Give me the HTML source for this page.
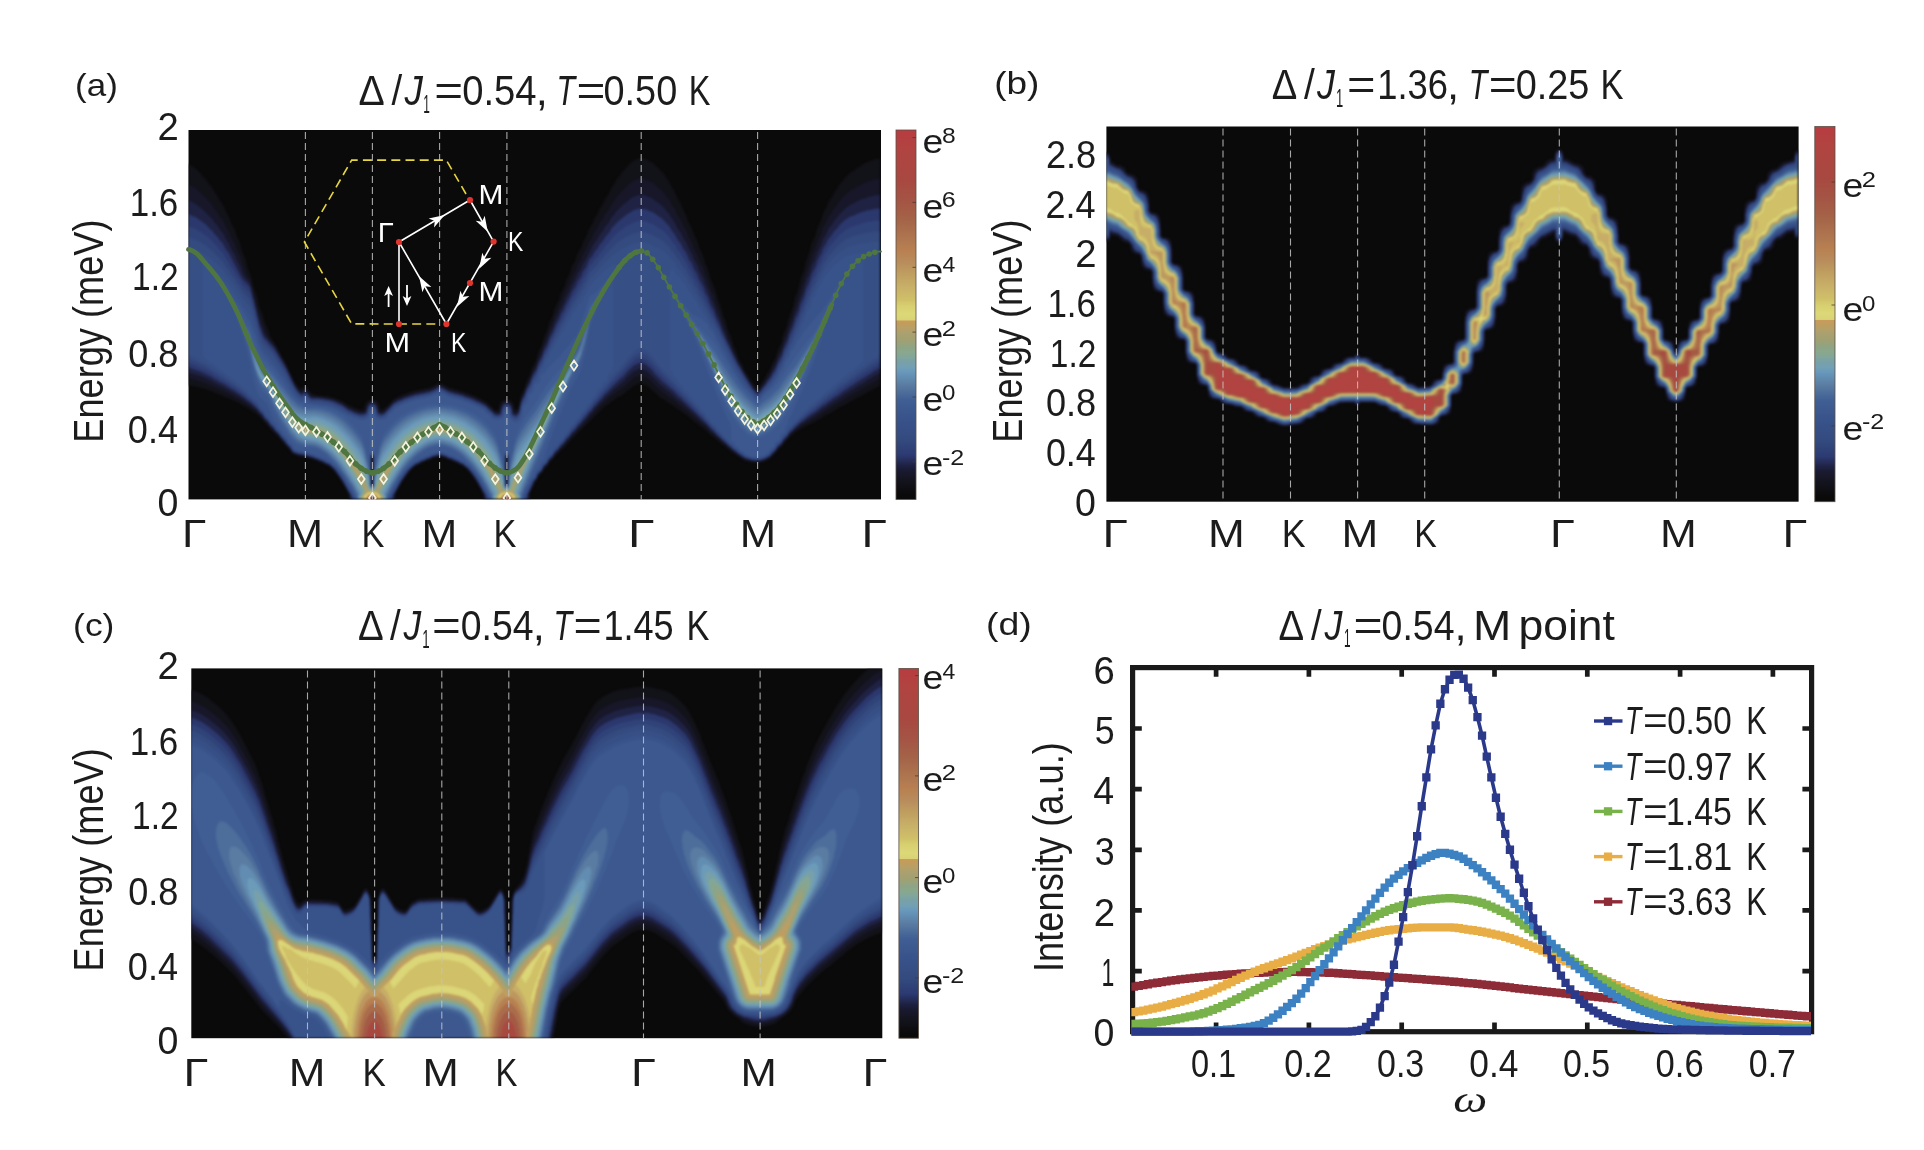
<!DOCTYPE html><html><head><meta charset="utf-8"><title>fig</title><style>html,body{margin:0;padding:0;background:#fff}svg{display:block}</style></head><body>
<svg style="opacity:0.999" width="1924" height="1150" viewBox="0 0 1924 1150" font-family="'Liberation Sans', sans-serif" fill="#1c1c1c">
<defs><filter id="bl" color-interpolation-filters="sRGB" x="-5%" y="-5%" width="110%" height="110%"><feGaussianBlur stdDeviation="1.6"/></filter>
<linearGradient id="cbg" x1="0" y1="1" x2="0" y2="0"><stop offset="0.0000" stop-color="#0a0a0a"/><stop offset="0.0120" stop-color="#0a0a0a"/><stop offset="0.0525" stop-color="#14141e"/><stop offset="0.0800" stop-color="#1a1a32"/><stop offset="0.0930" stop-color="#1f2244"/><stop offset="0.1200" stop-color="#2c3a72"/><stop offset="0.1600" stop-color="#334a7e"/><stop offset="0.2150" stop-color="#38528a"/><stop offset="0.2700" stop-color="#405f94"/><stop offset="0.3100" stop-color="#5a7ca2"/><stop offset="0.3450" stop-color="#6898bc"/><stop offset="0.3580" stop-color="#72a0b4"/><stop offset="0.3720" stop-color="#78a0a8"/><stop offset="0.3850" stop-color="#80a69c"/><stop offset="0.4000" stop-color="#8aa88a"/><stop offset="0.4100" stop-color="#8ca488"/><stop offset="0.4230" stop-color="#9aa278"/><stop offset="0.4370" stop-color="#a4a070"/><stop offset="0.4500" stop-color="#aca070"/><stop offset="0.4640" stop-color="#b8a064"/><stop offset="0.4775" stop-color="#c49c5c"/><stop offset="0.4840" stop-color="#c89c5c"/><stop offset="0.4846" stop-color="#d8d274"/><stop offset="0.5000" stop-color="#dcd878"/><stop offset="0.5230" stop-color="#d8d070"/><stop offset="0.5400" stop-color="#d0c068"/><stop offset="0.5750" stop-color="#c8b068"/><stop offset="0.6070" stop-color="#c0a060"/><stop offset="0.6430" stop-color="#b88c5c"/><stop offset="0.6750" stop-color="#b88050"/><stop offset="0.7000" stop-color="#b07850"/><stop offset="0.7560" stop-color="#a46448"/><stop offset="0.8100" stop-color="#a45444"/><stop offset="0.8650" stop-color="#a84840"/><stop offset="0.9460" stop-color="#b04440"/><stop offset="1.0000" stop-color="#b83c40"/></linearGradient>
</defs>
<rect width="1924" height="1150" fill="#ffffff"/>
<clipPath id="cp1"><rect x="188.5" y="130.0" width="692.5" height="369.4"/></clipPath>
<rect x="188.5" y="130.0" width="692.5" height="369.4" fill="#0a0a0a"/>
<g clip-path="url(#cp1)"><g filter="url(#bl)" transform="translate(188.50,130.00) scale(0.5000)">
<path fill="#121219" d="M1383 56l-1 1-12 2-8 4-2 0-14 7-3 3-5 2-7 6-6 3-13 12-2 4-7 7-7 12-4 4-4 9-8 11-3 9-7 12-5 16-7 14-5 18-6 12-3 9-1 7-2 4 0 3-2 3-5 14-4 19-6 14-4 19-8 21-3 15-5 14-2 3 0 3-2 4-4 17-6 13-4 18-3 7-3 4-6 20-7 12 0 2-5 11-6 8-3 8-7 9-4 9-3 3-3 0-2-2-4-8-6-7-4-9-8-10-3-9-9-16-4-14-7-14 0-3-2-4-2-9-7-15-3-14-6-13-3-13-2-4 0-3-6-14-7-25-5-9-3-9-1-7-2-4 0-3-6-12-5-18-6-11-5-16-7-13-2-8-9-18-3-10-10-19-3-9-7-10 0-2-6-13-4-5-6-13-5-6-5-9-22-21-14-8-3 0-5-2-5 0-12 5-7 6-17 18-4 7-7 8-5 10-5 6-5 12-8 11 0 2-4 8-6 8-5 12-4 5-4 8 0 2-10 18-2 7-8 14-3 10-8 14-5 15-6 9-6 19-5 8-5 16-7 13-4 14-8 16-4 15-6 11-5 18-6 12-5 18-6 11-6 21-7 12-4 14-6 10-5 17-7 14-4 20-3 7-2 2-2 0-2-2-2-9-4-6-7-3-6 0-5 2-4 4-3 7-1 7-2 2-3 0-4-2-3-4-13-12-7-3-5-4-2 0-9-5-5-1-7-4-3 0-9-4-3 0-7-3-4 0-7-3-6-1-16-9-6 0-5 4-15 6-4 0-5 2-5 0-5 2-8 1-29 10-13 7-6 7-15 14-4 0-2-2-1-7-3-6-5-4-10-1-5 2-4 4-2 4-2 9-1 1-7 0-12-4-5-3-5-1-14-9-9-4-16-5-26-3-9-3-5-4-3-6-4-4-4 0-4 3-5 0-11-14-19-41-2-2-8-16-18-30-4-14-7-14-6-21-3-5-3-9-3-16-9-23-4-19-7-17-4-18-6-13-6-22-5-9-5-16-7-12-3-10-5-8-9-20-7-9-4-9-4-4-6-11-6-6-4-7-8-8-4-6-12-11-13-9 0 444 15 2 4 2 4 0 8 3 3 0 6 3 5 1 7 4 5 1 7 4 3 0 7 4 5 1 25 12 2 2 9 4 3 3 7 3 4 4 6 3 25 26 3 5 18 17 3 5 20 22 1 3 4 4 11 4 6 0 5 2 8 1 18 6 7 4 5 1 8 5 2 0 8 6 5 5 10 14 15 25 4 8-1 1 0 6 95 0-1-9 2-4 2-2 3-7 9-15 14-19 11-9 6-2 2-2 15-7 3 0 7-4 10-3 8 0 9 3 5 3 5 1 7 4 5 1 2 2 9 4 4 4 3 1 12 14 17 27 6 12-2 7 96 0-1-11 7-13 0-2 3-6 4-4 3-6 0-2 9-9 2-5 9-9 3-6 8-7 2-4 5-4 4-5 10-9 13-15 69-68 6-3 6-6 6-3 6-5 5-2 9-6 6-6 4-2 8-7 11-5 5 0 12 5 26 24 8 4 3 3 18 11 4 4 8 4 5 5 6 3 16 14 4 2 5 5 9 6 2 3 5 3 9 9 4 2 18 16 3 1 8 8 4 2 6 6 5 2 7 6 5 2 7 5 7 1 4 2 19 1 1-1 7-1 9-5 2 0 6-7 9-8 2-4 10-9 2-4 10-11 15-13 5-2 3-3 6-2 2-2 18-9 2 0 5-4 7-3 5-4 19-10 5-4 4-1 5-4 18-9 5-4 2 0 6-3 2-2 9-4 2-2 9-4 2-2 9-4 2-2 9-4 6-4z"/>
<path fill="#171729" d="M1383 97l-1 1-11 1-7 3-6 1-15 7-2 2-6 2-3 3-7 3-4 4-5 3-15 16-4 7-7 8-4 8-5 6-8 17-4 6-4 13-8 16-3 12-7 13-6 22-6 13-4 18-5 11-4 12-1 7-5 14-2 3-4 17-3 9-5 10 0 3-2 4 0 3-4 12-4 7-6 22-7 13-4 13-6 10-7 16-3 3-7 13-5 5-5 10-3 3-2 0-5-5-1-3-8-10-25-44-2-7-7-13-4-15-6-11-6-21-7-15-3-13-7-15-5-18-6-11-6-21-5-9-4-14-8-15-5-15-2-2-5-10-2-8-9-16-1-5-5-10-2-2-7-16-5-6-8-17-3-3-6-12-7-8-4-7-22-19-7-3-4-3-7-2-4 0-1-1-7 1-10 4-4 4-4 2-25 26-3 6-7 8-5 11-7 8-4 9-7 9-4 9-8 11-6 14-4 5-3 6 0 2-11 20-2 7-5 7-5 11 0 2-10 18-2 8-9 17-3 10-8 15-2 8-8 15-4 14-7 13-5 17-6 11-4 14-8 16-3 12-9 16-3 11-8 15-3 11-7 14-6 25-4 5-4 0-1-1-4-14-5-6-9-1-4 2-4 6-3 12-2 2-6 0-20-18-15-8-2 0-6-4-5-1-5-3-6-1-9-4-3 0-4-2-17-4-19-10-4 1-4 3-14 6-12 2-1 1-5 0-5 2-4 0-7 3-6 1-6 3-3 0-7 4-5 1-9 5-7 8-15 14-6 0-1-1-5-15-4-4-3-1-6 0-7 6-3 8 0 3-3 4-8 0-19-7-6-3-9-7-18-8-3 0-9-3-5 0-1-1-25-2-6-4-3-6-4-4-3 0-6 4-3 0-4-4-8-13-19-41-6-9-11-21-6-9-9-10-7-14-6-20-6-13-2-11-6-18 0-3-1-1-5-23-4-11 0-3-6-7-2-4-3-11-4-7-5-18-7-13-3-10-6-10-5-11 0-2-6-9-6-14-7-8-4-8-7-8-6-10-8-9-23-22-15-9 0 389 4 0 4 2 4 0 7 3 3 0 6 3 8 2 5 3 2 0 11 6 6 2 4 3 5 1 4 3 6 2 10 6 2 0 5 4 7 3 5 4 5 2 7 6 3 1 4 4 8 5 14 15 3 5 7 6 2 4 22 23 26 32 11 4 15 2 24 8 13 6 2 2 2 0 6 3 5 4 12 15 18 29 3 7 2 2 0 7-1 1 92 0 0-5-1-2 12-22 17-25 9-9 17-10 5-1 7-4 3 0 7-4 6-1 4-2 9 1 11 5 5 1 7 4 5 1 4 3 9 4 4 4 4 2 14 18 14 23 6 12 0 5-1 2 92 0-1-9 12-25 4-5 2-6 9-9 4-8 6-5 3-6 9-9 2-4 11-12 8-7 3-5 8-7 3-5 9-8 4-6 8-7 39-43 22-20 4-2 6-6 3-1 8-7 4-2 18-17 11-5 6 0 11 5 29 28 3 1 5 5 16 11 7 7 6 3 7 7 4 2 18 17 4 2 20 18 9 10 4 2 19 18 4 2 5 6 4 2 6 6 7 4 4 4 11 7 7 3 3 0 5 2 5 0 1 1 12 0 1-1 3 0 6-2 11-6 13-14 2-4 9-8 2-4 9-9 3-5 12-11 7-4 4-4 17-9 3-3 9-4 4-4 5-2 9-7 16-9 3-3 7-3 6-5 2 0 18-12 7-3 5-4 7-3 3-3 7-3 5-4 7-3 5-4 4-1 9-6zM636 652l2 2-1 55-1 1-1-1 0-56zM367 652l2 2 0 35-1 1 0 19-1 1-1-1 0-56z"/>
<path fill="#1f2243" d="M1383 130l-13 1-1 1-11 2-3 2-8 2-13 6-4 3-6 2-3 3-7 4-5 6-8 7-2 4-7 7-5 9-7 8-4 10-8 13-3 10-9 18 0 3-3 6 0 2-6 10-6 21-4 7-4 12-3 13-7 16 0 3-2 4-2 9-5 10-7 24-4 7-6 21-5 9-6 20-6 10-5 15-7 11-4 10-6 7-7 12-5 5-3 6-4 3-3 0-11-14-1-3-13-20-7-14-2-2-15-30-4-11-6-11-3-11-7-14-4-15-7-14-6-19-5-8-5-17-6-11-4-13-9-17-2-7-9-16-2-7-5-8-9-20-3-3-7-15-6-7-6-13-7-9-4-8-6-6-3-5-14-12-3-1-7-6-18-7-10 0-11 4-9 6-7 7-4 2-5 6-8 7-6 9-5 5-2 5-4 6-5 5-4 8-6 7-6 11-7 9-17 33-4 5-7 16-3 3-9 20-5 7-4 12-8 14-2 7-5 10-3 4-3 10-9 17-2 8-8 15-4 13-7 13-5 16-6 10-4 14-10 18-2 8-8 14-3 11-6 11-4 13-2 12-2 4-4 3-2 0-4-3-2-10-3-6-5-4-6 0-4 3-5 12 0 4-3 3-7 0-21-19-7-3-2-2-4-1-9-5-5-1-5-3-8-2-3-2-30-8-16-9-6 1-5 4-12 5-4 0-5 2-18 3-7 3-6 1-3 2-6 1-7 4-3 0-11 6-7 8-15 14-7 0-2-2-2-9-3-6-4-4-7 0-4 3-3 6-1 6-3 5-2 1-9 0-22-9-14-10-11-5-9-3-8-1-1-1-5 0-1-1-26-2-10-12-3 0-5 4-3 0-10-13-21-44-2-2-3-7-2-2-13-24-15-17-2-4-3-2-3-6-2-8-5-10 0-3-2-4 0-3-3-9 0-4-1-1-10-43-4-11 0-3-9-10-6-9-5-15-8-15-2-7-7-11-6-14-6-8-3-8-9-11-4-7-6-6-5-8-4-3-11-12-16-13-16-9 0 345 26 8 22 10 2 2 9 4 6 4 4 1 5 4 6 2 5 4 7 3 5 4 5 2 7 6 3 1 8 7 3 1 7 7 4 2 4 4 3 5 6 5 5 8 6 5 5 8 7 6 3 5 8 7 2 4 9 10 3 5 9 9 2 4 4 4 12 4 5 0 1 1 8 1 4 2 9 2 6 3 3 0 15 7 2 2 6 2 12 11 17 25 14 25-1 6 88 0 0-5-1-1 2-2 12-23 9-14 15-18 7-5 6-2 8-5 2 0 7-4 3 0 7-4 6-1 4-2 7 0 4 2 6 1 7 4 3 0 23 11 8 6 12 14 13 20 10 20 2 2-1 6 88 0-1-7 11-22 0-2 2-4 4-4 3-8 8-8 4-8 6-5 5-9 6-5 5-8 7-6 3-5 19-20 2-4 22-23 2-4 7-6 3-5 9-9 3-5 10-11 8-7 6-8 5-3 10-11 22-18 5-6 14-13 14-6 13 5 28 29 4 2 7 7 4 2 19 18 4 2 33 30 7 8 15 13 7 9 5 3 7 8 6 4 5 6 5 3 6 7 4 2 7 7 20 14 10 4 8 1 1 1 6 0 1 1 12-2 16-8 12-13 2-4 9-8 4-7 8-8 3-5 24-21 6-3 4-4 5-2 7-6 2 0 10-8 3-1 4-4 9-5 4-4 3-1 9-7 5-2 18-13 5-2 4-4 7-3 3-3 18-10 6-5 7-3 3-3 15-8zM636 651l2 2 0 56-2 2-1-1 0-14-1-1 0-41zM367 651l2 2 0 56-2 2-1-1 0-22-1-1 0-33z"/>
<path fill="#2b386e" d="M1383 157l-13 1-1 1-13 2-4 2-6 1-5 3-3 0-7 4-7 2-11 7-11 10-3 5-9 9-4 7-7 8-5 11-3 3-3 6-1 5-9 17-4 13-7 12-6 20-6 12-4 16-6 12-3 9 0 3-3 9-5 9-5 18-7 14-4 15-8 16-3 12-9 16-4 12-6 8-4 9-4 4-8 12-5 5-2 4-5 5-4 0-8-9-30-50-30-62-6-17-7-13-4-13-7-12-5-16-6-10-3-10-9-16-4-11-7-11-3-9-7-10 0-2-6-12-5-6-5-11-5-5-6-12-6-7-5-9-14-15-20-14-2 0-10-5-10-1-1-1-7 1-9 3-5 4-5 2-20 16-13 14-5 9-7 7-5 9-6 6-4 8-7 8-5 10-5 4-7 17-6 8-5 12-5 6-6 14-6 8-4 11-10 18-2 7-6 9-3 9-9 16-3 10-8 14-4 13-7 12-5 15-6 10-4 13-6 9-5 11-1 5-9 16-2 8-6 11-2 6-4 19-5 6-4 0-4-3-1-2 0-5-3-8-3-4-4-2-4 1-4 4-3 7-1 7-3 3-5 1-6-2-3-4-14-13-13-7-2 0-9-5-18-6-3-2-7-1-4-2-3 0-13-4-17-9-6 0-5 4-15 6-4 0-5 2-5 0-5 2-8 1-21 7-5 3-5 1-12 7-16 18-6 3-6-1-2-2-5-15-3-3-3-1-4 1-4 4-4 13-3 3-10 1-12-4-7-4-2 0-14-10-17-8-10-3-10-1-1-1-6 0-1-1-16 0-3-1-4-4-2-4-4-3-3 1-3 3-3 0-6-6-7-11-17-36-19-32-7-10-8-8-4-6-5-4-4-8-6-17-12-52-2-4-1-7-2-4 0-3-3-9-4-3-11-12-27-52-7-9-5-10-7-7-2-4-8-8-3-5-5-4-8-9-21-15-4-1-10-5 0 307 23 8 25 12 3 3 7 3 5 4 6 2 18 12 5 2 3 3 10 6 4 4 3 1 6 6 4 2 17 16 3 5 6 5 3 6 9 9 2 4 9 9 2 4 8 7 4 7 18 20 6 9 10 4 15 2 7 3 9 2 13 6 5 1 4 3 10 4 9 8 17 24 18 32-1 4 84 0 0-6 17-30 14-20 13-12 9-4 4-3 5-1 19-9 3 0 5-2 8 0 9 3 5 3 5 1 5 3 7 2 8 5 2 0 8 6 9 9 14 20 17 31-1 4 84 0 0-7 13-28 5-6 3-8 9-9 1-4 2-3 6-5 4-8 7-6 4-7 10-10 2-4 6-5 6-9 5-4 5-8 7-6 6-9 5-4 3-5 8-8 6-9 5-4 5-8 5-4 4-6 9-9 3-5 4-3 22-23 13-11 7-9 13-12 10-5 7 0 8 4 11 10 5 7 16 16 23 20 9 10 5 3 1 2 55 54 3 5 4 3 9 10 33 30 4 2 5 5 16 10 3 0 8 3 5 0 1 1 10 0 10-3 10-5 14-15 1-3 9-8 4-7 8-8 2-4 26-25 3-1 17-14 9-5 14-12 6-3 5-5 3-1 7-6 9-5 14-11 5-2 4-4 8-4 7-6 5-2 3-3 8-4 6-5 5-2 6-5 13-7zM636 650l3 4 0 28-1 1 0 27-1 1-3-2 0-57zM367 650l3 4 0 35-1 1 0 20-1 1-3-2 0-57z"/>
<path fill="#304379" d="M1383 182l-13 0-1 1-12 1-4 2-4 0-7 3-3 0-8 4-3 0-5 2-2 2-7 3-5 5-5 3-23 26-5 10-6 8-4 11-8 14-5 15-2 2-5 10-3 11-7 14-5 18-7 14-3 12-7 14-5 17-6 11-5 16-7 13-5 16-6 9-6 15-11 17-6 6-2 4-5 5-4 6-8 7-4-2-5-6-16-24-14-25-2-2-4-9-2-2-5-10 0-2-21-42-3-9-6-10-4-11-9-15-3-10-8-14-2-7-8-13-4-11-7-10-6-14-3-3-7-15-7-9-3-7-8-9-3-7-7-8-7-11-1 0-9-10-22-14-2 0-11-5-5 0-1-1-9 0-1 1-10 2-2 2-9 4-21 15-13 14-2 4-9 9-4 7-7 7-3 6-9 10-2 4-6 5-7 17-5 7-5 11-6 8-6 13-5 6-8 18-4 5-2 6-23 44-2 7-4 6-4 8-2 7-8 14-4 12-8 14-3 10-6 9-4 8-1 5-10 18-2 8-7 13-4 20-2 4-4 4-3 0-7-5 0-6-2-6-3-5-3-2-4 0-4 4-3 7 0 5-1 2-4 3-6 1-5-2-4-5-8-6-4-5-10-5-2-2-2 0-21-10-3 0-12-5-3 0-4-2-4 0-7-3-6-1-16-9-5 0-6 4-11 5-30 6-4 2-9 2-3 2-3 0-7 4-5 1-11 6-20 21-3 1-6 0-5-4 0-4-2-6-3-5-3-2-3 0-5 4-3 7 0 4-3 4-4 2-9 0-12-4-7-4-2 0-14-10-20-9-3 0-4-2-10-1-1-1-6 0-1-1-16 0-4-2-3-5-4-4-2 0-5 4-2 0-8-8-4-6-5-10-2-2-11-23-25-41-11-12-3-5-6-5-5-10-4-12-9-39-2-4-2-10-7-21-2-1-13-14-5-10-7-9-4-9-7-9-4-9-4-4-8-14-5-4-3-5-12-13-13-12-3-1-7-6-5-2-7-5-5-1-8-4 0 274 12 4 7 4 5 1 4 3 4 1 13 7 8 6 5 2 6 5 4 1 6 5 5 2 6 5 6 3 20 15 7 7 5 3 7 8 7 5 4 7 8 8 3 6 9 9 1 3 10 10 1 3 21 23 4 7 4 3 5 8 4 4 9 3 14 2 14 4 3 2 8 2 13 6 4 3 6 2 12 11 14 20 16 29 2 2 2 4-1 3 80 0 0-4 19-34 12-17 8-9 10-7 2 0 8-5 7-2 2-2 8-2 4-3 6-1 4-2 9 0 9 3 5 3 8 2 7 4 4 1 6 4 4 1 5 5 4 2 8 9 10 14 8 15 2 2 4 9 2 2 4 8 0 4 80 0 0-5 12-25 1-4 6-7 3-8 8-8 3-7 9-9 3-7 7-6 3-6 20-22 4-7 6-5 4-7 10-10 2-4 7-7 5-8 17-19 4-7 19-21 2-4 8-7 6-9 19-18 11-13 17-17 10-5 4 0 11 5 4 5 9 8 2 4 10 11 7 6 5 6 54 53 13 15 8 7 4 6 4 3 5 7 10 9 4 6 3 2 9 10 5 3 2 3 16 15 3 1 6 6 6 3 4 4 4 2 14 4 13 1 10-3 10-5 5-6 8-7 3-6 9-8 5-9 7-6 3-6 8-7 4-6 6-4 16-15 17-12 6-6 4-2 6-6 7-4 6-6 6-3 5-5 3-1 8-7 6-3 5-5 6-3 5-5 5-2 7-6 3-1 6-5 21-13 3-3 5-2 6-5 2 0zM636 649l3 3 0 54-2 6-3-2 0-26-1-1 0-29zM367 649l1 0 2 3 0 57-2 3-3-2 0-59z"/>
<path fill="#344b80" d="M1383 204l-16 0-1 1-7 0-6 2-5 0-4 2-17 4-10 5-2 0-7 6-4 2-5 6-9 8-3 5-7 7-4 8-5 6-5 10 0 2-9 16-3 10-8 13-4 14-8 16-3 12-6 11-5 16-8 16-3 11-7 13-4 13-7 12-1 5-5 12-4 5-6 14-12 18-7 7-13 17-4 3-4-1-9-11-17-25-12-20-24-47 0-2-9-17 0-2-4-8-2-2-5-10-1-4-8-12-2-6-4-8-4-5-6-14-6-8-5-12-6-8-4-10-8-11-4-9-6-7-6-11-6-6-5-9-6-6-4-7-13-12-6-3-3-3-4-1-10-6-5-1-3-2-9-1-1-1-8 0-1 1-10 2-7 4-4 1-22 14-24 25-2 4-9 9-2 4-10 11-7 6-7 17-4 5-5 11-7 9-5 11-7 9-6 14-6 8 0 2-6 12-4 5-6 14-5 7-5 11 0 2-5 7-5 11 0 2-8 13-4 12-8 13-3 10-7 10-4 11-9 15-3 11-3 4-4 9-2 13-4 10-5 4-9-5-2-5 0-6-4-7-2-1-4 0-3 3-3 7 0 5-2 3-7 3-3 0-5-2-5-6-6-4-5-6-14-8-2 0-19-9-6-1-5-3-3 0-8-3-17-4-16-9-5 0-10 6-11 4-26 5-4 2-9 2-3 2-3 0-7 4-5 1-11 6-6 7-16 15-7 0-4-2-2-3-1-7-3-6-3-2-4 0-3 3-3 7 0 4-5 5-8 2-1-1-4 0-6-3-3 0-7-4-2 0-19-12-22-9-13-2-1-1-6 0-1-1-15 0-3-1-6-8-2-1-3 0-3 3-4 0-11-12-8-15-2-2-12-24-4-5-18-30-11-12-3-5-2 0-3-3-6-12-5-15 0-3-2-4 0-3-7-22 0-3-9-27-2-1-12-13-6-11-6-7-2-5-10-13-4-8-5-5-5-9-10-11-7-6-7-8-4-2-7-7-3-1-8-6-21-9-3 0 0 243 12 4 26 13 14 10 5 2 7 6 4 1 7 6 6 3 4 4 6 3 8 7 3 1 7 7 5 3 6 7 4 2 1 2 13 12 3 6 8 8 4 8 6 5 6 10 7 6 2 4 9 9 2 4 10 10 2 5 8 8 1 3 4 5 10 4 15 2 24 8 20 10 2 0 15 14 10 14 14 25 2 2 2 5 2 2 3 6 0 3 77 0-1-2 20-36 10-15 11-12 4-2 4-4 4-1 8-5 2 0 7-4 8-2 4-3 6-1 4-2 9 0 9 3 5 3 8 2 13 6 4 3 4 1 5 5 3 1 8 8 14 20 10 19 2 2 7 14 0 2 76 0 0-4 14-31 6-6 5-11 6-5 5-10 6-5 4-8 8-8 3-6 9-9 3-6 7-6 3-6 9-9 4-8 8-7 3-6 8-8 4-7 7-7 4-7 7-7 4-7 7-7 4-7 8-8 2-4 9-9 2-4 9-9 3-5 9-8 9-10 3-5 15-16 12-6 6 1 6 3 16 16 2 4 8 8 3 5 20 19 25 28 8 7 3 5 8 7 3 5 8 7 3 5 8 7 2 4 10 10 1 3 10 9 2 4 5 4 21 22 10 9 4 2 7 7 3 1 6 5 13 5 15 2 14-4 2-2 7-3 4-6 8-7 3-6 9-8 4-8 7-6 3-6 10-11 8-7 8-9 4-2 17-16 7-4 5-6 4-2 7-7 4-2 6-6 7-4 14-12 19-13 5-5 6-3 14-11 38-25zM637 648l2 3 0 59-3 3-2-2 0-7-1-1 0-51 1-2zM368 648l3 6 0 21-1 1 0 34-3 3-2-2 0-14-1-1 0-44 1-2z"/>
<path fill="#364f85" d="M1383 224l-17 0-1 1-16 1-1 1-13 2-4 2-4 0-11 4-8 6-3 1-10 9-15 16-3 6-7 9-6 14-6 9-4 12-8 13-4 13-7 13-4 14-9 18-2 8-6 10-6 18-2 2-5 10-3 10-8 14 0 2-5 11-4 5-7 15-9 13-19 21-3 5-4 3-4-1-3-3-18-24-18-29-3-7-2-2-40-79-6-8-6-13-7-10-4-9-5-6-5-11-7-9-5-11-7-9-3-7-6-7-5-9-8-8-5-9-8-8-3-5-10-9-23-12-16-5-14 0-1 1-8 1-32 16-6 6-5 3-2 3-12 11-23 26-7 6-7 16-7 10-4 9-6 7-4 9-8 10-5 12-5 6-7 15-3 3-8 17-4 5-7 16-3 3-4 8-2 7-6 8-3 9-10 17-3 10-7 9-3 9-10 17-1 6-8 14-1 8-4 14-6 7-5-1-7-6-2-12-2-3-3-2-3 1-3 3-2 5 0 5-3 4-4 2-9 0-2-1-7-8-5-3-5-6-7-3-2-2-6-2-6-4-5-1-7-4-3 0-12-5-3 0-4-2-17-4-17-9-6 0-5 4-12 5-7 1-5 2-5 0-5 2-4 0-7 3-3 0-15 5-7 4-2 0-11 6-5 6-9 8-2 4-6 4-7 0-4-2-3-3-2-10-2-3-3-2-5 3-3 6 0 4-3 4-5 3-6 1-14-4-5-3-7-2-14-9-23-10-13-2-1-1-5 0-1-1-18-1-11-10-6 4-5-1-6-6-5-7-8-15-2-2-6-13-20-32-6-8-11-11-3-5-2 0-5-6-6-13-3-9 0-3-2-4 0-3-15-45-15-18-4-8-7-9-5-9-8-9-3-6-6-6-4-7-17-17-18-15-21-11-9-2-4-2-2 0 0 215 2 0 15 7 2 2 6 2 2 2 9 4 6 5 5 2 5 5 5 2 4 4 9 5 5 5 5 2 5 5 6 3 7 7 3 1 9 9 4 2 2 3 22 21 4 8 8 8 4 8 6 5 5 9 7 6 3 6 8 7 4 7 7 6 5 9 7 7 4 7 11 4 18 3 3 2 3 0 9 4 5 1 5 3 5 1 10 6 2 0 9 7 6 6 11 15 19 32 5 10 0 2 73 0 0-3 6-12 2-2 15-27 7-10 9-10 4-2 7-6 2 0 10-6 2 0 7-4 8-2 4-3 3 0 8-3 8 0 9 3 5 3 8 2 13 6 4 3 4 1 7 6 4 2 9 10 11 16 11 21 2 2 6 12 0 3 74 0 1-8 12-26 8-9 4-9 7-7 4-8 7-7 4-8 8-8 2-5 9-9 3-6 9-9 2-5 8-8 4-8 8-7 3-6 8-8 4-8 6-5 4-8 8-8 4-8 6-5 5-9 8-8 2-5 8-7 4-8 9-9 2-4 8-7 2-4 9-9 3-6 15-16 11-6 7 1 11 7 11 12 3 6 8 8 2 4 9 8 11 12 3 5 8 7 1 3 10 9 2 4 10 10 2 4 9 8 1 3 11 11 1 3 9 8 3 6 8 7 2 5 10 9 1 3 9 8 3 5 25 24 4 2 7 7 3 1 7 6 17 5 13 0 4-2 3 0 11-6 13-14 3-6 9-8 4-8 7-6 4-8 8-7 1-3 38-36 3-1 7-8 4-2 8-8 4-2 7-7 4-2 17-15 7-4 6-6 3-1 7-7 5-2 5-5 7-4 4-4 6-3 8-7 3-1 7-6 5-2 4-4 4-2zM636 647l3 2 1 3-1 59-2 2-2 0-2-3 0-36-1-1 0-19 1-1 0-3zM367 647l3 2 1 3 0 42-1 1 0 16-2 2-2 0-2-4 0-59z"/>
<path fill="#38538a" d="M865 265l-7 5-4 0-3-3-3 0-6 7-2 0-5 3-2 3-22 21-3 5-6 5-7 15-5 6-5 11-6 6-5 11-7 7-4 11-7 8-5 12-6 7-5 12-6 7-5 13-6 7-5 13-5 6-6 15-3 3-4 7-3 10-7 8-6 15-6 8-4 13-6 9-4 20-4 7-5 4-6-3-6-6-1-9-2-4-3-2-2 0-3 3-2 9-3 4-6 3-7 0-3-1-6-7-7-5-5-6-6-2-5-4-2 0-9-5-5-1-5-3-8-2-3-2-10-2-4-2-4 0-7-3-3 0-19-10-2 0-6 4-13 6-4 0-5 2-18 3-7 3-6 1-6 3-3 0-7 4-5 1-5 4-4 1-5 6-9 8-4 6-6 3-6 0-4-2-5-6 0-5-2-4-3-2-2 0-3 3-2 9-4 4-5 3-5 1-1-1-5 0-6-3-3 0-5-3-7-2-29-15-12-4-5 0-1-1-10-1-1-1-16-1-4-2-6-8-4 0-4 4-4 0-4-3-6-7-19-32-7-9-12-19-18-22-8-7-8-16-8-26-2-3-9-27-16-21-4-9-6-7-5-9-7-7-3-6-3-4-6-5-5-8-4-2-7-8-6-3-7-7-5-2-6-5-2 0-2 2 0 184 5 7 4 1 5 6 5 2 6 6 3 1 8 7 6 3 6 6 3 1 9 8 3 1 8 8 3 1 7 8 4 2 4 4 2 4 8 6 2 4 9 8 4 8 8 8 4 9 7 6 3 7 8 7 3 6 7 6 4 7 9 9 2 5 9 9 1 4 4 4 9 3 5 0 5 2 8 1 7 3 3 0 5 3 8 2 2 2 5 1 6 4 8 3 6 6 4 2 9 10 7 10 14 25 2 2 3 7 2 2 2 4 0 4 70 0 0-3 4-8 2-2 4-9 2-2 8-15 10-15 12-12 3-1 7-6 2 0 10-6 2 0 7-4 5-1 5-3 12-4 9 0 12 4 5 3 5 1 13 6 6 4 2 0 7 6 4 2 12 12 8 12 8 15 2 2 11 22 0 2 70 0 0-5 9-20 2-2 4-9 7-7 4-10 7-6 4-10 6-4 4-7 1-4 7-5 3-5 1-4 8-7 4-8 7-6 4-8 6-5 3-5 1-4 9-8 3-7 7-6 5-10 2-1 6-7 2-6 7-6 3-6 0-2 8-7 4-10 7-5 3-9 3-3 4-1 2-3 0-4 2-6 7-5 0-6 2-4 0-155 1-1 0-12 6-20 9-15zM635 646l2 0 2 2 2 6-1 50-1 1 0 7-2 2-4-3 0-19-1-1 0-40zM366 646l2 0 3 3 0 3 1 1-1 56-3 5-1 0-3-4 0-23-1-1 0-35zM1349 246l-2-1-10 1-1 1-9 1-13 4-8 6-3 1-7 7-5 3-3 5-8 7-4 8-7 8-4 11-3 3-4 7-4 12-5 6-3 6-3 11-8 14-3 12-7 11-3 11-9 16-2 8-10 18-1 5-9 15-4 12-6 8-6 13-6 7-4 7-19 20-3 5-4 3-4-1-3-3-3-5-16-19-13-19-9-15-3-7-2-2-4-9-2-2-29-57-7-9-5-11-8-11-1-4-9-11-3-8-8-9-3-8-8-9-4-9-8-8-4-8-9-6-1-5-4-5-5 0-2 2-1 10-2 3-4 0-8-8 0 6 9 19 4 12 1 9 1 1 0 148 6 6 1 7 5 3 4 4 2 7 9 7 0 2 3 5 8 7 2 5 8 7 3 6 8 7 3 6 7 6 3 6 9 9 3 6 8 7 4 7 9 8 2 4 3 2 11 12 10 9 4 2 5 6 5 2 5 5 14 5 16 1 10-3 2-2 7-3 4-6 8-7 2-5 10-10 3-6 8-8 4-8 7-6 3-6 5-4 30-31 4-2 8-9 4-2 9-9 4-2 6-7 3-1 8-8 4-2 18-16 3-1 7-8 4-1 3-2 5-6 4-1 2-4 7-6 1-2 0-206 1-1 0-7z"/>
<path fill="#3c588f" d="M1306 301l-9 12-13 23-17 25-27 31-11 14-4 8-7 7-6 15-7 6-3 11-3 6-3 2-2 3-6 16-7 8-1 4-5 9-5 5-4 7-18 17-4 7-5 4-4-1-4-4-2-4-19-20-12-17-2-5-7-10-5-11-5-7-7-15-4-5-6-14-6-8-6-13-7-8-5-11-14-12-8-3-9-6-14-14-24-30 0 6 10 20 2 2 32 66 0 2 10 23 1 5 2 3 1 5 2 3 1 5 2 3 1 5 2 3 1 5 8 18 3 10 3 5 2 7 3 5 0 2 11 24 0 2 5 9 0 2 12 23 2 7 0 27 1 2 5 3 2 6 2 2 4 1 3 3 1 4 6 2 6 7 3 0 9 4 14 1 4-2 6-1 6-5 3 0 2-4 0-3 4-4 5-1 1-2 0-5 2-4 9-4 0-5 2-6 8-5 0-6 2-5 3-3 0-4 3-9 7-12 4-11 6-11 0-2 12-25 4-12 9-20 4-13 2-3 28-86 2-3 3-11 2-3 2-8 2-3 2-8 7-16 1-5 8-17zM847 290l-7 6-13 16-13 13-4 3-7 3-21 66-6 13-17 23-7 7-9 12-14 13-13 14-3 6-2 2-7 2-1 11-2 5-2 2-5 1-3 2 0 6-1 1-1 7-4 4-3 0-2 2-1 12-2 5-3 3-5 2 0 10-1 1 0 6-2 7-4 5-4 1-2 3-5-1-4-5-2 0-3-3-1-7-1-1 0-5-2-2-3 0-3 3-1 9-3 4-4 0-6 3-5-2-4 0-5-4-1-4-2-2-5-1-6-8-5-1-4-4-6-1-3-3-4-2-4 0-6-4-5 0-6-4-4 0-7-3-5 0-6-3-7-1-3-3-8-2-3-3-3 0-3 3-5 2-3 0-7 4-5 0-5 2-9 1-4 2-5 0-3 2-7 1-5 3-6 1-6 4-4 0-6 5-5 1-2 2-1 5-3 3-5 1-2 2-1 5-5 4-5 0-1 1-6 0-3-2-3 0-3-4-2-6 0-4-2-2-3 0-2 2-2 9-3 3-8 5-5 0-1-1-5 0-6-3-3 0-7-4-5-1-18-10-2 0-7-4-12-4-35-5-6-3-5-7-6 5-4 0-14-13-8-11-10-17-11-14-7-11-10-11-7-10-7-6-9-17-4-11-1-6-7-14-6-19-8-10-3-7-7-8-5-10-7-7-2-4-4-4-10-14-5-5 0 6 17 35 16 44 0 3 2 4 0 3 3 7 3 14 2 4 1 7 2 4 1 7 4 11 4 25 1 1 1 8 6 21 9 18 13 11 8 19 0 2 5 10 0 2 7 9 2 7 8 7 1 5 9 8 3 8 8 5 4 10 3 0 10 4 14 2 6 3 5 0 7 4 4 0 6 4 6 1 6 5 5 1 7 8 3 1 10 11 10 15 11 20 2 2 7 14 0 3 67 0 0-4 19-35 8-12 15-16 3-1 4-5 8-3 4-4 6-1 6-4 6-1 5-4 6 0 8-3 6 0 7 3 5 0 6 4 6 1 6 4 6 1 4 4 8 3 3 5 5 2 5 6 7 6 9 13 9 17 2 2 10 20 0 2 67 0-1-3 1-4 8-17 4-5 3-9 7-6 0-4 3-8 3-3 3-1 2-9 2-4 5-4 1-6 4-9 6-20 4-8 5-16 2-3 10-27 3-5 0-2 3-5 0-2 3-5 4-12 3-5 0-2 3-5 3-9 5-9 0-2 7-9 7-15 5-15 0-3 5-17 0-4 2-5 7-43 8-24 2-3 6-17 3-5 0-2 23-46 3-4zM638 645l2 2 2 6 0 11-1 1 0 19-1 1 0 25-4 5-3-3 0-8-1-1-1-53 4-5zM369 645l2 2 2 5 0 17-1 1 0 18-1 1 0 21-1 3-3 2-3-4-1-34-1-1 0-25 1-3 3-3z"/>
<path fill="#405e94" d="M637 563l-2 1-2 6 0 74 6 0 1-1 0-65-1-1 0-9zM368 563l-2 1-2 7 0 73 6 0 1-1 0-68-1-1 0-6zM1294 326l-9 18-2 2-23 47-8 12-29 36-20 28-22 34-6 6-4 6-9 8-6 7-5 3-7 9-4 2-4 0-4-2-6-9-7-6-19-22-7-13-6-7-5-11-6-7-5-11-8-11-5-10-13-17-30-29-33-44 0 5 21 40 2 2 16 32 0 2 6 12 0 2 2 3 0 2 2 3 0 2 2 3 0 2 2 3 0 2 2 3 0 2 2 3 10 27 6 12 2 7 20 42 22 34 6 7 14 13 14 6 8 0 16-7 13-10 13-13 11-16 23-43 0-2 5-9 0-2 12-26 0-2 12-28 1-5 4-8 1-5 4-8 1-5 2-3 1-5 2-3 10-29 4-8 1-5 17-42zM837 305l-15 20-9 14-10 12-8 34-4 11 0 3-6 18-8 18-8 9-6 10-15 18-3 5-18 20-12 16-13 20-1 3-30 43-12 22-6 17 0 3-4 13-2 14-2 5-1 9-1 1-1 15-1 1-1 32-3 4-2 0-3-5-1-32-1-1 0-6-1-1 0-4-1-1 0-4-2-5 0-4-2-5-2-12-2-4 0-3-4-12-4-8-9-13-13-14-18-13-20-10-23-7-6 0-1-1-6 0-1-1-9 0-1-1-31 3-1 1-10 2-3 2-8 2-7 4-2 0-18 10-13 11-13 14-9 12-7 18 0 3-5 17-1 9-2 5-1 10-1 1-2 39-3 4-2 0-3-6-1-34-1-1 0-6-1-1-1-9-4-14 0-4-8-26-8-12-14-16-15-14-18-11-21-7-11-1-1-1-10 0-1-1-11 0-10-4-3 0-6-3-11-11-37-51-10-11-4-7-4-1-5-5-11-22-4-13-5-10-5-17-5-5-4-6-14-27-12-19-2-2 0 6 4 7 0 2 4 7 0 2 9 20 18 52 0 3 4 11 0 4 1 1 1 9 4 14 0 4 10 31 7 12 6 6 4 2 6 13 0 2 5 9 0 2 14 28 9 15 13 19 7 7 7 5 13 4 15 1 1 1 4 0 7 2 10 6 10 8 12 12 18 22 22 36 6 12-1 3 64 0 0-4 21-38 6-7 3-6 14-16 11-11 17-13 10-5 13-4 5 0 1-1 10 1 17 6 19 13 19 19 3 5 7 7 3 6 6 7 20 38 0 3 64 0 0-4-1-1 5-9 0-3 2-3 0-2 6-9 1-5 6-11 2-7 13-28 0-2 7-15 1-5 4-8 1-5 4-8 1-5 2-3 0-2 2-3 0-2 2-3 10-27 3-5 0-2 3-5 0-2 3-5 0-2 3-5 0-2 3-5 0-2 3-5 0-2 3-5 0-2 3-5 3-9 5-9 0-2 7-10 9-20 2-9 2-4 0-3 2-4 4-20 1-1 0-4 3-10 4-25 3-5 0-2 9-19 0-2 23-44z"/>
<path fill="#4d6e9b" d="M1278 362l-6 12 0 2-22 43-35 52-18 23-16 23-18 18-23 18-6-1-19-19-17-20-13-18-31-48-9-11-19-27-4-4-24-34 0 6 28 52 0 2 10 20 2 7 10 21 0 2 3 5 0 2 3 5 0 2 3 5 0 2 3 5 3 9 13 27 2 2 3 7 9 15 17 23 15 14 11 5 9 0 7-3 10-6 6-5 14-14 11-15 9-17 2-2 18-36 0-2 13-27 0-2 3-5 3-9 4-7 0-2 12-26 0-2 12-28 1-5 4-8 1-5 4-8 2-6zM822 331l-19 28-1 7-2 5 0 4-1 1-5 23-4 11 0 3-3 7-2 9-8 18-6 7-7 13-15 22-31 38-24 36-16 21-13 20-8 15-5 15 0 3-5 17 0 4-2 5-2 15-1 1 0 9-1 1 0 18-1 1 0 4-3 4-2 0-3-5-1-24-1-1-1-12-3-9 0-4-1-1-2-11-4-11 0-3-7-16-15-21-15-14-23-15-22-9-3 0-9-3-13-1-1-1-19 0-1 1-13 1-20 6-19 9-10 6-11 9-11 11-15 19-5 9-5 15 0 3-6 21-1 9-1 1-1 15-1 1 0 18-1 1 0 3-4 3-4-5-1-27-1-1 0-6-1-1 0-4-1-1 0-4-3-9-2-12-7-21-7-11-14-17-16-16-16-11-12-6-17-5-4 0-1-1-24 0-7-2-11-6-14-13-2-4-6-6-7-10-6-6-5-8-5-5-3-5-10-10-4-6-2 1-4-2-6-7-10-21-9-27-3-13-7-11-16-33 0 7 6 14 1 5 2 3 11 33 4 8 7 34 9 28 8 15 10 9 11 23 0 2 16 32 16 25 1 3 6 8 12 11 4 1 5 3 8 1 1 1 12 1 10 3 19 13 18 19 23 32 1 3 6 8 12 23-1 1 0 4 61 0-1-6 3-4 8-17 6-8 3-7 6-7 5-9 13-16 12-12 19-14 8-4 17-5 9 0 17 5 10 5 14 10 22 23 19 27 18 34 0 5 61 0-2-7 3-4 1-5 8-17 1-5 3-5 4-12 3-5 7-19 6-12 0-2 8-18 1-5 4-8 1-5 2-3 1-5 4-8 1-5 2-3 8-22 13-28 0-2 5-9 0-2 4-7 0-2 5-9 0-2 10-20 5-6 9-20 9-31 0-4 3-9 0-4 1-1 0-4 1-1 4-23 6-12 0-2 14-27z"/>
<path fill="#5a7ca2" d="M1011 393l0 6 2 2 22 44 0 2 18 37 0 2 4 7 0 2 8 16 0 2 17 33 17 27 11 14 13 12 9 5 3 0 1 1 7-1 15-9 7-6 15-16 11-16 12-23 2-2 18-36 0-2 9-17 0-2 16-33 0-2 3-5 0-2 3-5 0-2 10-23 0-7-13 26-2 2-10 19-10 15-7 13-39 54-20 19-21 15-6 1-5-3-23-22-22-27-17-25-10-18-8-11-18-30zM804 363l-2 4 0 4-4 14 0 4-1 1-2 11-2 4-1 7-3 7 0 3-8 22-5 10-6 7-5 10-24 39-6 7-7 11-4 4-29 42-15 19-22 34-7 20 0 3-7 25-1 11-1 1 0 9-1 1 0 13-3 6-3 0-3-3-2-27-1-1 0-4-11-40-8-16-16-22-19-17-17-11-27-11-15-2-1-1-6 0-1-1-13 0-1 1-13 1-1 1-8 1-14 6-2 0-12 6-16 10-17 16-16 20-8 13-6 18 0 3-6 21 0 4-1 1-1 16-1 1 0 12-3 5-3 0-3-4-1-20-1-1-1-12-11-40-3-7-17-23-22-23-11-8-15-8-15-5-9-1-1-1-24 0-15-6-11-9-10-13-13-14-27-35-4 0-8-9-9-19-8-24-4-18-12-23 0 7 12 31 2 12 3 9 0 4 2 4 3 14 5 12 1 5 9 16 4 4 5 3 22 46 2 2 4 9 20 33 14 15 12 6 4 0 6 2 6 0 1 1 4 0 12 5 14 10 15 15 9 11 19 28 2 5 6 8 10 19-1 8 59 0-2-7 3-4 8-17 21-33 10-13 17-17 9-7 15-9 16-5 15 0 16 5 14 8 15 12 17 19 16 23 6 12 4 5 3 6 0 2 8 14-1 6 59 0-1-1 0-4-2-3 3-5 3-10 2-3 0-2 2-3 0-2 2-3 0-2 2-3 10-27 3-5 4-12 3-5 0-2 12-28 1-5 4-8 1-5 4-8 1-5 2-3 4-12 3-5 0-2 3-5 3-9 5-9 0-2 18-36 0-2 11-22 8-11 6-14 11-38 0-4 2-5 0-4 1-1 3-18 1-1 0-5 3-7z"/>
<path fill="#628cb1" d="M123 421l0 9 3 10 0 4 1 1 3 15 2 4 0 3 8 23 6 11 8 8 3 1 22 44 29 48 11 12 10 6 26 5 9 4 18 13 10 10 16 20 23 36 11 21-2 3-1 5 56 0 0-4-2-3 0-2 3-4 7-15 21-34 15-19 17-16 16-11 9-4 14-4 13 0 17 5 8 4 17 12 16 16 14 18 16 26 10 21 4 6-2 8 56 0 0-3-3-6 1-4 3-5 3-10 6-13 1-5 2-3 0-2 2-3 0-2 2-3 10-27 3-5 6-17 3-5 0-2 2-3 0-2 2-3 0-2 2-3 0-2 2-3 0-2 2-3 10-27 17-35 0-2 30-60 3-3 6-11 0-2 5-11 0-8-1 4-7 14-6 7-19 34-5 7-2 5-26 40-6 11-10 15-30 39-13 20-7 18 0 3-2 4 0 3-2 4 0 3-5 17-2 24-4 5-2 0-3-3-1-3 0-9-1-1-1-12-1-1-2-11-2-4-1-7-6-18-8-15-15-21-20-19-23-15-2 0-5-3-2 0-11-5-13-2-1-1-5 0-1-1-18 0-1 1-6 0-1 1-13 2-13 6-2 0-18 10-10 7-20 20-13 17-9 15-6 17-1 7-2 4 0 3-4 13-2 23-4 5-2 0-2-2-2-5 0-11-1-1-1-12-10-35-5-11-20-27-19-20-12-9-12-7-2 0-14-6-8-1-1-1-25 0-1-1-4 0-4-2-3 0-12-7-23-26-28-40-5-2-8-9-10-22-9-28zM1023 413l0 6 27 55 0 2 8 15 0 2 8 15 0 2 16 30 13 21 16 21 10 10 13 8 7 0 15-9 17-16 13-16 19-32 4-9 2-2 21-42 0-2 8-15 0-2 11-23 0-7-38 66-18 27-13 17-17 16-15 9-6 5-4 2-4 0-4-2-16-13-11-11-14-17-16-23-24-43-8-12-2-5z"/>
<path fill="#6c9bb9" d="M135 465l0 8 5 14 5 10 8 9 4 2 26 49 14 21 7 13 6 8 9 10 7 5 7 3 8 1 1 1 5 0 1 1 10 2 13 7 20 17 16 19 4 7 3 3 14 22 12 23 2 2 2 6-3 5 0 4 53 0-1-5-3-5 2-2 5-11 2-2 11-21 22-32 15-16 11-9 20-12 17-5 13 0 17 5 10 5 17 12 14 14 13 16 10 15 10 19 2 2 9 19 3 4-3 5 0 4 53 0-1-5-4-7 4-7 0-2 10-23 1-5 4-8 5-15 3-5 7-19 3-5 0-2 9-19 2-7 12-26 2-7 43-88 0-6-8 15-36 60-15 28-44 62-4 8-1 5-5 12 0 3-7 22-2 18-3 3-4 0-3-4-2-17-8-24 0-3-2-3-3-10-9-16-15-21-18-18-23-16-21-9-18-3-1-1-18 0-1 1-11 1-1 1-10 2-19 9-23 16-18 19-21 30-4 9-7 22 0 3-2 4 0 3-2 5 0 5-1 1 0 8-1 3-3 3-4 0-3-5-2-18-12-38-9-15-20-26-23-22-14-9-4-1-5-3-17-5-11 0-1 1-16-1-1-1-9-1-9-5-9-9-19-25-25-39-2 0-5-3-4-5-8-15zM1035 435l0 7 10 19 0 2 30 61 2 2 11 20 22 30 12 12 13 8 8-1 15-10 22-22 6-8 24-40 29-59 0-6-32 55-25 36-16 16-15 9-6 5-4 2-6 0-4-2-14-11-13-13-14-18-17-26-18-34-2-2-2-5-2-2z"/>
<path fill="#77a0aa" d="M151 496l0 6 5 3 3 4 22 42 16 24 1 3 13 18 10 10 10 6 17 3 1 1 4 0 6 2 13 7 12 9 22 24 23 34 2 5 2 2 7 14 7 11 0 2-4 6-1 5 50 0 0-4-5-8 2-2 20-37 20-29 19-20 13-10 16-9 17-5 15 0 1 1 4 0 12 4 10 5 16 11 19 19 22 31 15 29 8 13-4 6-1 5 50 0 0-4-6-9 6-12 0-2 3-5 0-2 2-3 0-2 2-3 10-27 3-5 2-7 21-45 0-2 14-30 3-9 22-45 0-6-4 8-16 26-16 32-12 19-2 5-34 51-10 25 0 3-5 13-2 12-4 5-4 0-4-5-2-12-9-27-6-13-17-27-9-11-16-16-21-15-17-8-14-4-10-1-1-1-19 1-1 1-9 1-9 3-23 12-16 12-11 11-10 12-21 31-10 26 0 3-5 14-1 9-2 3-5 1-4-3-1-8-6-18 0-3-10-25-20-29-17-20-19-16-6-4-15-7-9-3-30 0-1-1-9-1-6-3-10-9-17-23-30-47-3 0zM1051 466l0 7 10 19 0 2 16 31 18 29 15 19 11 11 10 7 5 2 6-1 16-10 7-6 17-18 21-33 19-36 0-6-3 6-10 15-1 3-26 38-21 20-15 10-6 3-4 0-3-1-12-9-18-18-8-10-23-35z"/>
<path fill="#83a796" d="M171 525l0 5 15 27 8 11 10 17 15 16 12 7 7 2 16 2 14 6 17 12 20 21 23 33 22 39 0 2-4 4-3 8 48 0 0-3-3-6-4-4 26-46 21-29 22-21 15-10 8-4 17-5 17 0 17 5 10 5 16 11 20 20 19 26 27 49-4 4-3 8 48 0-3-9-4-4 0-3 9-18 0-2 3-5 0-2 3-5 4-12 14-30 0-2 14-28 0-2 5-9 0-2 4-7 3-9 13-28 0-6-24 46-21 35-2 5-5 7-2 5-10 15-8 17-9 28-5 7-6 0-3-3-10-29-9-19-17-27-16-19-13-12-17-12-19-9-7-2-4 0-5-2-6 0-1-1-9 0-1 1-5 0-1 1-4 0-1 1-4 0-7 2-20 10-17 12-17 17-14 18-13 20-7 13-8 24-2 3-2 9-4 4-6 0-4-6-7-23-9-20-18-27-15-19-19-18-8-6-13-7-14-5-26 0-1-1-4 0-7-2-5-3-13-13-7-11-9-11zM1072 507l0 6 4 8 2 2 8 15 6 8 1 3 17 22 11 11 10 7 5 2 4 0 8-4 15-11 19-20 19-30 0-6-15 23-19 20-21 15-7 3-3 0-6-3-15-12-12-13-11-14-14-21z"/>
<path fill="#8ca488" d="M193 560l0 5 7 12 7 10 12 12 14 7 22 3 14 6 16 11 17 17 14 18 14 21 21 37 0 2 2 3-3 2-5 8 0 3 45 0-3-8-5-6 8-16 2-2 16-29 20-28 19-19 15-11 13-7 17-5 4 0 1-1 9 0 1 1 9 1 7 3 3 0 12 6 15 10 10 9 13 14 18 25 27 49 0 2-2 1-5 8 0 3 45 0-3-8-6-6 13-27 0-2 4-7 0-2 15-32 0-2 7-13 0-2 7-13 0-2 12-25 0-6-6 12-2 2-3 7-10 16-15 29-12 20-8 18-7 21-3 5-12 0-7-15-3-10-3-5 0-2-14-25-15-22-20-22-18-14-19-10-14-4-4 0-1-1-15-1-1 1-5 0-1 1-12 2-6 3-2 0-21 12-16 13-12 13-13 17-16 25-8 16-10 27-1 1-10 0-1 1-3-5-11-30-8-14-22-32-8-10-17-17-12-9-18-9-7-2-25-1-14-5-15-14zM1102 554l0 5 7 9 13 13 12 8 7 0 6-3 14-10 12-12 0-4-13 11-14 9-6 3-4 0-5-2-7-6-4-2z"/>
<path fill="#9fa174" d="M1134 584l0 3 1 1 5 0 2-1 0-3-2 1-5 0zM210 584l0 4 2 3 11 9 9 4 27 4 20 11 20 18 8 9 20 28 18 30 8 16 1 4-6 6-2 4 0 3 43 0-3-8-6-5 9-19 5-7 6-12 16-25 9-12 19-20 16-12 17-9 14-4 5 0 1-1 15 1 17 5 22 13 24 23 21 29 11 21 6 9 10 20-6 6-2 4 0 3 43 0-2-6-7-8 6-13 0-2 13-26 0-2 11-23 0-2 12-24 0-7-12 23-2 2-5 11-2 2-6 13-2 2-6 12 0 2-2 3-10 27-1 1-1-1-11 0-2 1-5-10-5-14-4-7 0-2-2-2-15-27-16-22-7-8-15-14-11-8-19-10-18-5-14-1-1 1-5 0-1 1-12 2-16 7-13 8-9 7-18 18-13 17-19 30-6 12 0 2-10 24-1 1-1-1-11 0-1 1-2-2-8-22-7-14-12-18-1-3-23-31-15-15-13-10-15-8-10-3-11 0-1-1-10 0-1-1-3 0-11-4z"/>
<path fill="#aca070" d="M221 593l0 4 9 5 27 4 15 7 12 8 22 22 25 35 8 15 8 12 7 15 1 5-6 5-2 4 0 3 41 0-1-4-3-5-5-4 11-23 2-2 6-12 10-15 1-3 16-22 16-17 18-14 14-8 21-6 15 0 1 1 4 0 8 3 3 0 11 5 17 11 22 21 11 14 12 18 12 23 5 7 9 19-6 6-2 4 0 3 41 0-2-6-7-8 5-11 0-2 3-5 0-2 17-35 1-9-18 34 0 2-3 5-3 10-5 11-2 2-1-1-12 0-1 1-6-10-2-7-8-17-5-7-9-17-17-24-17-18-15-12-18-10-9-3-3 0-9-3-7 0-1-1-11 1-18 5-12 6-14 9-19 17-18 23-22 35-5 11 0 2-3 5-2 7-3 5 0 2-1 1-2-1-12 0-1 1-4-7 0-2-10-23-13-20-1-3-24-33-18-18-9-7-19-10-7-1-1-1-22-1z"/>
<path fill="#bf9e5f" d="M656 737l-2-6-7-6 0-6-3 5-7-2-9 2-2-2-6-13 0-2-20-37-9-14-14-18-22-21-12-8-20-9-3 0-9-3-7 0-1-1-10 1-1 1-12 2-16 7-14 9-10 8-17 18-18 25-15 25-8 17-2 7-5 8-7-2-7 1-1 1-2-1-7-16 0-2-7-14-15-23-1-3-19-26-13-14-13-11-19-11-10-3-11 0 0 3 6 0 1 1 5 0 6 2 12 6 13 9 24 25 21 30 15 25 9 19 1 5-5 4-2 3-1 5 39 0-2-6-6-5-1-2 10-22 5-7 9-17 9-14 21-27 14-13 17-12 14-7 14-3 1-1 6 0 1-1 6 0 1 1 5 0 1 1 11 2 14 6 18 12 18 17 10 12 12 17 26 47 0 2 4 8-6 5-2 4 0 3z"/>
<path fill="#dbd677" d="M619 735l0 2 34 0-1-5-5-5-8-3-6 0-8 3-4 4zM350 735l0 2 35 0-2-5-5-5-8-3-6 0-6 2-6 5z"/>
<path fill="#d0c068" d="M622 735l0 2 29 0-2-5-3-3-9-3-9 2zM353 735l0 2 29 0-2-5-3-3-9-3-6 1-4 2z"/>
<path fill="#c7ad67" d="M623 737l26 0 0-1-5-6-4-2-7 0-5 2zM355 735l0 2 25 0-2-5-7-4-10 1-2 1z"/>
<path fill="#bc965e" d="M625 737l22 0-1-3-5-4-9 0-4 2zM356 737l22 0-1-3-5-4-9 0-4 2z"/>
<path fill="#b88050" d="M626 737l20 0 0-1-3-4-5-2-4 0-3 1zM357 737l20 0 0-1-3-4-5-2-3 0-1 1-3 0z"/>
<path fill="#aa6d4c" d="M627 737l18 0-2-4-4-2-5 0-3 1zM358 737l18 0-2-4-4-2-5 0-3 1z"/>
<path fill="#a45a45" d="M628 737l16 0 0-1-5-4-5 0-4 2zM360 737l15 0 0-1-5-4-5 0-4 2z"/>
<path fill="#a84940" d="M630 736l0 1 13 0-1-2-3-2-5 0zM361 736l0 1 13 0-1-2-3-2-5 0z"/>
<path fill="#b14340" d="M631 737l10 0 0-1-3-2-3 0zM362 737l10 0 0-1-3-2-3 0z"/>
</g></g>
<line x1="305.4" y1="132.0" x2="305.4" y2="499.4" stroke="#c4c4c4" stroke-width="1.1" stroke-dasharray="7 4" opacity="0.85"/>
<line x1="372.4" y1="132.0" x2="372.4" y2="499.4" stroke="#c4c4c4" stroke-width="1.1" stroke-dasharray="7 4" opacity="0.85"/>
<line x1="439.6" y1="132.0" x2="439.6" y2="499.4" stroke="#c4c4c4" stroke-width="1.1" stroke-dasharray="7 4" opacity="0.85"/>
<line x1="506.9" y1="132.0" x2="506.9" y2="499.4" stroke="#c4c4c4" stroke-width="1.1" stroke-dasharray="7 4" opacity="0.85"/>
<line x1="641.2" y1="132.0" x2="641.2" y2="499.4" stroke="#c4c4c4" stroke-width="1.1" stroke-dasharray="7 4" opacity="0.85"/>
<line x1="757.6" y1="132.0" x2="757.6" y2="499.4" stroke="#c4c4c4" stroke-width="1.1" stroke-dasharray="7 4" opacity="0.85"/>
<rect x="896.0" y="130.0" width="20.0" height="369.4" fill="url(#cbg)" stroke="#5a5048" stroke-width="0.8"/>
<path d="M916.0 137.6h-3.5M916.0 202.4h-3.5M916.0 267.3h-3.5M916.0 332.1h-3.5M916.0 397.0h-3.5M916.0 461.8h-3.5" stroke="#4a3a30" stroke-width="1" fill="none" opacity="0.8"/>
<polyline fill="none" stroke="#4f7640" stroke-width="4.8" stroke-linejoin="round" stroke-linecap="round" points="188.5,249.4 189.5,249.6 190.5,250.0 191.5,250.4 192.5,250.9 193.5,251.4 194.5,252.0 195.5,252.7 196.5,253.4 197.5,254.2 198.5,255.2 199.5,256.2 200.5,257.4 201.5,258.6 202.5,259.8 203.5,261.0 204.5,262.2 205.5,263.3 206.5,264.5 207.5,265.6 208.5,266.8 209.5,267.9 210.5,269.1 211.5,270.3 212.5,271.5 213.5,272.8 214.5,274.0 215.5,275.3 216.5,276.6 217.5,278.0 218.5,279.4 219.5,280.8 220.5,282.2 221.5,283.7 222.5,285.3 223.5,286.9 224.5,288.5 225.5,290.2 226.5,291.9 227.5,293.6 228.5,295.4 229.5,297.2 230.5,299.0 231.5,300.9 232.5,302.8 233.5,304.7 234.5,306.7 235.5,308.7 236.5,310.7 237.5,312.9 238.5,315.1 239.5,317.4 240.5,319.8 241.5,322.2 242.5,324.6 243.5,327.1 244.5,329.6 245.5,332.0 246.5,334.5 247.5,336.8 248.5,339.2 249.5,341.4 250.5,343.6 251.5,345.7 252.5,347.7 253.5,349.7 254.5,351.7 255.5,353.7 256.5,355.7 257.5,357.8 258.5,359.8 259.5,361.9 260.5,363.9 261.5,365.9 262.5,367.9 263.5,369.8 264.5,371.6 265.5,373.3 266.5,375.1 267.5,376.8 268.5,378.4 269.5,380.0 270.5,381.6 271.5,383.2 272.5,384.8 273.5,386.4 274.5,387.9 275.5,389.5 276.5,391.0 277.5,392.5 278.5,393.9 279.5,395.4 280.5,396.9 281.5,398.3 282.5,399.7 283.5,401.1 284.5,402.6 285.5,403.9 286.5,405.3 287.5,406.7 288.5,408.0 289.5,409.4 290.5,410.8 291.5,412.2 292.5,413.6 293.5,414.9 294.5,416.0 295.5,417.1 296.5,418.1 297.5,419.0 298.5,419.9 299.5,420.7 300.5,421.5 301.5,422.2 302.5,422.9 303.5,423.5 304.5,424.1 305.5,424.6 306.5,425.1 307.5,425.6 308.5,426.1 309.5,426.7 310.5,427.2 311.5,427.8 312.5,428.3 313.5,428.9 314.5,429.5 315.5,430.1 316.5,430.7 317.5,431.3 318.5,431.9 319.5,432.5 320.5,433.1 321.5,433.7 322.5,434.4 323.5,435.0 324.5,435.7 325.5,436.4 326.5,437.1 327.5,437.8 328.5,438.5 329.5,439.2 330.5,440.0 331.5,440.7 332.5,441.5 333.5,442.3 334.5,443.1 335.5,443.8 336.5,444.6 337.5,445.5 338.5,446.3 339.5,447.1 340.5,448.0 341.5,448.8 342.5,449.7 343.5,450.7 344.5,451.6 345.5,452.6 346.5,453.6 347.5,454.7 348.5,455.9 349.5,457.1 350.5,458.3 351.5,459.5 352.5,460.6 353.5,461.7 354.5,462.7 355.5,463.7 356.5,464.5 357.5,465.4 358.5,466.2 359.5,467.0 360.5,467.7 361.5,468.4 362.5,469.1 363.5,469.7 364.5,470.2 365.5,470.7 366.5,471.1 367.5,471.5 368.5,471.9 369.5,472.2 370.5,472.5 371.5,472.7 372.5,472.9 373.5,472.7 374.5,472.4 375.5,472.2 376.5,471.8 377.5,471.5 378.5,471.1 379.5,470.6 380.5,470.2 381.5,469.6 382.5,469.0 383.5,468.3 384.5,467.6 385.5,466.8 386.5,466.1 387.5,465.2 388.5,464.4 389.5,463.6 390.5,462.6 391.5,461.6 392.5,460.5 393.5,459.3 394.5,458.2 395.5,457.0 396.5,455.8 397.5,454.6 398.5,453.5 399.5,452.5 400.5,451.5 401.5,450.6 402.5,449.7 403.5,448.8 404.5,447.9 405.5,447.0 406.5,446.2 407.5,445.4 408.5,444.6 409.5,443.8 410.5,443.0 411.5,442.2 412.5,441.5 413.5,440.7 414.5,440.0 415.5,439.2 416.5,438.5 417.5,437.8 418.5,437.1 419.5,436.4 420.5,435.7 421.5,435.0 422.5,434.4 423.5,433.7 424.5,433.1 425.5,432.5 426.5,431.9 427.5,431.3 428.5,430.7 429.5,430.1 430.5,429.5 431.5,428.9 432.5,428.4 433.5,427.8 434.5,427.2 435.5,426.7 436.5,426.2 437.5,425.6 438.5,425.1 439.5,424.6 440.5,424.9 441.5,425.5 442.5,426.0 443.5,426.5 444.5,427.1 445.5,427.6 446.5,428.2 447.5,428.8 448.5,429.3 449.5,429.9 450.5,430.5 451.5,431.1 452.5,431.7 453.5,432.3 454.5,432.9 455.5,433.6 456.5,434.2 457.5,434.8 458.5,435.5 459.5,436.2 460.5,436.9 461.5,437.6 462.5,438.3 463.5,439.0 464.5,439.7 465.5,440.5 466.5,441.2 467.5,442.0 468.5,442.8 469.5,443.6 470.5,444.4 471.5,445.2 472.5,446.0 473.5,446.8 474.5,447.7 475.5,448.5 476.5,449.4 477.5,450.3 478.5,451.2 479.5,452.2 480.5,453.2 481.5,454.3 482.5,455.5 483.5,456.6 484.5,457.8 485.5,459.0 486.5,460.2 487.5,461.3 488.5,462.4 489.5,463.3 490.5,464.2 491.5,465.0 492.5,465.8 493.5,466.6 494.5,467.4 495.5,468.1 496.5,468.8 497.5,469.4 498.5,470.0 499.5,470.5 500.5,471.0 501.5,471.4 502.5,471.7 503.5,472.1 504.5,472.4 505.5,472.6 506.5,472.8 507.5,472.9 508.5,472.7 509.5,472.5 510.5,472.1 511.5,471.7 512.5,471.2 513.5,470.6 514.5,470.0 515.5,469.4 516.5,468.7 517.5,467.8 518.5,466.7 519.5,465.5 520.5,464.1 521.5,462.7 522.5,461.1 523.5,459.6 524.5,458.0 525.5,456.4 526.5,454.7 527.5,452.9 528.5,450.9 529.5,448.9 530.5,446.8 531.5,444.6 532.5,442.5 533.5,440.4 534.5,438.3 535.5,436.2 536.5,434.0 537.5,431.8 538.5,429.6 539.5,427.4 540.5,425.2 541.5,423.0 542.5,420.8 543.5,418.7 544.5,416.5 545.5,414.4 546.5,412.3 547.5,410.1 548.5,408.0 549.5,405.8 550.5,403.5 551.5,401.3 552.5,398.9 553.5,396.6 554.5,394.2 555.5,391.8 556.5,389.4 557.5,387.1 558.5,384.7 559.5,382.4 560.5,380.1 561.5,377.8 562.5,375.5 563.5,373.3 564.5,371.0 565.5,368.7 566.5,366.5 567.5,364.2 568.5,362.0 569.5,359.7 570.5,357.4 571.5,355.2 572.5,352.9 573.5,350.7 574.5,348.5 575.5,346.2 576.5,344.0 577.5,341.8 578.5,339.7 579.5,337.5 580.5,335.4 581.5,333.2 582.5,331.2 583.5,329.1 584.5,327.0 585.5,324.9 586.5,322.9 587.5,320.8 588.5,318.8 589.5,316.7 590.5,314.7 591.5,312.8 592.5,310.8 593.5,308.9 594.5,307.0 595.5,305.1 596.5,303.2 597.5,301.4 598.5,299.6 599.5,297.8 600.5,296.1 601.5,294.3 602.5,292.6 603.5,290.9 604.5,289.2 605.5,287.6 606.5,285.9 607.5,284.3 608.5,282.7 609.5,281.1 610.5,279.6 611.5,278.1 612.5,276.6 613.5,275.2 614.5,273.8 615.5,272.4 616.5,271.0 617.5,269.6 618.5,268.2 619.5,266.9 620.5,265.6 621.5,264.3 622.5,263.1 623.5,261.9 624.5,260.8 625.5,259.8 626.5,258.8 627.5,258.0 628.5,257.1 629.5,256.3 630.5,255.5 631.5,254.8 632.5,254.1 633.5,253.5 634.5,252.9 635.5,252.5 636.5,252.1 637.5,251.8 638.5,251.5 639.5,251.3 640.5,251.1"/>
<polyline fill="none" stroke="#4f7640" stroke-width="1.8" stroke-linejoin="round" stroke-linecap="round" points="641.2,251.0 642.2,251.1 643.2,251.3 644.2,251.6 645.2,252.0 646.2,252.4 647.2,253.0 648.2,253.9 649.2,255.0 650.2,256.2 651.2,257.4 652.2,258.7 653.2,260.0 654.2,261.3 655.2,262.8 656.2,264.3 657.2,265.8 658.2,267.5 659.2,269.2 660.2,270.9 661.2,272.6 662.2,274.4 663.2,276.2 664.2,278.0 665.2,279.8 666.2,281.5 667.2,283.3 668.2,285.0 669.2,286.7 670.2,288.3 671.2,290.0 672.2,291.7 673.2,293.4 674.2,295.0 675.2,296.7 676.2,298.4 677.2,300.1 678.2,301.7 679.2,303.4 680.2,305.1 681.2,306.8 682.2,308.5 683.2,310.1 684.2,311.8 685.2,313.5 686.2,315.2 687.2,316.8 688.2,318.5 689.2,320.1 690.2,321.8 691.2,323.4 692.2,325.0 693.2,326.7 694.2,328.3 695.2,330.0 696.2,331.7 697.2,333.4 698.2,335.1 699.2,336.8 700.2,338.6 701.2,340.4 702.2,342.2 703.2,344.0 704.2,345.9 705.2,347.8 706.2,349.7 707.2,351.6 708.2,353.5 709.2,355.5 710.2,357.4 711.2,359.4 712.2,361.3 713.2,363.2 714.2,365.2 715.2,367.1 716.2,369.1 717.2,371.1 718.2,373.1 719.2,375.1 720.2,377.1 721.2,379.0 722.2,381.0 723.2,382.9 724.2,384.7 725.2,386.6 726.2,388.3 727.2,390.0 728.2,391.7 729.2,393.3 730.2,395.0 731.2,396.6 732.2,398.2 733.2,399.7 734.2,401.2 735.2,402.7 736.2,404.1 737.2,405.5 738.2,406.9 739.2,408.1 740.2,409.4 741.2,410.6 742.2,411.8 743.2,412.9 744.2,414.1 745.2,415.2 746.2,416.2 747.2,417.2 748.2,418.1 749.2,418.9 750.2,419.6 751.2,420.4 752.2,421.1 753.2,421.9 754.2,422.5 755.2,423.1 756.2,423.5 757.2,423.7"/>
<polyline fill="none" stroke="#4f7640" stroke-width="4.8" stroke-linejoin="round" stroke-linecap="round" points="757.6,423.7 758.6,423.6 759.6,423.3 760.6,422.8 761.6,422.2 762.6,421.6 763.6,420.9 764.6,420.3 765.6,419.6 766.6,418.9 767.6,418.2 768.6,417.5 769.6,416.7 770.6,415.8 771.6,415.0 772.6,414.0 773.6,413.1 774.6,412.1 775.6,411.1 776.6,410.0 777.6,408.9 778.6,407.8 779.6,406.6 780.6,405.3 781.6,404.0 782.6,402.5 783.6,401.1 784.6,399.5 785.6,398.0 786.6,396.4 787.6,394.7 788.6,393.1 789.6,391.5 790.6,389.8 791.6,388.2 792.6,386.5 793.6,384.8 794.6,383.0 795.6,381.2 796.6,379.4 797.6,377.6 798.6,375.7 799.6,373.8 800.6,371.9 801.6,370.0 802.6,368.1 803.6,366.2 804.6,364.3 805.6,362.3 806.6,360.4 807.6,358.4 808.6,356.4 809.6,354.4 810.6,352.4 811.6,350.4 812.6,348.3 813.6,346.2 814.6,344.1 815.6,341.9 816.6,339.8 817.6,337.6 818.6,335.3 819.6,333.0 820.6,330.6 821.6,328.2 822.6,325.8 823.6,323.4 824.6,321.0 825.6,318.6 826.6,316.3 827.6,313.9 828.6,311.6 829.6,309.3 830.6,307.0 831.6,304.7"/>
<polyline fill="none" stroke="#4f7640" stroke-width="1.8" stroke-linejoin="round" stroke-linecap="round" points="832.0,303.8 833.0,301.5 834.0,299.2 835.0,296.9 836.0,294.6 837.0,292.4 838.0,290.2 839.0,288.1 840.0,286.1 841.0,284.2 842.0,282.3 843.0,280.6 844.0,278.9 845.0,277.2 846.0,275.6 847.0,274.0 848.0,272.4 849.0,270.9 850.0,269.4 851.0,268.1 852.0,266.8 853.0,265.6 854.0,264.5 855.0,263.5 856.0,262.6 857.0,261.7 858.0,260.8 859.0,259.9 860.0,259.1 861.0,258.4 862.0,257.6 863.0,257.0 864.0,256.4 865.0,255.8 866.0,255.3 867.0,254.8 868.0,254.5 869.0,254.1 870.0,253.8 871.0,253.5 872.0,253.1 873.0,252.8 874.0,252.6 875.0,252.3 876.0,252.1 877.0,251.9 878.0,251.7 879.0,251.6 880.0,251.5 881.0,251.5"/>
<g fill="#4f7640"><circle cx="305.4" cy="424.5" r="2.8"/><circle cx="311.0" cy="427.5" r="2.8"/><circle cx="316.6" cy="430.7" r="2.8"/><circle cx="322.1" cy="434.2" r="2.8"/><circle cx="327.7" cy="438.0" r="2.8"/><circle cx="333.3" cy="442.1" r="2.8"/><circle cx="338.9" cy="446.6" r="2.8"/><circle cx="344.5" cy="451.6" r="2.8"/><circle cx="350.0" cy="457.7" r="2.8"/><circle cx="355.6" cy="463.8" r="2.8"/><circle cx="361.2" cy="468.2" r="2.8"/><circle cx="366.8" cy="471.2" r="2.8"/><circle cx="372.4" cy="472.9" r="2.8"/><circle cx="377.9" cy="471.3" r="2.8"/><circle cx="383.5" cy="468.3" r="2.8"/><circle cx="389.1" cy="463.9" r="2.8"/><circle cx="394.7" cy="457.9" r="2.8"/><circle cx="400.3" cy="451.7" r="2.8"/><circle cx="405.8" cy="446.8" r="2.8"/><circle cx="411.4" cy="442.3" r="2.8"/><circle cx="417.0" cy="438.1" r="2.8"/><circle cx="422.6" cy="434.3" r="2.8"/><circle cx="428.2" cy="430.9" r="2.8"/><circle cx="433.7" cy="427.7" r="2.8"/><circle cx="439.3" cy="424.7" r="2.8"/><circle cx="444.9" cy="427.3" r="2.8"/><circle cx="450.5" cy="430.5" r="2.8"/><circle cx="456.1" cy="433.9" r="2.8"/><circle cx="461.6" cy="437.7" r="2.8"/><circle cx="467.2" cy="441.8" r="2.8"/><circle cx="472.8" cy="446.2" r="2.8"/><circle cx="478.4" cy="451.1" r="2.8"/><circle cx="484.0" cy="457.2" r="2.8"/><circle cx="489.5" cy="463.4" r="2.8"/><circle cx="495.1" cy="467.9" r="2.8"/><circle cx="500.7" cy="471.0" r="2.8"/><circle cx="506.3" cy="472.8" r="2.8"/></g>
<g fill="#4f7640"><circle cx="619.2" cy="267.3" r="2.8"/><circle cx="624.8" cy="260.5" r="2.8"/><circle cx="630.4" cy="255.6" r="2.8"/><circle cx="635.9" cy="252.3" r="2.8"/><circle cx="641.5" cy="251.0" r="2.8"/><circle cx="647.1" cy="252.9" r="2.8"/><circle cx="652.7" cy="259.3" r="2.8"/><circle cx="658.3" cy="267.6" r="2.8"/><circle cx="663.8" cy="277.3" r="2.8"/><circle cx="669.4" cy="287.0" r="2.8"/><circle cx="675.0" cy="296.4" r="2.8"/><circle cx="680.6" cy="305.7" r="2.8"/><circle cx="686.2" cy="315.1" r="2.8"/><circle cx="691.7" cy="324.3" r="2.8"/><circle cx="697.3" cy="333.6" r="2.8"/><circle cx="702.9" cy="343.5" r="2.8"/><circle cx="708.5" cy="354.1" r="2.8"/><circle cx="714.1" cy="364.9" r="2.8"/><circle cx="719.6" cy="375.9" r="2.8"/><circle cx="725.2" cy="386.6" r="2.8"/><circle cx="730.8" cy="396.0" r="2.8"/><circle cx="736.4" cy="404.4" r="2.8"/><circle cx="742.0" cy="411.5" r="2.8"/><circle cx="747.5" cy="417.5" r="2.8"/><circle cx="753.1" cy="421.8" r="2.8"/></g>
<g fill="#4f7640"><circle cx="763.2" cy="421.2" r="2.8"/><circle cx="768.8" cy="417.3" r="2.8"/><circle cx="774.4" cy="412.3" r="2.8"/><circle cx="779.9" cy="406.2" r="2.8"/><circle cx="785.5" cy="398.1" r="2.8"/><circle cx="791.1" cy="389.0" r="2.8"/><circle cx="796.7" cy="379.3" r="2.8"/><circle cx="802.3" cy="368.8" r="2.8"/><circle cx="807.8" cy="357.9" r="2.8"/><circle cx="813.4" cy="346.6" r="2.8"/><circle cx="819.0" cy="334.4" r="2.8"/><circle cx="824.6" cy="321.1" r="2.8"/><circle cx="830.2" cy="308.0" r="2.8"/><circle cx="835.7" cy="295.2" r="2.8"/><circle cx="841.3" cy="283.6" r="2.8"/><circle cx="846.9" cy="274.1" r="2.8"/><circle cx="852.5" cy="266.2" r="2.8"/><circle cx="858.1" cy="260.7" r="2.8"/><circle cx="863.6" cy="256.6" r="2.8"/><circle cx="869.2" cy="254.0" r="2.8"/><circle cx="874.8" cy="252.3" r="2.8"/></g>
<path clip-path="url(#cp1)" d="M266.7 376.4l3.4 4.9l-3.4 4.9l-3.4-4.9zM273.0 387.3l3.4 4.9l-3.4 4.9l-3.4-4.9zM279.5 398.4l3.4 4.9l-3.4 4.9l-3.4-4.9zM285.5 407.4l3.4 4.9l-3.4 4.9l-3.4-4.9zM292.4 417.2l3.4 4.9l-3.4 4.9l-3.4-4.9zM298.7 422.8l3.4 4.9l-3.4 4.9l-3.4-4.9zM305.4 425.5l3.4 4.9l-3.4 4.9l-3.4-4.9zM316.4 426.9l3.4 4.9l-3.4 4.9l-3.4-4.9zM327.5 432.1l3.4 4.9l-3.4 4.9l-3.4-4.9zM338.8 441.8l3.4 4.9l-3.4 4.9l-3.4-4.9zM349.9 455.9l3.4 4.9l-3.4 4.9l-3.4-4.9zM361.3 474.2l3.4 4.9l-3.4 4.9l-3.4-4.9zM372.4 493.0l3.4 4.9l-3.4 4.9l-3.4-4.9zM383.6 474.0l3.4 4.9l-3.4 4.9l-3.4-4.9zM394.7 455.9l3.4 4.9l-3.4 4.9l-3.4-4.9zM405.8 442.0l3.4 4.9l-3.4 4.9l-3.4-4.9zM417.4 432.5l3.4 4.9l-3.4 4.9l-3.4-4.9zM428.5 426.9l3.4 4.9l-3.4 4.9l-3.4-4.9zM439.6 424.8l3.4 4.9l-3.4 4.9l-3.4-4.9zM450.5 426.9l3.4 4.9l-3.4 4.9l-3.4-4.9zM461.9 432.5l3.4 4.9l-3.4 4.9l-3.4-4.9zM473.3 442.0l3.4 4.9l-3.4 4.9l-3.4-4.9zM484.5 455.9l3.4 4.9l-3.4 4.9l-3.4-4.9zM495.3 474.2l3.4 4.9l-3.4 4.9l-3.4-4.9zM506.9 493.0l3.4 4.9l-3.4 4.9l-3.4-4.9zM518.0 472.8l3.4 4.9l-3.4 4.9l-3.4-4.9zM529.4 449.2l3.4 4.9l-3.4 4.9l-3.4-4.9zM540.5 426.9l3.4 4.9l-3.4 4.9l-3.4-4.9zM551.7 403.3l3.4 4.9l-3.4 4.9l-3.4-4.9zM563.0 381.6l3.4 4.9l-3.4 4.9l-3.4-4.9zM574.0 360.6l3.4 4.9l-3.4 4.9l-3.4-4.9zM718.6 372.5l3.4 4.9l-3.4 4.9l-3.4-4.9zM725.1 385.2l3.4 4.9l-3.4 4.9l-3.4-4.9zM731.6 396.3l3.4 4.9l-3.4 4.9l-3.4-4.9zM738.1 406.1l3.4 4.9l-3.4 4.9l-3.4-4.9zM744.6 414.1l3.4 4.9l-3.4 4.9l-3.4-4.9zM751.1 420.2l3.4 4.9l-3.4 4.9l-3.4-4.9zM757.6 423.8l3.4 4.9l-3.4 4.9l-3.4-4.9zM764.1 420.4l3.4 4.9l-3.4 4.9l-3.4-4.9zM770.6 415.4l3.4 4.9l-3.4 4.9l-3.4-4.9zM777.1 408.8l3.4 4.9l-3.4 4.9l-3.4-4.9zM783.6 400.2l3.4 4.9l-3.4 4.9l-3.4-4.9zM790.1 389.5l3.4 4.9l-3.4 4.9l-3.4-4.9zM796.6 378.0l3.4 4.9l-3.4 4.9l-3.4-4.9z" fill="none" stroke="#f3f3e0" stroke-width="1.7" stroke-linejoin="miter"/>
<path d="M466.0 194.0L446.3 160.1 351.7 160.1 304.4 242.0 351.7 323.9 440.0 324.0" fill="none" stroke="#e6d640" stroke-width="1.6" stroke-dasharray="9 5.2"/>
<path d="M399.0 324.0L399.0 242.0L470.0 200.0L493.6 241.6L446.4 324.0L399.0 242.0L399.0 242.0" fill="none" stroke="#fff" stroke-width="1.6" stroke-linejoin="round"/>
<path d="M444.7 215.1L434.0 227.4L434.8 220.9L428.7 218.5Z" fill="#fff"/>
<path d="M487.8 231.7L475.7 220.8L482.1 221.7L484.7 215.7Z" fill="#fff"/>
<path d="M479.2 268.7L482.3 252.7L484.9 258.7L491.4 257.8Z" fill="#fff"/>
<path d="M457.1 306.7L460.4 290.7L462.9 296.7L469.4 295.9Z" fill="#fff"/>
<path d="M419.1 276.3L431.4 287.1L424.9 286.2L422.4 292.3Z" fill="#fff"/>
<path d="M388.6 307V292" stroke="#fff" stroke-width="1.8" fill="none"/>
<path d="M388.6 286.0L393.0 296.0L388.6 293.6L384.2 296.0Z" fill="#fff"/>
<path d="M407 285V300" stroke="#fff" stroke-width="1.8" fill="none"/>
<path d="M407.0 306.0L402.6 296.0L407.0 298.4L411.4 296.0Z" fill="#fff"/>
<g fill="#e0352f"><circle cx="399.0" cy="242.0" r="3.1"/><circle cx="470.0" cy="200.0" r="3.1"/><circle cx="493.6" cy="241.6" r="3.1"/><circle cx="470.0" cy="283.0" r="3.1"/><circle cx="446.4" cy="324.0" r="3.1"/><circle cx="399.0" cy="324.0" r="3.1"/></g>
<text x="377.7" y="242.0" font-size="27.0" textLength="16.1" lengthAdjust="spacingAndGlyphs" fill="#fff">Γ</text>
<text x="478.6" y="204.3" font-size="27.0" textLength="24.9" lengthAdjust="spacingAndGlyphs" fill="#fff">M</text>
<text x="508.1" y="251.2" font-size="27.0" textLength="15.4" lengthAdjust="spacingAndGlyphs" fill="#fff">K</text>
<text x="478.6" y="301.0" font-size="27.0" textLength="24.9" lengthAdjust="spacingAndGlyphs" fill="#fff">M</text>
<text x="384.5" y="352.0" font-size="27.0" textLength="25.6" lengthAdjust="spacingAndGlyphs" fill="#fff">M</text>
<text x="451.1" y="352.0" font-size="27.0" textLength="15.4" lengthAdjust="spacingAndGlyphs" fill="#fff">K</text>
<text x="157.6" y="139.8" font-size="38.6" textLength="21.3" lengthAdjust="spacingAndGlyphs">2</text>
<text x="129.7" y="216.0" font-size="38.6" textLength="48.6" lengthAdjust="spacingAndGlyphs">1.6</text>
<text x="132.1" y="290.3" font-size="38.6" textLength="46.5" lengthAdjust="spacingAndGlyphs">1.2</text>
<text x="128.2" y="366.5" font-size="38.6" textLength="50.2" lengthAdjust="spacingAndGlyphs">0.8</text>
<text x="127.8" y="442.6" font-size="38.6" textLength="50.2" lengthAdjust="spacingAndGlyphs">0.4</text>
<text x="157.4" y="515.5" font-size="38.6" textLength="20.9" lengthAdjust="spacingAndGlyphs">0</text>
<text x="182.1" y="547.3" font-size="39.0" textLength="24.4" lengthAdjust="spacingAndGlyphs">Γ</text>
<text x="286.9" y="547.3" font-size="39.0" textLength="36.1" lengthAdjust="spacingAndGlyphs">M</text>
<text x="361.6" y="547.3" font-size="39.0" textLength="22.9" lengthAdjust="spacingAndGlyphs">K</text>
<text x="421.4" y="547.3" font-size="39.0" textLength="35.8" lengthAdjust="spacingAndGlyphs">M</text>
<text x="493.5" y="547.3" font-size="39.0" textLength="22.9" lengthAdjust="spacingAndGlyphs">K</text>
<text x="627.9" y="547.3" font-size="39.0" textLength="26.6" lengthAdjust="spacingAndGlyphs">Γ</text>
<text x="739.7" y="547.3" font-size="39.0" textLength="36.4" lengthAdjust="spacingAndGlyphs">M</text>
<text x="861.6" y="547.3" font-size="39.0" textLength="25.5" lengthAdjust="spacingAndGlyphs">Γ</text>
<text x="922.4" y="153.0" font-size="33.0" textLength="20.8" lengthAdjust="spacingAndGlyphs">e</text>
<text x="941.9" y="142.5" font-size="21.4" textLength="13.7" lengthAdjust="spacingAndGlyphs">8</text>
<text x="922.4" y="217.5" font-size="33.0" textLength="20.8" lengthAdjust="spacingAndGlyphs">e</text>
<text x="941.8" y="207.0" font-size="21.4" textLength="13.9" lengthAdjust="spacingAndGlyphs">6</text>
<text x="922.4" y="282.0" font-size="33.0" textLength="20.8" lengthAdjust="spacingAndGlyphs">e</text>
<text x="942.5" y="271.5" font-size="21.4" textLength="12.8" lengthAdjust="spacingAndGlyphs">4</text>
<text x="922.4" y="346.4" font-size="33.0" textLength="20.8" lengthAdjust="spacingAndGlyphs">e</text>
<text x="941.7" y="335.9" font-size="21.4" textLength="14.2" lengthAdjust="spacingAndGlyphs">2</text>
<text x="922.4" y="410.8" font-size="33.0" textLength="20.8" lengthAdjust="spacingAndGlyphs">e</text>
<text x="942.0" y="400.3" font-size="21.4" textLength="13.4" lengthAdjust="spacingAndGlyphs">0</text>
<text x="922.4" y="475.2" font-size="33.0" textLength="20.8" lengthAdjust="spacingAndGlyphs">e</text>
<text x="941.9" y="464.7" font-size="21.4" textLength="22.3" lengthAdjust="spacingAndGlyphs">-2</text>
<text x="358.6" y="105.3" font-size="43.4" textLength="26.2" lengthAdjust="spacingAndGlyphs">Δ</text>
<text x="391.6" y="105.3" font-size="43.4" textLength="10.7" lengthAdjust="spacingAndGlyphs">/</text>
<text x="404.4" y="105.3" font-size="43.4" font-style="italic" textLength="18.4" lengthAdjust="spacingAndGlyphs">J</text>
<text x="423.3" y="113.0" font-size="26.0" textLength="6.6" lengthAdjust="spacingAndGlyphs">1</text>
<text x="434.2" y="105.3" font-size="43.4" textLength="28.8" lengthAdjust="spacingAndGlyphs">=</text>
<text x="462.2" y="105.3" font-size="43.4" textLength="74.4" lengthAdjust="spacingAndGlyphs">0.54</text>
<text x="535.8" y="105.3" font-size="43.4" textLength="12.1" lengthAdjust="spacingAndGlyphs">,</text>
<text x="556.6" y="105.3" font-size="43.4" font-style="italic" textLength="18.6" lengthAdjust="spacingAndGlyphs">T</text>
<text x="576.5" y="105.3" font-size="43.4" textLength="28.9" lengthAdjust="spacingAndGlyphs">=</text>
<text x="603.5" y="105.3" font-size="43.4" textLength="73.7" lengthAdjust="spacingAndGlyphs">0.50</text>
<text x="688.8" y="105.3" font-size="43.4" textLength="21.7" lengthAdjust="spacingAndGlyphs">K</text>
<text x="75.1" y="95.6" font-size="32.0" textLength="42.7" lengthAdjust="spacingAndGlyphs">(a)</text>
<text transform="translate(103.4,442.7) rotate(-90)" font-size="41.7" textLength="223.2" lengthAdjust="spacingAndGlyphs">Energy (meV)</text>
<clipPath id="cp2"><rect x="1106.4" y="126.5" width="692.2" height="375.2"/></clipPath>
<rect x="1106.4" y="126.5" width="692.2" height="375.2" fill="#0a0a0a"/>
<g clip-path="url(#cp2)"><g filter="url(#bl)" transform="translate(1106.40,126.50) scale(0.5000)">
<path fill="#121219" d="M1383 46l-4 2-2 3-2 6 0 4-2 4-9 3-8 1-6 3-8 10-4 2-7 1-7 5-3 7-1 9-3 3-9 2-7 5-3 9-1 18-2 2-10 2-6 4-3 7 0 6-1 1 0 23-1 2-3 2-4 0-8 3-4 4-1 6-1 1 0 10-1 1 0 23-3 2-5 0-8 3-4 5-1 9-1 1 0 29-2 2-5 0-7 2-6 4-1 7-1 1 0 12-1 1 0 20-2 2-10 1-3 2-2 0-2 2-2 5 0 7-1 1 0 24-2 2-4 0-1 1-4 0-6 2-3 3-1 7-1 1 0 23-2 3-9 1-6 2-3 3-2 6 0 8-2 6-2-3 0-7-1-1-1-8-4-3-14-3-2-2 0-23-1-1 0-6-2-5-2-2-2 0-3-2-10-1-2-2 0-22-1-1 0-10-2-6-5-4-7-1-1-1-5 0-2-3 0-32-1-1-1-9-2-3-4-2-7-2-5 0-2-2 0-27-1-1 0-9-2-7-3-3-2 0-6-3-5 0-3-2-2-39-2-5-2-2-9-4-4 0-4-3-1-31-3-8-8-5-7-1-3-2-1-2-1-18-2-5-7-6-10-2-2-2-3-13-4-5-8-4-5 0-17-10-4 0-2-2-2-12-5-4-5 0-5 4-2 6 0 6-2 3-6 0-5 2-6 6-3 5-3 2-9 2-7 5-3 7-1 13-5 4-3 0-10 5-2 3-2 7-1 21-3 3-5 0-7 3-4 4-2 5 0 6-1 1 0 18-1 1 0 6-2 2-7 1-7 3-4 6 0 3-1 1 0 10-1 1 0 25-2 2-13 3-3 2-2 3-1 10-1 1 0 32-3 3-9 1-8 5-2 7 0 12-1 1 0 34-4 2-5 0-8 3-3 4-1 10-1 1 0 42-3 2-5 0-7 2-5 4-2 7 0 11-1 1 0 21-3 2-7 0-6 2-4 4-1 11-1 1 0 11-3 2-6 0-9 3-3 5 0 4-2 2-6 0-1 1-17 1-2-1-4-5-6-2-10-1-2-2 0-4-3-5-8-3-9-1-2-2-1-5-3-4-6-2-4 0-1-1-6 0-5-8-9-3-7 0-3-2-1-4-4-3-6-2-14 0-1-3-3-3-4 0-2 1-3 5-13 0-9 4-1 4-3 3-5 0-1 1-4 0-6 2-3 3-2 5-10 1-8 3-2 2-1 5-3 4-7 0-9 3-3 3-1 7-2 2-13 2-4 2-2 3-3 2-25 0-9-5-13-2-3-8-3-2-16-3-1-1-1-7-3-4-6-2-4 0-1-1-6 0-5-8-10-3-6 0-2-1-2-6-3-3-6-2-4 0-1-1-5 0-6-8-8-3-7 0-3-5 0-9-1-1 0-5-1-2-4-3-6-2-5 0-5-3 0-28-1-1-1-9-5-4-7-2-5 0-3-2 0-26-1-1 0-9-2-7-6-4-9-1-5-3 0-35-1-1-1-8-4-4-14-3-2-2 0-30-1-1 0-8-3-7-6-3-7-1-5-2 0-15-1-1 0-16-1-1 0-5-5-7-8-3-5 0-3-3 0-19-1-1 0-8-3-8-8-5-9-2-2-3 0-10-1-1 0-5-2-5-3-3-6-3-9-2-3-3-1-5-2-3-8-5-8-1-9-6-3-3 0-3-3-9-6-5 0 179 1 1 4 0 2-2 2-6 0-4 1-1 4 2 8 1 8 9 5 3 9 2 3 3 0 6 3 8 8 5 7 1 3 3 1 15 2 7 7 5 7 2 4 0 1 1 0 13 1 1 1 20 5 6 2 0 3 2 9 1 2 3 0 30 1 1 0 6 4 6 8 3 5 0 4 3 0 24 1 1 1 11 4 4 2 0 3 2 10 1 1 1 0 24 1 1 1 14 3 4 4 2 8 1 5 2 1 3 0 25 1 1 1 8 4 3 6 2 5 0 5 3 1 16 1 3 3 3 9 3 7 0 3 2 3 5 5 2 12 1 11 4 11 1 3 4 5 4 16 3 2 5 4 3 7 2 7 0 4 3 0 2 4 3 7 2 7 0 9 5 7 2 14 0 6-2 15-1 1-1 7-1 5-4 3-5 10-1 6-2 3-3 1-4 2-2 16-3 4-4 0-3 3-3 11-1 5-2 5-4 9 0 1-1 18 0 4 5 6 0 3-5 25 0 1 1 4 0 7 5 14 2 2 2 0 3 3 4 10 3 6 0 2 1 3 8 6 3 13 2 2 2 0 2 4 4 6 2 35 2 1-1 5 0 6-2 4-5 1-9 2-2 6 0 1-1 7-1 4-3 2-6 0-8 1-1 0-21 3-2 10-1 7-5 1-10 1-1 0-21 3-2 5 0 7-2 5-4 1-8 1-1 0-25 2-3 5 0 11-4 3-5 0-4 1-1 0-12 1-1 0-17 2-2 6 0 8-3 4-5 1-13 1-1 0-22 2-2 10-2 7-5 2-5 0-8 1-1 0-23 3-3 3 0 9-3 3-2 2-3 1-10 1-1 0-19 2-3 8-1 6-3 3-3 3-10 0-9 1-2 3-2 3 0 9-4 3-3 2-7 3-4 8-2 16-9 2 3 0 5 2 6 3 3 8 0 5-7 1-10 1-1 13 6 9 2 3 3 1 5 4 6 7 4 7 1 2 2 1 3 0 9 2 6 4 4 6 3 7 1 2 2 1 19 3 9 8 5 7 1 3 2 1 23 1 1 0 5 2 4 6 4 11 2 2 3 0 26 1 1 1 8 4 4 2 0 3 2 9 1 2 2 0 24 1 1 0 6 2 5 4 3 7 2 5 0 3 2 0 24 1 1 0 8 2 6 5 4 7 1 1 1 5 0 1 1 0 18 1 1 0 9 1 1 0 5 1 2 5 4 6 2 6 0 3 3 1 15 1 1 0 3 3 3 8 3 6 0 1 2 1 0 2-2 5 0 7-2 4-3 2-6 0-8 1-1 0-7 1-1 7-2 4 0 3-2 2 0 2-2 2-5 0-6 1-1 0-22 2-2 4 0 1-1 4 0 6-2 4-5 0-5 1-1 1-29 4-2 9-1 6-4 2-6 1-27 2-2 4 0 10-3 3-3 2-5 0-7 1-1 0-23 2-2 4 0 7-2 6-4 2-5 0-6 1-1 0-18 2-3 8-1 8-4 2-3 1-8 1-1 0-14 3-4 8-1 7-4 3-6 1-14 3-4 7-1 6-3 3-3 2-4 1-8 3-3 9-2 5-3 6-7 10-3 3 0 1 1 1 6 2 4 3 2 3 0z"/>
<path fill="#171729" d="M1383 48l-4 3-2 4-1 11-1 1-22 7-10 10-3 2-10 3-4 4-3 6-1 7-5 6-3 0-7 3-4 4-3 8-1 13-2 5-4 3-3 0-6 3-4 4-2 4-1 11-1 1 0 17-1 3-3 3-4 0-7 3-5 6-1 8-1 1 0 7-1 1 0 20-2 3-9 2-4 2-4 4-2 7 0 4-1 1 0 26-4 4-4 0-8 3-4 5-2 7 0 8-1 1 0 22-5 3-8 1-6 5-2 6 0 4-1 1 0 23-2 3-7 1-9 4-2 3-1 7-1 1-1 22-3 3-5 0-6 2-4 3-3 8-1 10-2 2-2-1-3-16-4-4-4-2-10-2-2-3 0-22-3-10-6-5-8-1-5-3 0-23-1-1-1-11-2-4-6-4-8-1-5-4 0-31-1-1-1-7-2-4-4-3-6-2-4 0-2-1-2-3 0-26-1-1 0-5-1-1-1-7-4-5-7-3-4 0-4-3 0-15-1-1 0-12-1-1-1-10-3-5-7-4-6-1-4-5-1-24-4-12-6-5-8-2-4-5 0-5-1-1-1-11-2-4-6-6-8-2-6-6-1-6-5-8-5-3-6-1-17-9-6-1-1-1-1-10-3-7-2-1-5 0-2 1-2 3-2 7 0 8-1 1-5 0-6 2-6 7-8 6-8 2-7 7-2 5-1 10-5 6-5 1-7 4-4 6-1 8-1 1-1 14-2 4-12 4-5 6-2 7 0 6-1 1-1 20-5 4-3 0-5 2-5 5-2 5-1 12-1 1 0 22-3 4-11 3-6 7 0 4-2 6 0 29-3 4-6 1-7 3-4 5-1 7-1 1 0 8-1 1 0 33-3 3-7 1-6 3-3 3-2 6 0 5-1 1 0 40-3 3-10 2-6 4-2 5-1 10-1 1 0 24-2 2-5 0-7 2-5 4-2 6 0 5-1 1 0 10-3 3-8 1-5 2-3 3-1 4-4 4-3 1-21 1-9-6-6-2-6 0-4-3-1-5-2-3-6-3-11-2-3-3-2-6-8-4-9-1-4-3-2-4-7-3-9-1-4-3-2-4-6-3-3 0-1-1-11 0-5-6-4 1-3 5-15 1-4 2-7 8-12 2-4 2-4 6-4 2-5 0-9 3-6 10-6 2-5 0-6 3-3 4-1 5-4 3-5 0-7 2-8 6-27 0-11-5-9-1-4-3-1-4-3-3-5-2-9-1-3-3-3-8-8-4-9-1-10-9-12-2-4-3 0-2-3-4-7-3-6 0-5-2-2-2 0-2-5-4-12-2-2-2-1-11-2-7-2-3-6-3-9-1-3-4 0-26-4-12-5-3-10-2-3-3 0-25-1-1 0-7-2-7-4-4-4-2-9-1-2-2 0-23-1-1 0-10-1-1-1-7-3-5-6-3-8-1-3-4 0-28-1-1 0-5-2-7-3-4-6-3-7-1-3-3 0-15-1-1-1-17-3-7-3-3-4-2-7-1-4-5-1-22-3-10-5-5-4-2-6-1-3-3-2-6 0-6-2-7-5-6-3-2-8-2-7-6 0-2-3-4-4-3-9-2-13-8-2-12-5-7-1 0 0 176 4 0 3-5 1-8 1-1 9 3 4 0 14 12 8 2 5 7 0 4 2 5 5 5 4 2 6 1 2 2 2 7 1 11 2 5 6 5 10 2 2 3 1 24 1 1 1 7 3 5 6 3 7 1 4 5 0 27 1 1 1 8 5 6 5 2 7 1 3 4 0 22 1 1 1 9 4 6 4 2 8 1 4 3 0 25 1 1 0 5 2 7 2 3 6 3 8 1 3 3 0 20 1 1 0 5 1 1 1 7 4 4 4 2 9 1 2 2 0 5 1 1 2 12 4 5 5 2 10 1 3 2 3 4 7 3 10 1 12 4 10 1 3 2 4 5 5 2 10 1 4 3 2 4 6 3 10 1 8 7 4 2 10 1 13 6 6 0 1 1 5 0 1-1 6 0 1-1 13-1 1-1 8-1 4-2 4-6 4-2 6 0 8-3 6-8 12-2 4-2 6-8 14-3 4-3 7-3 27 0 4 5 4 0 3-5 29 0 7 3 2 2 6 2 6 0 4 2 2 2 0 2 4 4 5 2 9 1 4 3 1 4 3 3 5 2 9 1 2 1 6 7 4 2 16 1 1 1 22 0 1-1 3 0 6-4 2-5 0-3 4-5 8-1 8-4 2-4 1-8 1-1 0-22 2-3 5 0 7-2 5-4 2-6 0-4 1-1 0-20 3-3 7-1 8-4 4-11 1-25 3-3 4 0 8-3 4-5 2-7 0-8 1-1 0-18 1-2 3-2 4 0 7-3 5-7 1-12 1-1 0-19 3-4 9-2 6-5 2-4 1-10 1-1 0-20 1-3 2-2 3 0 8-3 4-4 3-8 0-5 1-1 0-15 2-4 3-2 6-1 6-4 4-9 0-6 2-6 3-3 9-3 5-5 2-5 5-6 7-2 16-9 3 0 1 1 0 7 2 7 2 3 6 1 3-2 2-4 1-7 1-1 0-5 2-1 8 4 14 4 6 7 2 5 4 4 11 4 3 5 1 9 3 7 7 5 6 1 4 5 2 19 3 7 5 4 9 2 3 4 1 19 1 1 1 8 2 3 5 4 7 1 5 3 1 26 4 12 4 3 6 2 4 0 2 1 2 3 0 22 1 1 0 4 2 6 4 4 5 2 7 1 3 3 0 24 1 1 1 9 2 4 6 4 8 1 4 3 0 20 1 1 0 5 3 9 8 5 8 1 2 2 2 14 3 7 7 4 5 0 4 3 4-3 4 0 5-2 4-4 2-7 0-4 1-1 0-7 2-3 11-2 6-5 2-5 1-10 1-1 0-16 3-3 5 0 6-2 3-2 2-3 1-7 1-1 0-5 1-1 0-20 2-3 9-1 4-2 4-4 2-7 0-6 1-1 0-16 2-3 9-2 4-2 4-4 2-7 0-4 1-1 0-21 3-4 4 0 6-2 6-5 2-7 0-4 1-1 0-15 3-5 9-2 7-6 2-6 2-18 5-4 6-1 6-5 2-4 3-15 4-4 3 0 5-2 6-6 2-8 5-6 8-2 14-11 7-1 5-2 2 1 0 7 2 5 2 2 3 0z"/>
<path fill="#1f2243" d="M1383 49l-5 7-1 3 0 9-1 1-21 7-14 12-9 3-4 4-6 14-5 5-7 2-6 6-3 9-1 10-3 6-4 3-5 1-4 3-3 4-3 10 0 4-1 1 0 15-1 3-3 4-8 2-3 2-4 5-2 6-1 11-1 1 0 18-4 5-3 0-7 3-5 6-2 6 0 4-1 1 0 23-4 6-7 1-4 2-4 4-3 9 0 6-1 1 0 21-3 4-9 2-7 6-2 6 0 4-1 1 0 21-4 5-8 1-6 4-5 15 0 16-3 4-8 1-7 5-3 8-1 7-1 2-3 2-2-2-1-7-4-10-7-4-7-1-3-3 0-18-2-5 0-4-3-7-6-4-9-2-3-4 0-22-4-14-7-5-9-2-2-3 0-22-1-1 0-7-4-12-5-4-9-2-4-5 0-23-1-1 0-6-2-7-4-6-5-3-7-1-3-5 0-14-1-1 0-10-1-1-1-8-2-5-7-6-7-2-4-6 0-14-1-1 0-5-1-1-1-8-2-4-6-6-7-2-3-3-3-7 0-4-1-1 0-4-2-6-3-4-5-4-6-1-4-4-9-16-5-3-5-1-17-9-6-1-1-1 0-7-2-7-4-5-3 0-4 4-1 3-1 13-1 1-4 0-6 2-7 7-8 6-7 2-5 4-4 7-1 8-3 5-4 4-8 3-4 4-3 6-3 20-2 4-2 2-3 0-5 2-6 6-3 10 0 4-1 1-1 18-4 5-9 3-4 4-2 4-2 12-1 1 0 22-3 5-8 2-3 2-5 6-2 10-1 1 0 27-4 6-4 0-7 3-5 7-2 7 0 6-1 1 0 33-3 4-6 1-6 3-5 7 0 3-2 4 0 39-3 5-7 1-6 3-3 3-4 14 0 23-3 4-8 1-7 5-3 7-3 17-1 1-8 1-6 3-3 6-7 5-23 1-12-7-8-1-6-5-1-4-3-3-4-2-8-1-5-3-5-8-6-3-9-1-3-2-4-5-6-3-4 0-8-3-4-5-5-3-3 0-1-1-11 0-2-4-3-2-3 2-2 4-10 0-7 2-3 2-5 6-5 2-8 1-10 9-11 2-4 2-3 3-1 3-5 5-8 1-5 2-4 4-1 4-6 5-8 1-11 7-4 0-1 1-23-1-12-5-10-2-4-4-2-4-6-3-8-1-4-3-3-7-2-2-6-3-9-1-3-2-4-5-6-3-4 0-6-2-4-5-6-5-11-2-5-3-4-5-4-2-8-1-3-4-1-9-4-9-4-3-6-2-4 0-3-3 0-21-1-1-1-9-3-7-8-5-7-1-3-4 0-25-1-1 0-5-2-6-5-6-4-2-7-1-3-4 0-24-1-1 0-7-2-4 0-3-4-6-6-3-6-1-4-5 0-26-1-1 0-5-2-6-3-5-5-3-8-2-3-4-1-25-1-1-2-10-5-6-5-2-3 0-4-3-2-4 0-13-1-1 0-4-1-1 0-4-2-6-5-6-9-3-3-3-3-5-2-12-2-4-5-5-9-3-13-14-12-4-11-7 0-6-1-1-1-7-5-6 0 173 2 1 3-3 2-6 0-6 1-1 7 3 7 1 15 12 7 2 5 6 5 12 3 3 6 3 3 0 2 2 3 6 1 10 4 9 6 4 6 1 4 5 1 23 3 9 5 5 4 2 6 1 3 4 0 20 1 1 0 7 3 10 5 5 12 4 2 4 0 21 1 1 0 4 3 8 5 4 5 2 4 0 4 5 0 24 1 1 0 4 2 6 3 4 9 4 4 0 3 4 0 21 3 10 3 5 9 4 4 0 2 2 4 17 5 6 4 2 9 1 4 2 5 5 2 0 3 2 10 1 12 4 9 1 13 9 4 0 7 2 9 8 7 2 4 0 4 2 7 6 7 2 5 0 11 5 7 1 1 1 12-1 1-1 5 0 1-1 6 0 1-1 8-1 9-8 4-2 5 0 7-3 6-7 4-2 4 0 8-3 4-5 5-4 9-1 15-7 28 0 3 5 3 0 4-5 29 0 13 6 11 2 4 3 3 5 7 3 4 0 5 2 4 4 2 4 6 3 9 1 10 9 7 2 11 0 1 1 20 0 7-3 3-3 2-7 2-3 6-3 4 0 8-5 4-11 0-21 3-5 8-1 7-5 3-6 0-4 2-5 0-16 1-2 4-2 4 0 8-5 3-7 1-8 1-1 0-18 3-4 7-1 4-2 4-4 3-9 0-6 1-1 0-18 3-5 4 0 7-3 5-6 2-7 0-6 1-1 0-18 3-5 8-2 7-6 4-14 0-19 3-6 5-1 9-6 5-15 0-12 2-6 2-2 9-3 6-7 2-11 4-8 3-2 5-1 16-18 5-1 16-9 5-1 1 1 0 9 2 7 3 3 5 0 3-5 2-7 0-7 2-2 13 6 11 3 11 15 5 3 5 1 2 2 4 7 0 4 3 8 5 5 4 2 3 0 3 3 2 4 1 11 4 12 5 5 7 2 4 3 2 20 3 10 4 5 7 3 3 0 3 2 1 3 1 23 4 12 5 4 9 2 3 4 1 22 4 12 6 4 9 2 3 4 0 24 1 1 0 4 3 7 3 3 7 3 4 0 4 5 0 20 4 12 6 5 9 2 3 3 0 5 5 14 5 4 7 1 3 3 3-3 4 0 7-4 4-9 3-14 4-2 6-1 6-4 5-15 0-17 3-4 8-1 6-4 5-15 0-20 3-4 10-2 4-3 3-6 1-8 1-1 0-16 4-5 6-1 4-2 4-4 2-4 1-8 1-1 0-19 4-5 8-2 6-5 4-13 0-10 1-1 1-7 2-2 9-2 5-5 4-13 0-8 2-4 3-3 7-2 6-6 3-9 0-4 2-2 2-5 11-5 4-5 2-6 7-8 8-3 13-10 7-2 4 0 4-2 1 1 0 9 3 6 3 1z"/>
<path fill="#2b386e" d="M1383 51l-1 0-4 8-1 11-2 2-9 2-10 4-15 12-2 0-6 3-5 6-2 7-9 10-5 1-6 6-4 11-1 8-3 6-3 3-2 0-6 3-4 5-3 7-1 8-1 1 0 13-1 3-5 6-7 2-4 4-3 6 0 3-2 4 0 6-1 1 0 17-4 6-8 2-7 8-3 9-1 25-4 5-8 2-4 3-2 3-4 14 0 21-4 5-8 2-6 5-3 7-1 8-1 1 0 17-4 5-4 0-5 2-5 5-4 11 0 16-2 4-2 2-7 1-6 4-4 8-2 10-2 1-1 2-3-2-3-11-3-6-3-3-7-3-3 0-4-5 0-18-5-13-4-4-10-3-4-5 0-22-4-12-2-3-3-2-10-3-3-4 0-23-1-1-1-9-3-7-4-4-9-3-5-6 0-23-1-1-1-8-3-7-4-4-4-2-3 0-5-4-1-3 0-15-1-1-1-12-4-10-5-5-7-2-3-3 0-2-2-3 0-13-5-18-4-5-3-2-5-1-3-3-4-7-2-11-4-8-3-3-7-2-9-10-3-7-5-5-9-3-15-8-3 0-1-1-2 1-1-1 0-10-2-7-3-3-4 0-4 8 0 12-12 4-10 9-14 7-5 8-1 6-4 7-5 5-7 3-5 6-4 14-1 8-2 4-4 4-3 0-5 3-3 4-5 15 0 12-1 1 0 4-4 6-8 3-6 7-3 10 0 6-1 1 0 18-5 7-7 2-7 8-3 10-1 28-4 5-8 2-5 5-4 10 0 5-1 1 0 33-4 5-5 1-7 4-4 7-2 7 0 5-1 1 0 33-3 4-6 1-7 4-4 7-1 7-1 1 0 23-4 5-7 1-6 4-4 7 0 3-2 4 0 8-1 2-3 2-3 0-7 3-9 10-5 2-22 1-13-7-7-1-8-7-2-4-5-3-9-2-3-2-5-7-4-3-11-2-5-3-3-4-6-3-7-1-7-4-2-3-5-3-3 0-1-1-11 0-3-5-3 0-3 5-10 0-1 1-3 0-11 9-5 2-7 1-3 2-3 4-5 3-7 1-7 3-4 6-6 5-4 0-8 3-3 3-2 5-7 5-7 1-12 7-28 0-12-5-10-2-3-2-6-7-7-3-6-1-4-4-3-6-4-3-11-2-5-3-5-5-4-2-9-2-11-10-10-2-4-2-6-6-4-2-7-1-3-4-1-6-4-10-5-5-9-2-4-5 0-21-1-1-1-7-3-6-4-4-4-2-6-1-4-6 0-24-1-1-1-7-3-6-3-3-4-2-6-1-4-5 0-25-1-1 0-5-4-10-4-4-4-2-6-1-4-6 0-25-1-1 0-5-4-9-4-4-5-2-3 0-5-6 0-15-1-1 0-8-2-4 0-3-3-6-4-4-7-2-3-2-3-6 0-11-1-1-1-8-4-10-4-4-6-2-4-3-4-6-3-13-7-8-7-2-3-2-11-12-11-4-12-7 0-9-1-1 0-3-4-7-1 0 0 170 2 0 2-2 2-5 0-8 3-1 15 5 14 11 6 2 8 10 3 8 4 4 9 4 4 8 0 5 5 12 3 3 9 3 2 2 2 5 1 20 3 9 4 5 3 2 7 2 4 5 0 21 1 1 1 9 6 10 3 2 8 2 3 4 0 18 1 1 1 8 3 7 5 5 5 2 4 0 3 4 0 21 1 1 0 4 2 7 2 4 4 4 7 3 3 0 2 2 2 4 0 20 3 9 5 6 7 3 3 0 4 5 0 6 2 3 0 2 3 6 3 3 4 2 8 1 6 3 3 4 6 2 9 1 12 4 9 1 6 3 4 4 4 2 10 2 12 9 8 1 8 4 1 2 5 3 9 1 14 6 4 0 1 1 12-1 7-2 7 0 7-2 8-7 6-3 4 0 7-3 2-3 5-4 4-2 4 0 6-2 5-6 6-4 8-1 5-3 12-4 27 0 4 5 2 0 3-5 30 0 11 5 13 3 10 9 4 2 9 2 3 2 6 7 4 2 10 2 11 9 13 1 1 1 22 0 8-5 5-10 4-3 6-1 6-3 5-9 2-6 0-20 3-4 7-1 7-5 5-13 0-16 1-3 4-3 4 0 4-2 4-4 5-13 0-18 1-3 3-3 6-1 5-3 4-6 2-6 0-4 1-1 0-19 4-6 3 0 8-4 3-4 4-14 0-18 5-7 7-2 5-5 5-14 0-18 2-3 0-2 3-3 8-3 4-4 5-15 0-10 4-9 8-3 5-5 4-13 5-9 7-3 14-16 15-7 10-6 5 0 1 1 0 12 1 3 4 5 2 0 3-2 2-5 0-3 1-1 0-10 1-1 3 0 13 6 10 3 10 11 3 5 6 3 2 0 7 10 4 12 5 5 6 2 3 3 3 8 0 6 4 12 3 4 5 3 5 1 3 4 2 19 5 12 4 4 8 2 4 6 0 16 1 1 1 9 3 7 4 4 9 3 4 5 0 16 1 1 1 8 3 7 4 4 4 2 6 1 3 4 0 21 1 1 1 7 4 8 6 4 8 2 2 3 0 18 3 10 3 6 5 4 8 2 4 5 0 5 5 11 5 5 7 1 2 3 2-3 4 0 4-2 4-4 5-12 0-6 1-2 4-3 4 0 4-2 4-4 5-12 0-17 1-3 3-3 4 0 5-2 5-5 4-11 0-20 4-6 6-1 4-2 5-6 3-10 0-16 4-6 6-1 7-5 3-6 1-7 1-1 1-20 3-4 9-3 5-5 4-12 0-7 1-1 1-9 3-3 7-2 5-5 5-13 0-7 3-6 3-3 5-1 4-3 4-7 2-8 5-9 10-5 5-9 9-10 6-2 13-10 4-2 8-1 5-2 1 1 0 6 2 7 4 3z"/>
<path fill="#304379" d="M1383 52l-2 2-3 8 0 10-5 3-10 2-6 3-11 9-11 5-5 5-2 7-10 11-7 3-2 2-4 8-3 12-5 9-7 3-5 5-6 17 0 12-1 3-5 7-2 0-8 5-4 8-2 6 0 6-1 1 0 16-5 7-8 3-4 4-3 6-2 7 0 6-1 1 0 16-5 6-7 2-5 5-3 6-1 7-1 1 0 21-6 7-6 1-5 4-4 7 0 3-2 5 0 18-1 2-4 4-6 1-6 5-3 5-3 10 0 14-4 5-3 0-5 2-5 5-5 11 0 4-3 2-1 2-4-3-1-6-5-10-4-4-5-2-3 0-4-4-1-3 0-17-6-13-3-3-4-2-3 0-5-4-1-2 0-19-2-5 0-4-3-6-5-5-9-3-4-5 0-23-1-1-1-8-4-8-3-3-9-3-5-7 0-22-1-1 0-5-6-12-6-4-3 0-5-5-1-3-1-23-3-9-3-6-3-3-6-2-6-7-2-20-6-15-3-3-7-3-2-2-6-11 0-3-4-11-4-4-7-3-7-7-5-9-5-5-11-5-2 0-11-6-6 0-1-1 0-13-4-8-3 0-2 2-2 5 0 15-1 1-7 0-4 2-8 7-17 10-3 5-2 8-4 6-6 6-5 2-4 4-4 9-3 14-3 6-3 3-6 2-4 4-6 17-1 15-2 4-4 4-6 2-3 3-4 8-2 6 0 6-1 1 0 17-5 8-7 2-4 4-5 10-1 11-1 1 0 19-5 6-7 2-4 4-5 10 0 5-1 1 0 33-6 7-3 0-4 2-4 4-4 7-1 8-1 1 0 34-4 5-9 3-4 4-3 5-3 10 0 22-4 4-7 1-5 4-6 12 0 8-5 6-3 0-5 2-4 5-7 6-7 2-19 1-6-2-8-5-6-1-8-5-7-8-12-4-4-3-4-6-3-2-9-2-9-5-4-4-5-2-4 0-6-3-9-7-3-1-11 0-2-4-3-1-3 5-11 0-3 1-10 8-15 5-8 7-15 5-8 9-14 5-4 6-9 7-7 1-2 2-11 5-27 0-16-6-4 0-8-5-5-6-5-2-4 0-3-2-6-6-2-4-3-2-9-2-8-4-5-5-11-3-6-4-4-5-4-2-7-1-6-3-8-7-7-1-4-5-2-9-4-7-4-4-5-2-3 0-4-4-1-3 0-21-5-12-4-4-9-3-4-5 0-22-2-5 0-4-7-11-9-3-5-6 0-25-1-1 0-5-5-10-3-3-9-3-5-7 0-25-1-1 0-4-5-10-5-4-7-2-4-6 0-15-1-1 0-7-2-6-6-10-3-2-5-1-4-4-2-5 0-11-6-17-5-5-5-2-5-5-4-7-2-8-5-8-12-6-14-13-7-2-13-7 0-12-3-7-2-2 0 167 2 0 2-2 1-3 0-11 1-1 10 4 6 1 16 12 6 2 10 12 2 6 5 5 5 2 5 6 2 5 1 7 5 10 2 2 8 3 3 3 2 5 0 14 1 1 1 8 3 6 6 6 7 2 3 4 1 3 0 20 1 1 1 8 3 6 6 6 7 2 4 6 0 18 4 12 6 7 5 2 3 0 4 6 0 22 3 9 6 8 3 2 6 1 3 3 1 3 0 19 3 6 0 2 3 5 4 4 5 2 3 0 4 5 0 5 3 5 0 2 6 8 7 3 6 1 4 2 2 3 3 0 4 3 17 3 4 2 9 1 8 4 4 4 12 3 7 4 2 3 7 3 6 1 8 4 5 4 11 2 6 3 10 3 6 0 1-1 6 0 1-1 16-2 4-2 5-5 8-4 7-1 9-8 6-3 4 0 5-2 7-7 6-3 9-2 11-5 7 0 1-1 24 0 3 5 2 0 3-5 29 0 1 1 3 0 11 5 7 1 8 4 6 6 7 3 3 0 8 5 5 6 9 2 8 4 7 6 10 1 1 1 15 0 1 1 3 0 7-2 3-2 7-11 5-4 8-2 7-8 0-2 3-5 0-20 4-6 3 0 7-3 4-5 4-9 0-17 2-4 4-3 3 0 4-2 4-4 5-12 0-18 5-7 7-2 5-5 3-6 2-7 0-18 1-3 4-5 7-2 5-5 3-6 1-7 1-1 0-18 5-8 8-3 3-3 4-8 1-7 1-1 0-16 4-8 7-3 6-6 4-10 1-13 3-8 4-4 2 0 6-4 4-8 1-5 5-9 5-5 2 0 3-2 13-15 25-13 6 0 1 1 0 14 3 6 4 0 2-2 2-6 0-13 1-1 4 0 11 4 5 3 6 1 10 10 6 8 6 2 8 11 2 7 4 7 4 3 4 1 4 5 3 8 0 5 5 13 4 4 6 2 3 3 3 6 1 15 5 12 3 3 8 3 5 7 0 16 1 1 0 5 5 11 3 3 9 3 4 6 0 17 4 12 5 6 9 3 4 5 0 22 2 6 6 10 12 5 2 4 0 19 5 11 6 6 5 1 5 4 1 6 6 12 5 5 6 1 2 3 2-3 6-1 4-4 6-12 0-5 2-4 4-3 3 0 4-2 4-4 6-14 0-16 4-5 3 0 5-2 4-4 3-5 3-10 0-18 4-5 8-2 4-4 4-8 0-3 2-5 0-14 4-5 9-3 4-5 3-6 0-4 2-6 0-14 5-7 7-2 5-6 4-10 0-7 1-1 1-9 3-4 8-3 3-3 4-8 2-6 0-6 4-8 2-2 6-2 4-4 3-6 1-5 5-9 4-4 5-2 4-4 5-9 8-8 7-3 10-8 5-3 4 0 1-1 10-2 1 1 0 9 3 7 2 0z"/>
<path fill="#344b80" d="M1383 54l-2 2-2 5 0 13-3 2-13 3-6 3-11 9-12 6-8 14-8 8-5 2-4 4-6 18-4 7-4 4-5 2-3 3-7 17 0 12-3 7-5 5-2 0-5 3-6 12-1 8-1 1 0 16-2 4-5 5-6 2-3 3-5 9-1 10-1 1 0 16-6 7-6 2-4 4-5 9 0 4-1 1 0 21-1 2-6 6-3 0-7 5-4 7 0 3-2 4 0 18-1 2-4 4-8 3-4 4-6 13 0 14-2 4-3 3-3 0-4 2-5 5-3 7-2 2-1 7-4 3-1-1-1 1-3-5 0-3-7-12-3-3-7-2-4-4-1-2 0-16-3-9-8-10-7-2-5-6 0-20-4-11-7-8-7-2-5-7 0-23-2-7-5-9-2-2-8-3-5-6-1-3 0-21-1-1 0-4-6-12-4-3-5-1-5-6-1-3 0-15-1-1-1-10-7-13-5-3-2 0-6-8-2-19-5-11 0-2-3-4-6-3-5-5-5-9-3-11-3-5-9-5-9-9-6-10-23-11-9-1-1-1 0-16-3-5-3 0-2 2-2 6 0 14-1 1-6 0-6 3-8 7-8 5-2 0-6 5-3 9-5 8-7 7-5 2-2 2-7 17 0 4-3 7-4 5-7 3-4 5-5 15 0 9-1 1-1 7-5 6-7 3-2 2-5 11-1 8-1 1 0 17-1 3-6 7-6 2-3 3-5 10-1 10-1 1 0 19-7 8-5 1-4 4-5 10 0 4-1 1 0 32-2 4-5 5-5 1-3 2-6 10 0 3-2 4 0 34-1 3-4 4-7 2-5 5-4 7-2 6 0 22-1 2-4 4-6 1-5 4-6 11-1 10-5 5-3 0-4 2-5 6-9 6-5 0-1 1-18 1-17-8-3 0-7-4-8-9-4-2-6-1-6-4-6-7-7-3-3 0-8-4-4-4-18-7-7-6-3-1-11 0-2-4-3-1-3 5-11 0-3 1-8 7-15 5-5 5-10 5-3 0-5 2-6 7-8 5-3 0-5 2-10 11-6 3-3 0-16 8-26 0-17-6-3 0-6-3-9-8-4-2-3 0-9-6-5-7-7-3-3 0-8-4-6-5-7-2-8-4-7-7-11-3-7-4-2-3-7-3-3 0-3-3-5-14-7-8-4-2-3 0-5-6 0-20-3-9-8-10-7-2-5-6 0-23-2-4 0-3-7-11-8-3-5-5-1-3 0-24-1-1-1-7-7-10-8-3-5-6 0-20-1-1-1-10-6-11-4-3-5-1-4-4-2-4 0-15-1-1-1-9-5-11-2-2-6-2-6-6-2-5-1-14-6-14-6-5-2 0-5-5-6-10-3-10-4-4-13-7-4-5-6-5-13-6-2 0-6-4 0-11-4-10-1 0 0 164 1 0 3-4 1-3 0-10 1-1 10 4 6 1 8 5 8 7 5 2 12 13 3 7 4 4 4 1 3 3 5 9 1 7 5 10 4 3 4 1 5 5 2 5 0 14 1 1 1 7 4 7 5 5 5 1 5 6 1 3 0 21 2 7 6 10 3 2 5 1 4 4 2 4 0 18 4 11 6 7 7 2 4 5 1 3 0 21 2 6 4 7 4 4 7 2 3 3 2 4 0 20 4 8 6 7 4 2 3 0 3 3 2 4 0 5 6 10 4 4 11 3 4 2 2 3 3 0 7 4 9 1 1 1 19 4 13 8 6 1 5 3 2 0 9 7 9 2 8 4 5 4 14 3 12 5 8 0 1-1 22-3 9-7 6-3 6-1 4-2 8-7 14-5 5-5 9-5 3 0 18-7 11 0 1-1 19 0 3 5 1 0 4-5 26 0 1 1 6 0 11 5 6 1 9 4 8 7 5 2 3 0 8 5 6 6 4 2 4 0 8 4 7 6 7 1 1 1 22 1 8-3 5-6 1-3 8-7 7-2 6-6 2-5 2-2 1-3 0-19 4-6 3 0 5-2 5-6 5-11 0-16 4-5 7-2 8-10 3-9 0-17 5-6 6-2 8-10 2-7 0-18 3-6 3-3 6-2 4-4 4-7 1-7 1-1 0-16 3-7 4-4 6-2 3-3 5-11 3-25 5-6 5-2 4-4 6-14 0-9 5-11 2-2 5-2 4-4 4-11 6-10 4-4 3-1 17-18 15-7 8-5 7 0 1 1 0 13 1 1 0 3 3 4 2 0 3-3 1-3 0-16 1-1 6 0 13 6 8 2 18 19 3 1 5 5 6 9 4 10 4 4 5 2 3 4 4 9 0 5 2 6 4 8 3 3 6 2 5 8 2 16 4 8 0 2 4 5 6 2 6 7 1 3 0 16 5 13 4 5 8 3 4 5 1 3 0 17 4 10 6 7 7 2 5 7 0 21 3 8 6 8 9 3 3 4 1 3 0 18 3 5 0 2 6 8 8 3 4 4 1 7 6 10 5 5 5 1 2 3 2-3 5-1 4-4 7-12 0-5 2-4 4-3 5-1 8-10 0-2 3-5 0-16 2-4 2-2 8-3 4-4 4-7 2-6 0-18 1-3 4-4 7-2 4-4 4-7 0-3 2-4 0-14 2-4 3-3 8-3 7-11 1-8 1-1 0-14 2-4 4-4 6-2 3-3 6-13 2-16 5-6 6-2 3-3 6-14 0-5 4-8 4-4 5-2 4-5 2-7 7-12 12-10 4-7 10-10 7-3 15-11 4 0 12-4 1 1 0 13 2 4 2 1z"/>
<path fill="#364f85" d="M1383 55l-3 5 0 16-10 4-7 1-7 4-10 8-9 4-4 4-5 10-6 6-11 8-10 24-6 7-5 2-3 4-6 14 0 11-2 7-6 7-4 1-5 5-5 11-1 22-2 4-6 6-5 2-3 3-5 9-1 8-1 1 0 17-6 8-6 2-4 4-5 8 0 4-2 5 0 18-1 2-6 6-5 1-6 7-4 9 0 18-2 4-4 4-6 2-8 9 0 2-3 5 0 15-5 7-4 1-5 3-8 12-2 8-4 3-2 0-3-4 0-3-7-12-5-5-5-1-5-5-1-3 0-16-4-9-7-8-6-2-5-5-1-2 0-21-3-8-8-9-6-2-4-4-2-4 0-23-2-4 0-3-5-8-3-3-6-2-4-4-2-4 0-17-1-1 0-5-2-7-5-9-2-2-6-2-6-7-1-3 0-15-1-1-1-9-5-10-5-5-2 0-6-6-2-4-2-18-6-14-12-10-6-10-2-8-3-6-3-3-7-4-10-10-3-6-6-5-12-4-7-4-8-1-1-1 0-16-2-4-3-2-3 3-1 3 0 17-1 1-7 0-4 2-8 7-13 7-4 4-5 12-10 11-4 2-4 4-9 25-7 8-2 0-5 5-3 6-3 9 0 9-3 10-6 6-6 3-4 7 0 2-3 5-1 23-1 3-7 8-5 2-3 3-5 10-1 9-1 1 0 19-6 8-6 2-5 5-3 6-2 7 0 32-6 9-4 1-6 4-5 9-2 6 0 34-2 4-4 4-4 1-5 3-5 7 0 2-3 6 0 22-2 4-4 3-6 1-5 5-6 11 0 7-6 7-3 0-4 2-5 6-9 6-7 0-1 1-11 0-1 1-3 0-9-3-9-5-5-1-9-6-6-7-5-1-9-5-8-8-10-3-8-4-4-4-16-6-10-7-12-1-2-4-2 0-3 4-11 1-4 2-4 4-10 5-7 2-6 5-8 4-8 2-8 8-8 5-6 1-11 11-7 4-3 0-8 5-9 3-24 0-1-1-10-2-3-2-7-1-6-3-9-8-4-2-3 0-9-6-7-8-10-3-8-4-4-4-4-2-3 0-8-4-8-7-16-6-3-4-11-4-3-4-6-14-4-5-5-3-3 0-6-7 0-21-3-5-1-4-5-7-8-3-4-4-2-4 0-23-2-3 0-3-4-7-4-4-6-2-5-5-2-4 0-24-2-7-4-7-4-4-6-2-4-4-2-4 0-20-1-1 0-4-2-7-2-2-2-5-3-3-6-2-5-5-2-4 0-15-1-1-1-9-5-10-2-2-6-2-6-7-2-5-1-13-6-14-11-8-7-10-2-7-5-8-13-7-10-10-11-5-2 0-9-5 0-14-2-6-2-2 0 161 2 0 2-4 0-13 3-1 6 3 11 3 9 6 5 5 5 2 12 13 4 8 3 3 6 3 7 12 1 6 4 8 5 5 4 1 5 6 0 2 2 3 0 14 1 1 0 4 5 9 5 5 4 1 4 4 3 6 0 21 2 4 0 3 7 10 6 2 5 5 2 5 0 18 2 3 0 2 5 9 4 3 5 1 6 9 0 22 2 3 0 2 8 10 6 2 3 3 2 4 0 18 4 9 8 9 5 1 5 6 0 5 6 10 6 6 13 4 2 3 4 0 6 4 13 2 9 3 4 0 9 4 7 5 6 1 12 6 3 3 12 4 14 8 7 1 16 6 9 0 7-2 12-1 7-4 3-3 11-5 5-1 5-5 12-6 3 0 4-2 5-5 9-5 3 0 18-7 16 0 1-1 14 0 4 5 4-5 32 1 4 2 3 0 5 3 9 2 6 3 10 8 5 1 6 3 9 8 12 4 14 9 3 0 1 1 24 1 5-2 4-4 3-5 9-8 7-2 10-14 0-20 6-7 5-1 7-8 4-8 0-16 1-3 4-4 6-2 7-8 4-9 0-17 2-4 4-4 5-2 8-10 3-10 0-16 2-4 5-5 4-1 5-5 4-8 0-4 2-6 0-14 2-4 5-5 5-2 4-5 4-8 3-25 4-6 6-3 5-6 5-12 0-7 4-11 12-10 2-6 9-16 4-4 4-2 4-5 15-14 2 0 18-10 8-1 1 1 0 17 3 5 3 0 3-6 0-16 1-1 7 0 10 5 10 3 8 7 5 7 13 11 8 12 3 8 7 5 5 6 4 9 1 8 2 2 0 2 3 6 5 4 3 1 3 3 3 6 2 16 4 9 4 5 6 2 6 8 1 3 0 16 3 9 7 9 4 1 4 3 4 7 0 17 3 8 7 8 6 2 5 6 0 20 1 1 0 3 6 11 4 4 7 2 4 6 0 18 1 3 7 11 3 3 6 2 4 4 2 8 6 8 1 3 5 4 3 0 2 3 2-3 2 0 5-3 8-13 0-4 3-6 2-2 8-3 9-14 0-16 1-3 4-5 6-2 8-9 0-2 3-5 0-19 2-4 4-4 6-2 5-5 5-12 0-14 2-4 4-4 7-3 4-5 5-13 0-15 6-9 6-2 3-3 5-9 1-8 1-1 0-7 3-6 5-5 2 0 5-4 6-13 0-5 5-10 11-9 3-6 0-2 6-10 6-7 3-1 4-4 3-6 12-12 7-3 8-7 7-4 17-4 1 1 0 15 1 2 2 1z"/>
<path fill="#38538a" d="M1383 57l-3 5 0 16-6 3-13 3-13 10-12 6-7 12-18 16-8 20-16 17 0 2-4 7-1 13-2 7-8 9-2 0-5 5-4 8-1 8-1 1 0 15-4 7-4 4-4 1-5 5-4 8 0 3-2 5 0 17-3 5-4 4-5 2-5 5-4 7 0 3-2 4 0 19-8 9-4 1-5 5-3 5-3 9 0 16-1 2-5 5-7 3-5 6-4 8 0 14-2 4-4 5-7 3-3 3-7 11-1 6-3 3-4 1-4-6-1-5-3-3-4-7-4-3-4-1-5-5-2-4 0-17-4-8-5-6-7-3-5-5-2-4 0-20-4-9-5-6-7-3-5-5-2-4 0-23-2-6-4-7-4-4-5-2-5-5-2-4 0-18-2-5 0-4-6-11-7-4-7-8-1-3 0-15-1-1-1-8-5-10-11-9-4-7-2-17-6-14-4-4-3-1-6-7-11-23-9-6-10-10-2-4-6-6-8-2-9-5-6-2-3 0-1 1-2-1 0-19-2-4-3 0-2 3 0 20-1 1-7 0-6 3-8 7-13 7-7 14-11 12-6 4-6 13-2 9-3 5-6 7-3 1-4 4-6 14 0 9-1 1-1 7-3 5-12 10-4 8-1 8-1 1 0 16-1 3-7 9-5 2-3 3-5 9-1 8-1 1 0 20-3 5-5 5-4 1-5 5-4 8-1 8-1 1 0 29-6 8-7 3-3 3-4 7-2 6 0 34-2 4-5 5-4 1-5 4-7 12 0 22-1 1 0 3-3 3-6 2-6 4-7 11-1 10-5 5-6 2-7 7-10 6-20 1-2 1-9-3-20-10-10-9-13-6-10-9-5-1-7-4-2 0-8-6-5-1-12-6-7-5-3-1-9 0-1-2-3-2-2 4-9 0-3 1-8 6-10 5-3 0-10 7-15 6-9 8-9 5-6 2-6 7-6 3-3 3-5 1-11 6-6 2-24 0-1-1-10-2-6-3-3 0-10-5-8-7-4-1-9-5-6-7-4-3-5-1-7-4-4-1-6-5-5-1-11-6-7-6-5-1-10-5-3-3-6-3-2 0-6-6-1-5-7-11-3-3-7-3-4-4-2-4 0-20-1-3-6-10-3-3-6-2-5-5-2-4 0-23-2-3 0-3-3-5-5-5-5-2-7-8 0-22-1-1 0-4-2-3 0-3-8-10-4-1-6-6-2-4 0-21-1-1-1-7-5-9-3-3-5-2-6-6-2-4 0-15-1-1 0-5-2-6-5-8-6-3-6-6-3-7-1-13-5-11-3-4-4-2-7-7-4-6-5-12-5-5-11-6-11-10-9-3-10-5-2-2 0-17-3-4 0 158 1 0 2-3 0-16 1-1 12 5 6 1 22 15 12 13 5 9 5 3 4 4 6 11 0 3 5 10 5 5 2 0 7 8 2 6 0 13 2 7 6 9 6 3 5 5 2 4 0 18 1 1 0 4 2 6 4 7 3 3 5 2 5 5 2 4 0 17 5 12 5 6 6 2 6 8 0 21 5 11 4 5 5 3 2 0 6 8 0 19 1 3 9 12 7 3 5 7 0 5 10 13 14 5 3 3 3 0 6 4 13 2 4 2 8 1 6 3 2 0 6 4 11 5 2 0 8 4 5 4 12 4 12 7 10 2 12 5 11 0 1-1 17-2 10-7 2 0 7-4 5-1 7-6 10-5 7-2 7-6 21-9 10-3 22 0 1-1 7 0 4 5 3-5 32 1 1 1 3 0 9 4 8 2 10 5 6 5 6 2 9 5 8 7 5 1 7 4 2 0 10 7 3 0 1 1 11 0 1 1 12 0 6-3 4-6 11-10 5-1 6-6 5-7 0-20 2-4 5-5 2 0 6-4 7-11 0-16 3-7 10-5 6-8 0-2 3-5 0-17 6-9 4-1 4-3 6-10 2-6 0-17 2-4 6-6 6-3 6-10 0-4 2-5 0-15 7-10 5-2 3-3 6-14 2-20 3-5 4-4 3-1 5-6 4-8 1-10 2-7 4-7 4-4 5-3 4-7 1-4 8-13 4-4 4-2 2-3 17-16 4-1 5-4 12-6 8 0 1 1 0 20 2 3 2 0 3-4 0-20 1-1 6 0 17 8 5 1 7 6 8 10 6 4 5 5 6 10 3 3 0 2 4 7 5 3 5 6 5 11 1 7 6 11 5 3 7 8 2 6 1 12 4 9 4 5 5 2 6 7 2 6 0 15 4 10 6 7 4 1 4 4 3 5 0 16 5 12 4 5 7 3 4 4 2 4 0 21 5 10 6 6 4 1 5 5 2 4 0 18 7 11 4 4 5 2 4 4 2 4 0 4 4 4 3 6 4 4 4 1 2 3 2-3 4-1 3-3 4-7 4-5 0-5 5-7 6-2 9-12 2-4 0-16 5-7 7-3 2-2 7-12 0-18 1-3 6-7 4-1 5-4 6-12 0-14 1-3 7-8 4-1 4-4 4-7 0-3 2-4 0-14 2-5 5-6 5-2 5-6 3-6 0-3 2-5 0-6 3-7 5-6 6-3 6-11 1-7 3-7 4-6 5-3 4-4 10-19 5-6 6-4 4-7 13-13 5-2 7-6 10-6 17-4 1 1 0 15 3 4z"/>
<path fill="#3c588f" d="M1383 58l-2 3 0 19-6 3-11 2-16 11-9 4-4 4-4 7-18 17-4 7 0 2-6 13-15 16-4 9-1 12-3 9-6 7-4 2-4 4-4 7-1 8-1 1 0 14-3 7-14 12-4 7 0 3-2 5 0 17-2 4-6 6-6 3-6 8-3 9 0 19-3 5-6 5-2 0-3 2-6 8 0 2-3 6 0 17-1 2-6 6-5 2-5 5-6 11 0 14-6 8-5 2-6 6-6 9-1 6-3 3-4 1-4-5-1-5-6-9-7-6-2 0-7-8-1-3 0-16-3-4 0-2-7-8-5-2-6-6-2-4 0-20-3-7-7-8-5-2-7-8 0-21-3-10-3-5-5-5-3-1-7-7-2-4 0-18-2-5 0-4-5-9-6-4-9-10-1-3 0-15-1-1-1-8-5-9-12-11-4-9-1-14-7-14-11-10-11-22-10-8-10-10-6-8-12-4-9-5-9 0-1-1 0-22-3-2-3 4 0 20-5 2-5 0-10 8-12 6-3 3-7 13-17 17-4 8-3 11-4 7-12 11-5 10-2 18-3 6-13 12-5 10 0 5-1 1 0 16-4 8-6 6-3 1-3 3-5 9 0 3-2 5 0 19-1 3-8 9-3 1-6 6-2 4-3 10 0 30-2 4-6 6-2 0-7 6-3 5-3 9 0 33-5 7-7 3-5 5-6 12 0 23-4 4-8 3-6 6-4 7 0 7-2 4-5 5-7 3-6 6-10 6-24 1-9-3-18-9-10-9-11-5-6-4-5-5-6-2-14-7-2-2-18-8-7-5-3-1-9 0-3-4-3 4-9 0-11 7-13 6-2 0-5 4-18 8-5 5-6 4-5 2-2 2-4 1-8 8-3 1-6 5-2 0-12 6-9 3-22 0-1-1-11-2-6-3-3 0-10-5-7-6-15-8-8-8-6-2-9-5-2 0-5-4-17-8-6-5-16-7-3-3-6-3-2 0-6-6-2-6-5-8-6-6-5-2-6-7-1-3 0-20-5-9-5-5-5-2-7-8 0-22-3-6 0-2-4-7-5-4-2 0-3-2-6-8 0-23-5-13-6-6-3-1-7-7-2-4 0-21-1-1-1-7-4-7-4-4-6-3-5-6-2-5 0-14-1-1-1-8-3-6-6-6-3-1-6-7-3-7-1-12-5-11-13-12-6-9-3-8-5-6-11-6-13-11-10-3-9-5 0-18-3-5 0 155 1 0 2-3 0-16 1-1 18 6 22 15 14 16 2 4 9 8 8 14 0 3 4 8 6 5 9 10 1 3 0 11 4 13 4 6 5 3 7 7 2 4 0 20 3 9 3 5 14 12 2 4 0 18 3 5 0 2 3 5 4 4 5 2 3 3 4 7 0 21 7 12 3 3 5 2 3 3 4 7 0 19 4 5 1 3 6 6 5 2 2 2 4 7 0 5 11 12 9 3 6 4 3 0 9 5 4 0 14 4 4 0 3 2 7 2 10 6 11 4 11 7 12 4 10 6 13 3 13 5 1-1 6 0 1-1 6 0 1-1 10-1 7-5 18-8 6-5 2 0 2-2 14-6 6-5 10-5 3 0 8-4 6-1 4-2 31 0 2 3 2 0 2-3 32 0 21 7 10 5 8 6 4 1 2 2 7 3 7 6 6 3 2 0 20 11 25 1 4-2 5-6 7-5 4-5 7-3 10-13 0-20 7-8 4-1 5-5 6-10 0-16 1-1 0-3 3-3 7-3 5-5 5-9 0-17 3-7 4-4 5-2 4-4 3-5 0-2 3-6 0-16 1-3 7-9 5-2 7-10 0-4 2-4 0-15 4-8 5-5 3-1 5-6 3-6 0-4 2-5 0-12 4-8 8-7 4-5 4-8 2-13 4-9 3-4 9-8 4-9 2-2 0-2 7-10 23-22 15-9 4-1 5-3 8 0 1 1 0 20 2 3 3 0 1-2 0-22 1-1 7 0 22 9 8 7 4 5 14 13 6 10 3 3 3 7 7 6 4 5 5 10 1 7 4 9 11 10 4 6 1 8 1 1 0 5 4 11 5 6 3 1 8 9 1 3 0 15 4 11 7 8 3 1 7 8 1 3 0 16 3 5 1 4 6 7 5 2 6 7 1 3 0 20 6 11 6 5 2 0 7 8 1 3 0 18 8 11 7 4 6 7 2 8 3 2 1 3 6 6 5 3 5-3 6-6 1-3 4-4 0-5 4-7 2-2 5-2 6-6 1-3 4-5 0-16 1-3 5-6 5-2 5-5 5-8 1-3 0-18 2-4 5-5 5-2 5-5 4-9 0-13 3-7 6-6 3-1 5-5 3-5 0-3 2-4 0-14 4-8 5-5 3-1 6-7 4-12 0-6 4-9 13-12 3-6 1-7 6-12 10-9 3-7 8-13 28-30 3-1 10-8 9-5 18-5 1 1 0 18 1 2 1 0z"/>
<path fill="#405e94" d="M1383 60l-1 1 0 21-9 4-4 0-7 2-12 9-9 4-7 7-3 5-19 19-7 17-5 7-7 6-4 5-4 8-2 17-3 6-14 13-3 5-1 8-1 1 0 14-3 7-16 15-2 4 0 3-2 4 0 17-1 3-9 10-3 1-5 5-3 6 0 2-2 3 0 20-7 9-6 3-6 6-1 4-3 5 0 17-2 4-7 7-2 0-6 5-6 10 0 14-2 4-6 7-2 0-7 6-1 3-5 5 0 4-2 4-3 3-4 1-4-5-2-7-4-4-3-5-7-4-6-6-2-4 0-16-4-8-5-6-3-2-2 0-9-10 0-20-1-3-6-10-7-4-7-7-2-4 0-21-3-9-5-7-10-7-5-8 0-19-2-4 0-4-4-7-7-5-6-6-4-8 0-15-1-1-1-7-5-9-10-9-4-6-2-6 0-7-1-1 0-5-2-6-3-5-12-12-4-6 0-2-2-2 0-2-5-9-10-10-7-5-5-7-6-6-11-3-10-5-7 0-1-1 0-22-1-2-3 0-1 2 0 23-1 1-9 0-12 9-9 4-5 5-9 14-13 13-6 11-3 11-4 6-12 12-4 7-1 12-1 1-1 8-4 6-12 11-4 8-1 22-3 7-14 13-4 7 0 3-2 5 0 19-1 3-6 8-10 7-4 7 0 3-2 5 0 30-2 4-17 15-4 10 0 34-2 4-7 6-2 0-6 5-6 11 0 24-3 4-11 5-3 3-6 10 0 6-2 4-5 5-5 2-8 7-7 3-3 3-24 1-9-3-19-10-8-7-15-8-10-8-4-1-2-2-2 0-40-21-9 0-3-4-3 4-9 0-8 5-21 10-2 2-14 7-2 0-7 6-18 10-6 6-15 9-2 0-5 3-5 1-6 3-22 0-23-7-2-2-9-4-6-5-5-2-4-4-5-2-9-8-4-1-2-2-2 0-10-5-2-2-15-7-8-6-16-7-9-6-2 0-7-7-1-5-5-6-1-3-4-4-6-3-7-9 0-20-6-11-3-3-6-3-6-6-2-4 0-22-5-11-5-5-6-3-6-7-1-3 0-23-3-6 0-2-6-8-9-6-5-8 0-21-1-1-1-7-3-5-5-5-3-1-8-9-2-5 0-15-1-1-1-7-2-4-8-7-9-10-5-23-3-5-11-10-7-10-5-10-6-6-8-4-12-10-12-4-9-5 0-20-2-3 0 152 2-1 0-20 1-1 12 5 5 1 16 10 4 4 3 1 6 6 12 16 10 10 7 13 0 3 4 7 11 10 4 6 1 3 0 12 4 12 6 7 3 1 8 10 1 3 0 19 4 11 7 7 3 1 7 9 1 3 0 17 3 5 0 2 4 6 7 4 7 9 1 3 0 21 5 8 6 6 3 1 7 9 0 19 1 3 9 11 3 2 2 0 3 3 4 6 0 5 6 8 7 6 9 3 4 3 1-1 11 6 9 1 9 3 4 0 33 16 2 0 2 2 12 6 7 2 6 4 2 0 6 3 7 1 3 2 10 3 1-1 7 0 7-2 7 0 10-6 18-8 5-4 17-8 5-4 11-5 2-2 3 0 8-4 3 0 8-3 30 0 2 3 2 0 2-3 31 0 22 7 2 2 11 5 5 4 4 1 3 3 4 1 11 8 8 4 2 0 16 9 25 1 5-3 6-7 4-2 7-7 3-1 11-12 0-20 3-5 5-5 5-2 3-3 6-9 0-16 2-7 4-3 7-3 8-12 1-3 0-16 2-3 0-2 3-4 6-3 7-8 0-2 3-5 0-17 4-8 6-6 3-1 6-7 1-6 2-4 0-15 4-8 8-7 6-7 4-13 0-12 5-10 8-7 4-5 3-6 3-17 4-7 4-5 7-6 6-10 1-4 7-10 5-4 8-9 9-7 3-4 21-11 10-1 1 1 0 23 3 2 2-3 0-22 7-2 3 2 10 3 7 4 2 0 10 9 4 5 13 12 14 22 9 9 6 12 1 7 4 8 8 7 7 10 1 10 4 13 6 7 3 1 3 3 6 10 0 15 4 11 4 5 4 2 7 7 3 6 0 16 3 5 1 4 15 13 3 6 0 21 2 2 2 5 15 13 2 4 0 18 6 9 13 11 3 5 1 6 10 11 5 3 10-8 1-3 4-4 1-7 4-6 8-5 9-11 0-16 2-5 6-7 5-2 3-3 6-10 0-18 1-3 7-8 7-4 3-4 4-10 0-13 2-4 8-8 4-2 5-7 0-3 2-3 0-14 2-6 17-18 3-10 0-6 2-6 5-7 4-3 8-9 2-5 1-7 4-8 13-14 10-18 29-31 3-1 9-7 11-6 17-4 1 1 0 20 1 1z"/>
<path fill="#4d6e9b" d="M1383 62l0 23-8 3-11 2-6 3-6 5-12 6-10 12-17 17-4 7-1 5-3 6-17 20-2 4-1 12-1 1-1 7-4 6-8 7-7 8-1 7-1 1 0 15-5 10-6 6-4 2-6 8 0 3-2 4 0 17-1 3-4 6-14 12-2 4 0 2-2 3 0 19-1 3-9 10-5 2-4 4-4 9 0 17-2 4-8 8-3 1-6 6-1 3-3 3 0 14-2 5-7 8-7 4-3 5-4 4 0 3-3 6-6 5-5-6-2-4 0-3-10-11-4-2-8-9-1-3 0-16-4-7-6-6-3-1-8-8-2-4 0-20-4-6 0-2-6-6-3-1-8-8-2-4 0-22-2-3-1-5-6-7-4-2-6-6-4-7 0-19-1-1-1-7-2-4-16-15-3-7 0-15-1-1-1-7-4-7-5-4-8-9-3-6-2-18-3-6-16-18-9-18-27-26-21-8-8 0-1-1 0-25-2-1-1 1 0 26-1 1-10 0-13 9-7 3-7 7-8 12-14 15-4 7-1 6-3 7-4 6-12 12-3 5-1 10-1 1 0 7-3 7-3 4-11 10-4 7 0 5-1 1 0 16-5 10-14 13-2 4 0 3-2 5 0 19-4 8-7 7-3 1-5 5-2 4-2 7 0 31-2 4-9 9-3 1-5 5-4 10 0 33-1 1 0 3-4 5-8 4-6 6-4 7 0 26-3 4-6 2-8 5-6 9 0 7-8 10-3 1-9 7-5 2-6 5-24 1-3-2-15-5-6-5-7-3-4-4-8-4-1-2-8-4-9-7-4-1-2-2-6-2-6-4-30-15-9 0-3-4-3 4-8 0-3 1-14 8-2 0-2 2-11 5-2 2-10 4-11 8-9 4-4 4-5 2-5 5-8 4-4 4-19 7-3 2-22 0-4-2-7-1-12-4-3-3-6-2-8-6-5-2-5-5-5-2-8-7-16-7-2-2-20-10-5-4-21-10-2-2-4-1-7-7-3-8-5-7-5-4-3-1-8-9-1-3 0-20-2-2-2-5-6-6-3-1-8-8-2-4 0-23-5-10-5-4-3-1-9-10-1-3 0-23-3-6 0-2-7-8-3-1-6-6-4-8 0-21-2-4 0-3-4-6-5-3-9-9-3-8 0-15-1-1 0-4-5-8-5-3-9-10-3-8-1-12-3-6-16-17-5-10-8-10-9-5-11-9-11-4-5-3-2 0-5-3 0-23-1-1 0 149 1 0 0-22 1-1 14 6 6 1 5 5 3 1 13 9 10 11 8 11 6 5 4 5 7 12 1 6 2 4 10 9 7 10 1 3 0 12 4 12 13 12 4 6 1 3 0 20 2 3 1 5 6 7 3 1 5 5 4 6 0 3 1 1 0 17 2 2 2 6 13 11 4 7 0 21 6 10 11 9 5 8 0 19 7 10 7 4 3 3 4 6 1 7 9 10 28 13 13 2 5 2 4 0 62 30 28 9 1-1 21-2 26-13 7-5 10-4 25-15 3 0 6-3 9-2 3-2 31 0 2 3 2 0 2-3 32 0 3 2 3 0 15 5 20 12 2 0 3 3 7 3 8 6 12 6 2 0 10 6 3 1 9 0 1 1 13 0 7-4 2-3 6-4 6-7 6-3 9-10 0-19 3-6 6-6 7-4 6-9 1-22 5-5 6-2 5-5 5-9 0-16 2-6 5-6 6-3 5-6 0-2 3-5 0-16 2-6 18-19 0-3 2-5 0-15 1-3 5-8 6-5 7-8 2-10 1-1 0-12 1-3 7-11 5-4 5-6 2-4 3-17 5-9 4-5 6-5 4-6 2-6 9-13 26-25 18-9 2-2 11-1 1 1 0 26 2 0 1-1 0-25 1-1 9 0 21 9 16 17 6 4 7 9 12 19 4 3 6 8 5 11 2 10 13 14 5 8 2 15 3 8 13 12 5 10 0 15 2 3 2 7 5 5 5 3 7 10 1 3 0 16 4 8 4 4 4 2 6 6 3 5 0 21 5 9 4 4 4 2 8 9 1 3 0 18 1 2 3 2 5 7 4 2 6 6 3 6 0 4 9 10 5 2 1 2 8-6 7-9 0-5 5-8 3-3 7-4 2-4 4-4 1-2 0-16 2-4 6-7 3-1 6-6 1-3 3-3 0-18 2-5 8-9 3-1 5-5 4-9 0-13 2-5 7-8 4-2 6-7 3-10 0-13 1-3 5-7 12-11 3-9 0-7 2-6 3-5 14-14 2-4 1-8 5-10 12-13 11-19 29-31 15-9 6-5 20-5 1 1 0 22z"/>
<path fill="#5a7ca2" d="M1383 88l-4 0-4 2-11 2-24 14-27 29-4 7-3 9-4 6-13 14-3 8-1 12-4 9-13 12-4 6 0 4-2 6 0 14-3 6-10 9-7 8-2 6 0 4-1 1 0 15-4 7-15 13-4 11 0 18-1 2-9 10-5 2-3 3-5 11 0 16-2 4-8 8-3 1-6 6-4 7 0 14-2 4-7 8-7 4-6 7-1 6-3 5-6 5-5-6-3-8-10-11-3-1-8-9-2-5 0-16-4-6-5-5-3-1-10-11-1-3 0-20-2-2-2-5-5-5-3-1-10-11-1-3 0-22-2-3 0-2-2-4-4-4-4-2-7-7-4-8 0-20-4-10-7-5-10-12-2-6 0-15-2-7-2-4-15-16-3-7-2-17-3-6-14-15-6-13-4-6-27-26-22-8-4 0-1 1-16 0-8 4-5 4-8 4-7 7-9 13-13 14-3 5-2 9-5 9-4 5-7 6-5 7-1 8-1 1 0 7-3 9-17 18-2 7 0 5-1 1 0 15-4 7-14 13-3 7 0 3-1 1 0 19-1 1 0 3-3 5-8 8-4 2-5 6-2 7 0 30-1 1 0 3-11 12-7 5-4 9 0 33-2 7-5 5-7 3-5 5-1 3-3 3 0 28-5 5-5 1-8 5-5 7-2 11-7 8-5 2-9 7-4 1-4 4-3 1-9 0-1 1-11 0-19-8-2 0-5-5-5-2-6-5-6-3-4-4-7-3-3-3-10-5-2-2-4-1-37-19-9 0-3-4-3 4-9 0-20 10-2 2-4 1-2 2-14 6-14 10-6 2-5 5-5 2-7 6-5 2-5 5-12 5-5 1-3 2-3 0-1 1-16 0-1-1-6 0-4-2-3 0-12-4-5-4-2 0-9-6-7-3-3-4-6-3-9-7-27-13-3-3-9-4-11-7-6-2-4-3-11-5-5-5-4-7-1-4-4-5-5-4-3-1-8-9-2-5 0-19-4-7-5-5-3-1-8-8-3-7 0-21-4-9-5-4-3-1-7-7-4-8 0-23-2-3 0-2-2-4-4-4-4-2-7-7-3-5 0-20-1-1 0-4-3-8-17-16-2-5 0-14-1-1-1-8-2-4-6-5-11-12-2-5-1-11-2-7-16-17-10-17-4-4-20-14-24-10 0 97 16 7 6 1 6 6 15 9 9 10 5 8 13 13 9 16 3 9 6 5 8 9 4 9 0 13 2 3 0 3 2 4 13 12 5 10 0 20 2 3 0 2 2 4 12 10 5 8 0 18 5 10 4 4 3 1 5 5 4 6 1 3 0 21 4 5 1 3 11 9 5 8 1 3 0 18 7 9 6 3 3 3 5 8 0 5 1 2 11 10 2 0 4 3 2 0 20 9 18 3 18 9 2 0 8 5 2 0 21 11 7 2 15 7 3 0 15 5 25-4 8-5 10-4 11-7 8-4 2 0 3-3 9-4 15-9 12-4 3 0 6-3 30 0 2 3 2 0 1-3 32 0 6 3 3 0 10 4 3 0 3 3 20 10 3 3 7 3 5 4 28 14 25 1 5-3 6-6 4-2 7-8 3-1 9-9 1-2 0-19 4-7 5-5 6-3 7-10 0-22 4-4 8-3 5-5 4-7 0-16 3-7 0-3 4-4 8-4 6-10 1-3 0-17 8-12 5-3 6-7 2-6 0-15 2-7 4-6 11-10 3-5 1-7 1-1 0-12 1-1 0-3 5-9 12-12 3-8 2-13 4-8 13-14 4-6 1-5 8-12 17-15 8-10 9-4 15-9 16 0 1-1 4 0 14 7 9 3 4 5 22 21 7 10 3 7 12 13 6 10 5 17 2 3 9 8 7 12 1 11 4 11 4 4 5 3 8 12 0 3 1 1 0 15 4 9 4 4 3 1 9 11 1 3 0 16 3 5 1 4 14 12 4 7 0 21 4 7 4 4 4 2 6 6 4 8 0 18 8 9 4 2 5 5 4 7 1 5 8 9 3 2 2 0 1 2 7-5 7-8 1-7 5-8 9-6 7-9 0-16 1-3 8-10 3-1 5-5 5-8 0-18 4-7 14-12 0-2 3-5 0-13 3-7 7-8 4-2 4-4 4-10 0-14 1-3 5-8 12-11 4-13 1-8 7-11 10-9 2-4 2-10 6-11 12-13 4-7 0-2 10-14 11-10 14-16 3-1 18-13 21-6z"/>
<path fill="#628cb1" d="M1383 90l-21 5-22 13-28 30-6 15-5 7-13 14-1 9-1 1 0 7-4 9-17 18-1 7-1 1 0 14-1 1 0 3-2 4-17 16-3 10 0 17-4 7-7 7-3 1-6 7 0 2-3 5 0 19-1 3-9 10-3 1-6 5-4 8 0 17-1 3-10 11-6 3-6 9 0 14-1 3-6 8-9 6-7 8 0 3-4 8-5 4-2 0-6-8-2-7-9-9-3-1-6-6-4-7 0-17-6-9-6-3-9-9-2-4 0-20-4-8-5-5-3-1-9-9-2-4 0-21-3-9-2-3-6-4-11-12-1-3 0-19-3-10-15-14-5-9 0-14-1-1-1-9-2-4-11-10-5-7-3-8 0-7-1-1 0-5-2-6-3-4-8-7-6-8-7-15-12-13-16-14-19-7-21 0-1 1-4 0-6 3-5 4-8 4-8 8-8 12-14 15-6 17-7 10-10 9-2 4-2 17-2 6-5 7-6 5-7 8-1 8-1 1 0 15-1 1 0 3-6 9-5 5-6 4-3 6 0 3-2 5 0 19-3 6-9 9-5 3-4 6-2 7 0 31-7 10-11 8-5 11 0 35-1 1 0 3-5 5-8 3-5 5-4 7 0 22 1 1 0 3-2 4-4 3-5 0-8 5-5 7 0 7-2 4-7 8-7 3-6 5-4 1-3 2-2 3-14 1-1 1-9 0-5-3-16-5-4-5-7-3-6-5-5-2-5-5-7-3-3-3-7-3-5-4-4-1-35-18-10 0-3-4-3 4-9 0-19 9-2 2-16 8-4 1-3 3-17 9-5 5-5 2-6 5-5 2-7 7-5 1-16 7-25 0-7-3-13-3-4-4-4-1-6-4-9-4-5-6-5-2-6-5-5-2-5-4-2 0-16-8-3-3-11-5-11-7-20-9-5-5-4-7-1-4-7-8-6-3-7-8-2-4 0-20-4-7-5-5-4-2-9-10-1-3 0-22-5-10-7-4-7-7-4-7 0-23-3-6 0-2-5-6-4-2-8-8-3-6 0-21-3-10-5-5-4-2-8-9-3-8 0-14-3-10-4-4-5-3-9-11-2-6-1-12-2-5-17-18-4-9-10-11-16-11-26-11 0 93 13 6 9 2 7 7 15 9 10 12 5 8 7 6 6 7 7 13 2 8 2 3 3 2 11 12 4 11 0 11 2 4 0 3 2 3 13 12 4 8 0 19 5 12 6 4 5 5 5 8 1 3 0 17 4 8 12 10 5 8 1 3 0 21 3 3 1 3 11 9 6 10 0 19 8 10 7 4 7 11 0 5 9 9 26 12 24 5 2 2 2 0 9 5 7 2 4 3 8 4 2 0 2 2 2 0 15 8 2 0 10 5 23 7 24-3 15-8 4-1 3-3 16-8 2 0 4-4 8-3 2-2 9-4 3-3 21-7 5 0 1-1 26 0 2 3 2 0 1-3 31 0 19 7 3 0 3 3 6 3 2 0 2 2 9 4 4 4 20 10 3 3 4 1 13 7 23 1 1 1 6-3 6-6 3-1 9-10 3-1 9-9 0-19 1-3 5-7 4-4 6-3 6-8 0-16 1-1-1-6 2-4 2-2 5 0 4-2 5-5 4-8 0-16 2-4 0-4 3-4 10-5 3-4 0-2 3-5 0-16 1-1 0-3 6-9 4-4 4-2 5-7 2-7 0-15 1-3 7-11 11-10 2-7 0-5 1-1 0-11 1-3 7-11 6-5 5-6 3-17 4-9 5-7 5-4 6-7 5-12 6-9 10-8 9-9 6-8 18-9 5-4 23-1 7 4 2 0 9 5 4 1 5 5 3 5 18 16 8 12 3 7 11 11 7 12 5 17 11 11 6 10 1 10 1 1 0 4 2 6 3 4 5 3 4 4 7 12 0 15 3 9 4 5 4 2 4 4 6 9 1 3 0 16 4 8 7 5 6 6 4 7 0 20 4 8 14 12 4 7 0 19 8 9 4 2 5 5 5 9 0 4 8 8 6 4 3-3 3-1 8-9 0-5 6-10 9-6 7-9 0-17 6-9 3-3 3-1 5-5 4-6 0-18 1-3 4-6 6-6 3-1 4-4 4-9 0-13 1-3 5-7 5-5 6-4 4-9 0-14 1-1 0-3 5-8 12-11 4-11 1-10 6-10 11-10 3-7 2-9 4-8 14-15 5-11 6-9 17-17 4-6 7-7 5-2 16-12 21-6z"/>
<path fill="#6c9bb9" d="M0 96l0 88 13 6 10 3 11 10 11 6 11 14 4 7 12 11 6 11 4 12 2 3 5 3 4 4 6 9 0 2 2 3 0 13 3 9 4 5 7 5 7 11 1 3 0 20 2 3 0 2 2 4 6 4 10 12 2 6 0 17 3 6 12 10 6 10 0 21 5 8 10 8 6 9 1 3 0 19 7 8 7 4 7 11 0 5 9 9 20 10 17 5 13 2 6 4 2 0 9 5 5 1 3 3 6 2 11 6 2 0 2 2 13 6 28 9 8 0 1-1 12-1 7-2 11-6 4-1 3-3 11-5 2-2 5-1 4-4 19-9 3-3 19-6 3-2 32-1 3 4 2-4 25 0 1 1 8 0 3 2 12 4 3 0 5 4 6 3 2 0 2 2 9 4 4 4 18 9 5 4 2 0 11 6 6 2 14 0 1 1 9-1 7-6 4-2 9-10 3-1 9-8 1-2 0-19 1-3 8-10 3-1 5-4 5-8 0-18-1-1 0-6-2-2-10 0-6 3-5 6-2 11-6 8-14 9-5 2-7 6-22 2-13-6-10-3-4-5-17-9-4-5-7-3-17-11-5-1-2-2-10-4-3-3-6-2-9-5-7-2-7 0-2-3-2 3-6 0-1 1-7 1-8 5-6 2-3 3-19 8-4 4-18 9-4 5-17 9-2 3-5 4-5 1-15 7-24 0-14-5-7-1-5-5-4-1-13-7-7-7-3-1-8-6-5-2-5-4-5-1-2-2-10-4-4-4-6-2-2-2-11-5-3-3-4-1-13-7-2 0-9-11-1-5-8-9-5-2-9-11-1-3 0-20-3-5-5-5-4-2-7-7-4-8 0-22-5-9-6-3-8-8-4-8 0-23-3-6 0-2-4-4-4-2-8-8-3-5 0-3-1-1 0-21-3-8-4-4-3-1-10-11-2-5 0-14-1-1-1-8-2-4-7-5-7-7-4-6-1-7-1-1 0-5-1-1 0-5-2-4-11-10-6-8-4-9-9-9-14-10-25-11zM1383 92l-3 0-21 6-2 2-10 5-12 9-4 4-6 9-11 10-4 7-1 5-7 12-8 7-6 8 0 5-1 1-1 12-4 8-6 7-5 3-4 4-2 4-1 9-1 1 0 13-1 3-5 7-5 5-4 2-5 6-2 6 0 17-1 1 0 3-3 5-8 8-4 2-4 4 0 2-3 6 0 18-2 5-9 10-3 1-6 5-3 6 0 17-2 5-9 10-6 3-6 8-1 3 0 14-7 10-8 5-8 9 0 4-4 7-5 4-2 0-7-10-1-5-9-9-3-1-10-12-1-3 0-16-2-4-4-5-6-3-10-11-1-3 0-20-4-7-4-4-3-1-11-12-1-3 0-21-2-6-4-6-9-6-7-10 0-3-1-1 0-19-2-6-6-7-7-5-7-11-1-3 0-15-1-1-1-7-2-4-3-2-12-13-3-7-2-18-2-4-8-7-9-12-5-12-15-16-14-12-19-7-19 0-1 1-6 0-8 4-8 6-3 1-10 10-6 10-12 12-4 7 0 3-4 10-4 6-14 15-1 8-1 1 0 7-3 9-6 8-10 8-2 4 0 4-1 1 0 13-1 1-1 9-3 5-10 9-6 7 0 3-2 4 0 20-1 3-6 9-4 4-8 5-4 9 0 31-1 1 0 3-4 6-6 6-3 1-5 4-4 9 0 33-1 1 0 6-4 6-6 1-4 2-5 5-3 5 0 24 1 1-1 6 3 3 8 0 4-2 8-10 0-17 2-4 0-6 4-5 7-2 3-2 5-9 0-16 1-1 0-3 6-10 5-5 4-2 4-5 2-6 0-15 1-1 0-4 6-10 7-6 6-7 0-3 2-5 0-13 2-6 5-8 12-12 2-7 0-4 1-1 0-5 5-11 15-16 2-6 7-13 6-7 13-10 2-4 7-8 15-7 8-6 23-1 13 7 9 3 6 6 3 5 18 16 1 3 6 8 4 9 12 12 5 9 4 12 0 3 2 4 10 9 6 10 2 7 0 7 3 9 12 11 6 10 1 3 0 15 4 10 6 4 5 5 6 10 1 3 0 16 3 6 4 4 3 1 6 6 4 6 1 3 0 21 4 6 12 10 5 8 1 3 0 18 8 8 3 1 5 5 4 6 2 8 8 8 5 3 6-4 7-7 1-7 6-10 8-5 7-8 0-16 2-5 7-9 7-4 6-9 0-19 5-8 6-6 3-1 4-4 3-6 0-14 3-7 9-10 6-4 4-10 0-15 8-13 10-8 3-9 0-6 2-7 7-11 11-10 4-15 7-12 9-8 12-22 15-14 6-9 8-8 2 0 2-2 5-2 12-10 21-6z"/>
<path fill="#77a0aa" d="M0 98l0 84 12 6 11 3 13 12 10 5 10 13 2 5 8 7 8 9 8 18 0 3 6 5 9 10 5 12 0 12 4 10 5 3 6 6 6 10 0 5 1 1 0 18 4 8 5 3 6 6 5 8 1 3 0 17 4 8 3 3 3 1 6 6 5 8 0 3 1 1 0 20 4 6 10 8 7 11 0 20 8 9 3 1 6 6 5 9 0 5 9 8 21 10 18 5 9 1 4 3 13 6 5 1 5 4 13 6 2 0 10 6 2 0 10 5 3 0 3 2 3 0 13 5 12 0 1-1 5 0 1-1 5 0 7-2 9-5 4-1 4-4 4-1 8-5 5-1 7-6 2 0 16-8 4-4 3 0 15-5 3-2 32-1 2 4 2-4 33 1 9 4 12 3 4 4 6 2 8 5 4 1 6 6 2 0 8 5 6 2 6 5 2 0 9 5 6 2 23 1 14-9 8-10 5-2 7-7 0-19 1-3 6-9 3-3 5-2 7-8 0-16 1-1-3-9-4-2-7 0-4 2-4 4-3 5-1 9-8 10-18 9-6 6-20 1-2 1-2-2-5-1-3-2-12-4-7-7-4-1-5-4-7-3-4-5-7-3-7-5-4-1-4-4-7-2-6-4-5-1-4-4-4-1-9-5-6-2-9 0-2-3-2 3-9 0-6 2-6 4-6 2-3 3-6 3-2 0-6 4-5 1-4 4-18 9-4 5-17 9-3 4-5 4-6 1-15 7-23 0-13-5-9-2-5-5-4-1-10-6-2 0-6-7-17-9-3-3-6-3-2 0-4-3-7-2-5-5-16-8-2 0-4-4-19-8-8-10-2-7-7-7-5-2-10-13 0-21-3-5-16-14-4-7 0-22-5-10-7-4-8-8-3-5 0-6-1-1 0-20-3-7-3-3-7-4-8-10-1-3 0-22-3-9-4-4-6-3-7-8-3-8 0-15-2-7-6-7-4-2-5-5-4-6-2-6-1-11-3-8-11-9-5-7-3-6 0-2-8-9-3-1-12-10-15-7-5-1-6-3zM1383 94l-22 5-8 4-15 10-8 8-4 7-13 12-3 6-1 5-7 12-12 11-2 6-1 13-2 6-4 6-7 7-4 2-4 5 0 3-2 5 0 15-2 6-10 11-4 2-4 4-3 10 0 17-3 6-9 9-3 1-4 4-2 4-2 7 0 18-1 2-10 11-5 2-3 3-4 8 0 17-1 3-10 11-6 3-6 8 0 14-2 5-8 10-5 2-8 8 0 3-5 10-5 4-2 0-7-10-1-5-6-7-7-4-7-8-3-5 0-17-2-4-4-5-6-3-8-8-4-8 0-19-3-6-4-4-7-4-6-7-3-7 0-22-4-8-8-5-9-11-1-3 0-18-1-1 0-4-2-6-14-12-6-10 0-4-1-1 0-15-2-6-16-17-3-6-2-17-3-8-12-11-4-6-7-15-5-4-16-17-6-4-19-7-17 0-1 1-8 0-3 2-2 0-19 13-6 7-4 8-14 14-5 15-5 9-13 12-2 4-1 12-4 13-2 3-7 7-5 3-3 4 0 4-2 6 0 15-2 6-4 6-13 11-3 8 0 18-1 1 0 5-4 7-8 8-6 3-4 8 0 3-1 1 0 30-4 8-7 7-3 1-5 4 0 2-3 4 0 31-1 1-1 17-1 1-9 0-3 1-6 6-3 5 0 21 2 4 0 4 2 2 7 1 4-2 7-9 0-16 2-4 0-11-1-1 2-2 9 0 2-1 6-7 2-5 0-17 1-3 5-8 7-7 3-1 3-4 3-9 0-15 1-1 0-3 5-8 8-7 5-6 2-6 0-12 1-1 1-8 6-10 11-10 3-10 1-9 7-14 12-11 2-6 10-18 3-3 7-4 6-6 1-3 9-10 10-4 13-9 10 0 1-1 12 0 15 8 7 2 8 8 3 6 8 7 3 1 5 5 10 17 0 2 15 16 4 8 1 6 3 7 0 3 2 3 11 10 5 9 2 16 3 7 12 11 5 8 2 7 0 15 4 8 5 3 6 6 5 8 1 3 0 16 2 5 5 6 3 1 6 6 5 8 0 5 1 1 0 18 7 8 3 1 6 6 5 9 0 19 9 9 3 1 4 4 5 8 2 8 7 6 3 1 2 3 2-3 3-1 8-8 0-5 7-12 2-2 5-2 8-9 0-17 7-11 8-5 6-8 0-19 6-10 5-5 3-1 6-7 2-5 0-14 1-3 4-6 7-7 3-1 3-3 0-2 3-6 0-14 1-1 0-3 6-10 5-5 6-4 4-11 0-8 1-3 6-10 12-11 5-17 4-8 3-4 11-10 1-4 9-16 6-6 7-5 7-11 8-8 9-4 13-11 7-1 14-5z"/>
<path fill="#83a796" d="M720 440l-6 0-2 1-6 6-2 4 0 22 2 6 5 3 6-1 6-6 2-4 0-17 1-1 0-6-1-1 0-3zM0 99l0 81 14 7 9 2 14 13 10 5 5 6 7 13 5 5 4 2 6 7 4 8 5 15 4 4 4 2 7 9 4 9 2 19 3 6 5 3 6 6 6 12 0 20 5 10 4 2 7 7 4 6 1 7 1 1 0 16 4 6 3 3 3 1 5 5 6 10 0 22 3 5 6 6 3 1 3 3 6 10 1 3 0 19 8 8 3 1 5 5 5 9 0 5 7 7 3 2 2 0 5 4 7 2 7 4 3 0 17 5 5 0 8 5 2 0 7 4 7 2 7 5 2 0 9 5 5 1 3 3 4 1 5 3 2 0 6 3 3 0 3 2 3 0 9 4 5 0 1 1 10-1 6-2 6 0 6-2 9-5 2 0 6-5 4-1 9-5 2 0 7-6 4-1 14-7 4-4 11-3 3-2 6-1 3-2 31 0 2 3 1-3 33 0 3 2 3 0 12 5 4 0 5 5 18 8 3 4 3 2 2 0 8 5 6 2 3 3 12 6 6 2 8 0 1 1 16 0 11-7 9-11 5-2 8-8 0-20 6-10 4-4 4-1 7-8 0-14 1-1 0-4-3-6-3-2-8 0-8 7-2 11-9 12-2 0-15 8-8 7-22 1-5-3-16-5-6-7-9-4-6-4-2 0-6-7-4-1-2-2-11-5-4-4-2 0-12-6-2 0-6-5-4-1-12-6-12 0-1-3-2 3-10 0-6 3-2 0-2 2-2 0-6 3-4 4-7 2-4 3-5 1-6 5-13 7-2 0-8 8-2 0-7 5-5 2-5 6-3 2-8 2-15 7-19 0-18-6-7-1-3-4-11-5-2-2-6-2-7-8-16-8-3-3-19-8-5-5-14-7-2 0-6-5-2 0-9-5-7-2-8-10-2-7-8-8-5-2-8-10-2-5 0-20-5-7-6-3-8-8-3-5 0-3-1-1 0-22-4-7-10-6-8-11-1-3 0-24-4-8-3-3-5-2-5-5-5-8 0-3-1-1 0-21-3-6 0-2-3-3-5-2-9-10 0-2-2-3 0-5-1-1 0-13-2-4 0-3-5-5-6-3-7-9-2-5-1-10-3-10-12-10-4-6-4-8 0-2-4-5-11-7-1-2-5-4-8-4-5-1-5-3zM1383 96l-5 0-4 2-14 3-24 15-5 5-4 8-6 6-7 5-2 3-2 8-7 13-12 10-2 5-1 12-3 10-4 6-5 5-6 3-3 4-2 7 0 13-4 12-7 8-6 3-3 3 0 2-3 6 0 17-1 1 0 3-5 8-4 4-6 3-3 3-4 9 0 19-3 6-9 9-5 2-4 5-2 4 0 16-2 6-10 11-5 2-6 8 0 13-3 7-7 9-6 3-8 8 0 4-5 9-6 5-7-9-3-9-6-6-6-3-8-9-3-7 0-16-6-8-3-2-2 0-9-9-3-6 0-20-2-4-6-7-6-3-8-10-1-3 0-22-5-10-6-3-7-7-5-10 0-20-3-6 0-2-4-4-3-1-6-5-6-10-1-3 0-16-3-10-5-5-3-1-7-8-4-9-1-12-3-10-13-12-6-11 0-2-3-6-5-5-6-4-6-8-10-9-5-1-14-6-21 0-1 1-6 0-6 3-12 9-2 0-7 7-5 10-5 6-9 7-5 15-5 10-7 7-4 2-4 5-1 10-1 1 0 6-4 11-8 9-3 1-5 5 0 3-2 5 0 15-1 1-1 7-6 9-5 4-3 1-4 4-2 6 0 3-1 1 0 19-1 1 0 3-6 9-3 3-6 3-4 4-3 7 0 31-2 6-10 11-5 2-2 2-4 8 0 44 3 2 8 0 5-5 3-6 0-17 6-12 7-7 6-4 0-2 3-6 0-15 1-1 1-7 5-8 5-5 3-1 5-7 2-7 0-13 2-7 6-10 10-8 4-13 1-9 6-12 6-6 5-3 9-18 0-2 4-6 3-3 6-3 6-6 5-8 7-7 9-3 14-10 23-1 14 8 8 2 9 9 3 6 6 6 5 2 5 5 5 10 2 2 3 6 0 2 7 6 7 8 4 8 5 18 3 4 4 2 5 5 5 9 1 7 1 1 0 7 3 9 11 9 7 12 1 3 0 16 3 7 3 4 3 1 7 7 5 9 0 3 1 1 0 16 7 9 3 1 5 5 5 8 1 3 0 21 1 2 7 7 3 1 7 8 4 9 0 17 2 3 6 5 3 1 4 4 6 10 1 6 8 7 3 1 1 2 1-2 3-1 8-7 1-8 7-11 6-3 8-8 0-17 8-13 2-2 5-2 6-8 0-17 1-1 0-3 5-8 6-6 3-1 4-4 3-6 0-13 3-8 9-10 6-4 3-6 0-3 1-1 0-15 1-3 5-8 6-6 5-3 4-10 0-6 1-1 1-7 6-10 5-5 3-1 3-3 5-14 1-6 4-7 13-12 1-4 9-17 15-13 5-9 8-8 9-4 12-11 10-2 13-5z"/>
<path fill="#8ca488" d="M720 441l-7 0-8 9 0 7-1 1 1 16 2 4 4 3 6-1 7-8 0-16 2-6-2-6zM0 101l0 78 2 0 13 7 9 2 15 14 9 4 5 6 8 15 7 5 7 7 3 6 6 18 7 5 7 8 5 12 0 13 2 6 6 7 5 3 8 13 0 5 1 1 0 18 3 6 5 5 3 1 3 3 6 10 1 3 0 18 4 7 3 3 3 1 6 6 6 12 0 21 8 9 3 1 3 3 7 12 0 19 1 2 7 7 3 1 5 5 6 11 0 5 7 6 5 2 5 4 7 2 5 3 15 3 4 2 9 1 3 3 11 5 8 2 4 4 16 7 2 0 7 5 35 12 9 0 1-1 5 0 1-1 10-1 6-2 7-4 4-1 4-4 17-7 6-6 5-1 9-5 2 0 6-6 7-1 14-6 10 0 1-1 54 0 1 1 5 0 3 2 18 5 3 4 17 8 2 0 5 6 4 1 11 6 2 0 5 5 2 0 12 6 4 0 1 1 14 0 1 1 8-1 8-6 3-1 7-10 6-3 7-6 0-19 1-3 6-10 3-3 5-2 7-8 0-19-5-6-3 0-1-1-6 2-6 6-1 2 0 7-6 10-3 3-4 1-13 7-7 7-23 2-5-3-18-6-6-7-9-4-4-3-2 0-8-8-15-7-6-5-5-1-13-6-1-2-5-3-2 0-10-5-28 0-15 7-6 5-14 5-7 6-2 0-6 4-6 2-3 2-5 6-13 6-11 10-8 2-12 6-25 0-13-5-9-2-4-5-18-8-7-8-13-7-2 0-5-5-5-1-7-4-2 0-4-2-3-4-14-7-4-1-6-5-2 0-7-4-9-3-7-9-2-4 0-3-3-4-6-5-5-2-7-9-2-4 0-20-1-3-5-6-6-3-7-7-4-8 0-22-1-3-4-6-9-5-8-10-2-7 0-23-4-7-2-2-5-2-7-7-4-8 0-21-2-7-4-6-8-4-5-6-4-10 0-15-3-9-4-4-5-2-8-9-3-8-1-10-3-9-4-4-2 0-6-5-8-15 0-2-6-6-2 0-5-3-8-8-6-3-8-2-7-4zM1383 97l-6 1-4 2-12 2-6 3-10 8-7 3-6 6-3 7-8 8-3 1-5 5-5 15-4 7-5 5-4 1-3 3-3 9 0 6-1 1-1 9-3 6-6 7-3 2-2 0-5 5-3 10 0 14-4 10-4 5-9 5-3 4 0 2-2 3 0 6-1 1 0 14-4 8-7 7-4 1-4 4-3 6 0 19-2 6-7 9-8 4-5 6-2 4 0 18-3 6-8 8-3 1-6 5-3 5 0 14-1 3-9 12-5 2-7 6-3 10-4 6-5 5-4-3-7-12 0-3-7-7-6-3-7-8-3-6 0-17-3-5-4-4-8-4-7-9-2-5 0-20-3-5-4-4-5-2-6-6-4-7 0-3-1-1 0-21-4-8-10-6-7-10-1-7-1-1 0-18-2-3 0-2-4-5-5-2-6-6-4-7-2-7 0-15-3-9-4-4-5-2-4-4-3-5-3-9-1-12-3-9-4-4-2 0-7-7-9-20-4-4-5-2-7-7-2-5-9-7-3 0-18-7-23 1-7 3-10 8-7 3-5 6-4 9-3 4-12 10-2 4-1 6-6 14-7 7-2 0-6 6 0 4-2 5 0 7-3 10-3 6-5 5-5 2-4 4-2 7 0 5-1 1 0 14-2 6-3 5-6 6-5 2-3 3-3 8 0 19-1 1-1 7-3 5-7 7-4 1-4 4-3 6 0 4-1 1 0 29-5 10-5 5-7 3-5 8 0 33-1 1 1 9 3 3 7 0 6-7 2-5 0-17 1-3 6-10 4-4 7-4 4-11 0-15 1-1 0-3 4-8 7-7 5-3 3-6 0-3 1-1 0-12 1-1 1-8 5-9 6-6 5-3 4-12 0-5 1-1 1-7 6-11 12-10 7-16 0-2 4-6 3-3 8-4 4-4 4-8 7-7 6-3 2 0 5-4 3-1 5-5 7-2 18 0 1-1 19 10 3 0 4 2 8 9 3 7 11 7 5 5 9 18 0 2 5 5 3 1 6 7 3 6 2 10 3 6 1 5 13 12 3 6 2 7 0 4 1 1 0 7 3 5 0 2 12 10 6 11 0 4 1 1 0 15 5 9 8 5 7 11 1 3 0 17 1 3 6 7 3 1 6 6 4 6 1 3 0 20 1 1 0 3 7 7 3 1 5 5 5 8 1 3 0 19 6 6 6 3 3 3 6 10 1 6 6 6 6 3 4-2 8-7 0-5 5-10 6-6 3-1 6-5 2-4 0-16 3-6 6-8 3-1 6-5 3-5 0-18 1-3 5-8 5-5 3-1 6-7 2-4 0-14 1-3 6-10 3-3 7-4 4-8 0-14 1-1 0-4 7-12 10-8 3-6 1-12 2-6 4-7 6-6 7-5 0-3 2-3 2-9 5-12 6-6 6-4 10-22 6-6 3-1 6-5 2-5 10-13 10-4 5-4 6-7 4-2 7-1 9-4 6-1z"/>
<path fill="#9fa174" d="M715 441l-5 3-5 7 0 21 3 6 6 3 2-1 8-9 0-18 1-1 0-3-2-4-2-2zM0 102l0 75 6 2 2 2 2 0 7 4 8 2 6 4 5 7 4 3 9 4 5 6 7 14 14 12 4 8 0 3 6 13 0 2 5 4 3 1 5 6 5 11 1 18 3 6 12 10 5 9 0 3 1 1 0 21 3 6 12 10 5 8 1 8 1 1 0 15 3 5 4 4 3 1 6 6 5 10 0 21 2 4 7 7 4 2 4 5 5 11 0 18 4 5 7 4 4 4 5 8 1 8 5 5 8 4 3 3 7 2 5 3 6 2 9 1 8 3 5 0 5 4 9 4 8 2 6 5 11 5 5 1 7 5 34 12 13 0 1-1 16-2 14-6 5-5 2 0 14-6 6-6 2 0 12-6 2 0 6-6 9-2 6-3 3 0 5-3 68 0 19 7 3 0 8 7 14 5 7 7 4 1 9 5 2 0 7 6 2 0 13 6 24 1 12-7 4-6 6-6 6-3 5-5 0-20 7-13 7-3 5-4 3-6 0-15-2-4-3-3-3-1-4 0-8 6-2 6 0 5-7 12-4 1-16 8-1 2-6 5-23 1-13-6-9-2-7-8-15-7-6-7-14-7-2 0-7-6-2 0-14-6-4-4-4-2-2 0-11-5-24 0-16 7-4 4-18 7-5 5-16 7-6 7-15 7-8 9-11 3-12 6-22 0-17-6-6-1-6-6-17-7-6-8-9-4-4-3-2 0-7-6-16-6-6-6-14-6-2 0-7-6-2 0-5-3-9-3-8-9-3-9-5-5-9-5-8-11 0-3-1-1 0-20-6-7-3-2-2 0-5-4-6-10 0-3-1-1 0-22-5-7-8-4-5-5-5-10 0-24-1-3-5-7-7-3-4-4-5-9 0-3-1-1 0-21-5-10-5-3-2 0-6-6-5-13 0-15-3-6 0-2-3-3-6-2-6-6-4-9-1-10-4-12-2-2-7-3-4-4-7-16-5-6-7-2-9-9zM1383 99l-4 0-8 3-9 1-10 6-5 5-5 1-5 3-3 3-5 10-6 6-5 2-3 3-9 23-5 5-6 2-3 4-2 6 0 4-1 1 0 7-4 12-6 7-6 2-4 4 0 2-2 3 0 3-1 1 0 14-5 13-6 6-7 3-5 10 0 18-2 6-4 6-3 3-7 3-6 8-1 3 0 20-1 3-4 6-5 5-7 3-6 8 0 16-2 7-7 9-8 4-5 5-1 2 0 13-3 8-7 9-5 2-8 7-1 6-5 9-5 5-3 0-5-6-3-5-2-8-7-6-5-2-5-5-4-6-2-6 0-16-1-2-5-5-8-4-6-7-3-6 0-20-1-3-7-8-5-2-6-6-4-8 0-22-3-7-5-5-5-2-5-5-3-5-2-6 0-20-1-3-5-8-7-3-5-5-4-8 0-3-1-1 0-12-1-1 0-6-2-6-4-5-6-2-5-6-3-6 0-3-2-5-1-12-3-8-2-2-7-3-3-3-7-15 0-2-5-8-7-3-7-7-2-5-7-6-9-2-11-5-18 0-1 1-10 1-11 9-7 2-6 6-1 4-5 9-5 5-5 2-3 3-9 25-6 6-5 2-4 4 0 3-2 5-1 12-5 13-5 5-6 2-3 3-3 10 0 15-3 10-2 4-5 5-7 3-2 2-3 7 0 4-1 1 0 19-2 6-3 5-7 6-4 1-6 8-1 3 0 31-4 10-7 7-2 0-5 3-4 6-1 3 0 36 2 5 2 2 5 1 8-10 0-17 2-7 4-7 6-6 6-3 4-9 0-15 1-1 0-4 5-11 5-5 6-3 3-6 1-8 1-1 0-11 2-7 4-8 12-10 3-9 1-10 2-7 5-9 3-3 5-2 4-4 5-11 2-8 3-5 3-3 12-7 4-9 6-7 13-6 8-7 6-3 25-1 5 2 11 7 9 3 6 6 5 10 6 5 5 2 5 5 9 19 0 2 3 3 6 3 5 6 4 10 1 8 4 8 0 2 12 10 3 6 3 10 0 8 4 10 10 7 7 12 0 3 1 1 0 16 3 7 12 10 6 11 0 4 1 1 0 15 2 4 14 12 4 7 0 3 1 1 0 21 3 4 5 4 3 1 5 5 6 12 0 18 6 6 8 5 7 12 1 6 3 3 7 4 4-1 8-6 1-8 5-9 5-5 3-1 7-6 1-2 0-16 5-10 15-13 1-2 0-17 1-1 0-3 5-9 6-6 3-1 7-9 0-13 2-7 4-7 4-4 7-4 3-5 2-7 0-13 1-1 0-3 5-9 12-10 0-2 3-6 0-7 1-1 1-7 4-8 13-11 9-27 14-12 0-2 5-9 0-3 3-6 5-5 5-2 6-6 4-9 7-8 10-4 4-3 2-4 5-4 27-9z"/>
<path fill="#aca070" d="M714 442l-7 6-2 6 0 15 1 1 0 3 1 2 6 5 2 0 5-4 3-4 1-23-5-6zM0 104l0 72 6 1 10 6 12 4 8 7 2 4 13 7 5 6 0 2 7 13 3 3 5 2 5 5 3 6 3 13 3 4 1 4 7 4 7 8 4 12 0 13 4 9 12 10 4 7 1 8 1 1 0 19 3 5 12 10 5 9 0 3 1 1 0 18 7 9 4 2 5 5 6 12 0 21 3 5 11 8 5 8 2 5 0 19 6 7 6 3 3 3 6 10 1 8 3 3 5 2 10 7 5 1 9 4 24 5 5 4 12 5 5 1 6 5 9 4 5 1 9 6 36 12 6 0 1-1 5 0 1-1 15-2 12-5 7-6 2 0 14-6 2-3 4-3 5-1 7-4 4-1 2-3 4-3 6-1 12-4 3-2 5 0 1-1 62 0 6 3 18 5 6 6 16 6 7 7 15 6 7 6 2 0 11 5 6 0 1 1 16 0 1 1 11-6 11-13 3-1 8-6 0-19 1-3 5-8 1-4 2-2 3 0 6-4 4-5 0-18-3-4-7-3-9 7-2 11-4 6-1 4-2 2-5 1-14 7-2 3-5 4-13 1-1 1-10 0-6-4-3 0-3-2-9-2-5-4-2-4-17-8-6-7-16-7-7-6-15-5-5-5-15-6-26 0-14 6-4 4-6 3-12 4-5 5-16 7-6 7-15 7-4 5-6 5-14 4-7 4-25 0-14-5-7-1-7-7-15-6-8-9-15-7-5-5-17-6-7-7-14-6-2 0-7-6-15-5-6-6-4-6-1-6-6-6-8-4-7-9-2-5 0-20-2-4-4-4-8-4-4-4-4-7 0-3-1-1 0-22-1-3-5-6-7-3-6-6-3-5-2-7 0-23-5-8-5-3-2 0-6-6-3-6-1-7-1-1 0-20-4-8-5-3-4-1-4-4-5-12-1-19-4-8-9-4-5-5-4-10-1-11-3-9-2-3-8-3-4-4-2-6-5-9 0-2-5-5-3 0-6-3-7-8-6-3-3 0zM1383 100l-9 3-10 1-8 4-6 6-7 3-3 0-5 5-6 12-6 5-6 2-3 5-7 20-5 5-6 2-3 3-3 10-1 12-3 9-5 6-6 3-2 0-3 3 0 2-3 6 0 13-1 1-1 8-3 7-5 5-4 1-5 3-4 8 0 17-3 10-7 8-6 2-3 3-4 7 0 19-3 8-7 8-7 3-6 7-1 3 0 17-3 7-6 7-7 3-6 6-1 2 0 14-4 9-5 6-9 5-5 5 0 3-4 9-7 8-2 0-4-3-6-10-1-6-5-5-8-4-5-5-5-10 0-17-1-2-6-6-7-3-5-5-3-5-2-6 0-20-8-9-2 0-5-3-6-8-2-7 0-22-3-5-5-5-6-2-6-8-3-10 0-19-4-8-4-3-6-2-6-8-3-10 0-15-1-1 0-3-5-9-2 0-6-3-3-3-4-9-1-8-1-1 0-7-3-10-4-4-6-2-4-4-8-21-4-4-2 0-6-3-4-4-4-8-6-5-3 0-18-7-5 0-1 1-17 0-4 2-9 8-2 0-3 2-3 0-6 6-1 4-6 11-2 2-9 4-3 5 0 3-2 3-4 15-5 6-8 3-3 4-2 7 0 4-1 1 0 6-5 15-4 4-6 2-4 3-3 9 0 15-4 14-6 7-6 2-4 4-3 8 0 20-3 9-8 9-5 1-3 3-4 7 0 30-3 10-3 5-4 4-5 1-3 2-5 7 0 39 2 4 6 2 7-8 0-3 1-1 0-17 7-14 3-3 4-1 4-4 3-6 1-20 5-12 6-6 3-1 3-3 4-9 0-14 1-1 2-10 4-7 11-8 4-12 0-6 1-1 2-10 3-6 4-4 6-2 3-3 1-4 4-7 1-6 3-7 4-4 7-3 4-3 5-10 6-7 14-7 4-5 12-5 17 0 1-1 4 0 6 2 7 5 17 8 5 7 4 9 10 5 6 6 3 10 5 10 4 4 6 3 4 5 3 8 2 12 4 7 0 2 3 3 5 2 6 8 3 10 0 4 1 1 0 8 4 8 7 4 5 5 4 8 1 7 1 1 0 16 3 5 12 10 5 9 0 3 1 1 0 17 2 4 14 12 5 10 0 21 1 3 15 12 6 11 0 19 1 2 14 10 6 11 2 8 10 6 2-2 5-2 4-4 1-8 5-9 15-12 1-3 0-16 5-9 15-13 1-2 0-19 5-10 15-13 2-5 0-14 2-6 3-5 5-5 6-3 4-6 1-3 0-15 2-7 3-6 6-6 3-1 4-4 3-7 0-5 1-1 0-5 2-7 4-8 6-5 2 0 4-4 1-4 3-5 1-8 4-11 5-5 5-2 3-3 5-10 3-11 6-6 5-2 5-4 6-13 3-4 16-8 2-4 7-6 14-4 3-2 10-2z"/>
<path fill="#bf9e5f" d="M714 443l-3 2-5 6 0 21 1 2 6 5 2 0 4-3 4-5 0-18 1-2-1-3-4-4zM0 106l0 68 8 2 7 5 8 2 8 4 4 3 7 9 9 4 5 5 2 7 5 9 5 5 5 2 4 4 3 7 2 11 5 9 3 3 5 2 4 4 3 6 2 7 0 4 1 1 0 13 4 7 3 3 5 2 3 3 4 7 2 7 0 21 1 3 7 8 3 1 6 6 5 15 0 16 6 7 4 2 6 6 5 10 0 21 1 3 4 5 5 3 7 7 5 12 0 18 3 4 6 3 6 5 5 9 1 8 4 4 7 3 8 6 15 5 8 1 9 3 4 0 9 6 15 5 4 4 6 3 5 1 9 4 5 4 33 11 11 0 7-2 6 0 10-3 7-3 7-6 16-6 6-6 16-6 6-6 18-5 5-3 16 0 1-1 37 0 1 1 14 0 3 2 18 5 8 7 16 6 5 6 17 7 7 6 14 5 23 1 11-6 5-8 4-4 8-4 4-4 0-20 6-11 0-3 11-5 5-6 0-16-3-4-6-3-6 3-4 4-2 12-2 2-2 4 0 3-2 2-7 1-5 3-2 0-2 2-2 0-4 5-5 4-23 2-6-4-17-5-4-3-4-6-16-7-7-8-15-6-7-6-15-5-7-6-14-5-22 0-9 3-8 4-1 2-4 3-13 4-7 6-18 8-4 6-17 8-3 5-7 5-3 0-9 3-8 5-24 0-6-3-17-4-5-6-17-7-9-10-14-6-5-5-15-5-9-8-14-5-9-7-15-5-6-6-4-7-2-7-5-4-8-4-5-6-4-10 0-20-6-6-8-4-4-4-3-6-2-7 0-21-8-9-7-3-6-8-2-6 0-24-1-3-5-7-9-4-3-3-5-12 0-22-1-3-6-8-8-3-3-3-5-14 0-15-4-9-3-3-7-2-5-5-3-8-1-8-1-1 0-5-3-9-2-2-4-1-7-4-8-17 0-2-3-4-10-3-8-9-4-2-7-1-8-4zM1383 102l-7 2-5 0-4 2-4 0-4 2-7 7-12 4-3 2-6 13-5 5-4 1-6 4-8 24-3 3-9 3-2 2-3 9-1 13-4 12-4 4-9 3-5 9 0 3-1 1 0 15-5 13-3 3-10 4-5 11 0 17-3 9-5 6-8 3-6 8-1 3 0 20-3 7-5 6-9 4-6 7 0 17-3 9-6 7-5 2-7 5-2 3 0 10-1 1 0 6-2 5-6 8-11 6-3 3-1 6-5 10-7 6-8-7-4-8-1-6-5-4-8-4-5-5-4-8 0-4-1-1 0-15-1-2-6-5-7-3-5-5-4-8 0-20-1-1 0-3-7-7-7-3-4-4-4-9 0-22-3-7-5-5-6-2-6-7-3-9 0-18-1-1 0-4-6-8-9-4-5-8-2-6 0-4-1-1 0-15-1-3-5-8-8-3-3-3-4-10-1-9-1-1 0-7-3-9-2-2-8-3-4-4-3-10-4-7-1-5-1 0-1-2-9-3-6-6-4-8-3-3-7-1-8-4-3 0-4-2-23 1-4 2-9 8-9 2 0 1-3 2 0 2-7 14-4 4-4 1-6 4-8 26-4 4-9 3-2 3-2 6 0 4-1 1 0 7-4 14-5 6-8 3-2 2-3 7 0 14-1 1 0 5-3 10-5 7-8 3-5 7-1 3 0 19-1 1 0 4-4 10-5 5-7 2-6 8-1 3 0 31-3 9-5 7-4 2-3 0-6 6-2 4 0 35 3 5 4 2 6-5 2-4 0-17 2-7 4-8 5-5 4-1 6-8 1-3 0-16 1-1 2-10 2-4 5-5 5-2 2-2 4-8 0-13 1-1 0-5 2-4 1-6 5-7 7-3 2-2 4-11 0-6 1-1 0-4 1-1 2-10 5-6 7-3 3-3 5-10 2-10 2-4 5-5 4-1 6-4 6-12 6-6 11-5 7-7 13-5 18 0 1-1 5 1 9 4 4 4 2 0 11 5 6 7 6 12 9 4 5 4 4 10 0 3 6 11 10 6 3 4 3 9 1 9 5 10 0 2 7 4 5 5 2 4 2 10 1 1 1 12 3 6 4 4 7 4 5 9 2 7 0 16 4 8 4 4 3 1 6 6 4 10 0 4 1 1 0 15 7 8 3 1 6 6 3 5 2 7 0 21 5 5 7 4 3 3 6 11 0 3 1 1 0 17 4 4 6 3 6 6 5 10 1 6 10 6 10-6 1-8 6-11 15-11 0-16 1-1 0-3 5-9 15-13 0-5 1-1 0-16 4-8 16-14 1-2 0-14 2-7 3-6 6-6 3-1 4-4 3-5 0-13 1-1 0-5 5-12 4-4 5-2 4-5 3-7 1-13 4-10 3-4 10-6 0-2 4-7 0-3 5-17 4-4 7-3 2-2 5-10 4-14 3-3 9-4 3-3 6-12 0-2 5-5 12-5 6-8 9-5 6-1 15-6 3 0z"/>
<path fill="#dbd677" d="M716 444l-2 0-7 6 0 22 3 4 4 2 4-2 4-4 0-16 1-1 0-5-2-3zM0 108l0 63 1 1 10 2 8 5 1 2 6 1 9 5 7 8 1 3 10 4 4 4 2 4 1 6 6 10 7 3 6 6 5 20 4 5 1 3 7 3 4 4 3 6 0 3 2 5 0 5 1 1 0 12 5 8 6 3 5 5 2 4 3 10 0 21 7 9 3 1 6 5 3 6 2 7 0 18 5 7 11 8 5 10 0 3 1 1 0 21 5 6 8 5 4 5 4 9 0 20 4 5 3 1 8 6 6 11 1 8 2 2 9 4 6 5 2 0 3 2 17 5 17 3 6 5 7 3 7 1 7 6 9 4 8 2 8 6 14 4 6 3 3 0 4 2 8 1 1 1 1-1 8 0 7-2 6 0 12-4 5-3 0-1 5-4 15-5 7-7 15-5 7-7 10-2 9-3 5-3 67 0 11 5 11 2 9 8 15 5 6 7 6 3 10 3 8 7 12 4 10 0 1 1 13 0 9-4 3-3 3-6 4-4 11-6 1-2 0-19 6-12-2-4 2-2 7 0 7-4 2-3 0-18-5-4-3-1-7 3-2 2-2 12-3 5 0 4 1 1-2 3-8 0-6 3-2 0-4 2-6 7-5 3-23 1-6-4-9-3-7-1-5-4-4-6-11-5-2 0-3-2-7-8-12-4-10-8-15-5-7-6-11-4-25 0-4 2-3 0-8 4-1 2-4 3-15 5-8 7-2 0-13 6-4 6-17 8-3 5-6 5-3 0-12 4-8 5-22 0-9-4-3 0-13-4-5-6-8-4-8-2-6-6-2-4-8-4-5-1-8-7-17-6-4-5-3-2-16-6-5-5-17-6-6-6-4-8-1-5-3-3-10-5-6-7-3-7 0-21-1-2-5-5-10-5-6-10 0-3-1-1 0-22-1-3-7-7-6-2-6-6-2-4-2-7 0-24-6-9-5-1-7-5-5-14 0-22-6-9-7-2-5-4-5-15 0-15-5-10-5-1-6-3-3-3-4-13-1-11-3-6 0-3-10-3-5-5-3-10-5-10-11-3-9-8-1-3-11-1-9-4-1-2zM1383 104l-11 4-11 1 0 1-9 8-12 3-8 15-5 5-10 3 0 3-5 12 0 4-3 7-8 5-6 1 0 3-3 7-1 13-4 13-3 3-11 4-5 11 0 15-3 10-5 7-7 3-3 0 0 2-5 8 0 18-5 13-3 3-9 3-6 9 0 20-4 10-5 5-7 3-6 5-2 5 0 17-3 8-4 5-7 3-8 6-1 2 0 15-5 11-4 4-10 5-4 4 0 4-5 11-8 7-7-5-5-9-2-8-5-4-7-3-6-6-4-9 0-18-1-2-8-6-7-3-7-11-1-3 0-21-1-2-6-6-9-4-4-5-3-9 0-22-1-3-6-7-2 0-6-3-4-4-4-12 0-20-1-3-5-7-2 0-8-4-4-5-3-10 0-5-1-1 0-14-4-9-9-3-5-5-4-13-1-14-3-6 0-3-10-3-5-5-3-12-5-9 0-2-3 0-7-3-6-6-6-11-6 0-1-1-7-1-5-3-1-2-23 1-3 1-7 7-6 3-9 2 0 2-6 11-1 4-5 5-10 3 0 4-2 3-4 17-2 4-3 3-6 3-5 1-1 5-2 3-1 12-1 1 0 4-3 10-2 3-4 3-2 0-3 2-3 0-4 9-1 20-1 1-2 10-5 6-6 3-3 0-5 9 0 18-1 1 0 5-2 7-4 7-3 2-7 2-6 7-1 3 0 31-5 15-6 4-5 0-7 8 0 36 3 4 4 2 6-7 0-16 1-1 0-5 2-6 5-9 4-3 4 0 6-9 0-16 1-1 1-8 3-8 4-4 5-3 2 0 5-9 0-12 1-1 0-6 1-1 2-10 5-7 5-3 4-1 4-11 0-7 1-1 2-13 4-7 9-5 2 0 1-4 4-6 4-16 5-5 6-3 3 0 0-2 4-5 5-10 3-3 8-4 3 0 8-9 13-5 16 0 1-1 11 1 12 6 3 4 4 0 6 3 5 5 3 7 6 9 5 1 7 5 3 6 2 10 3 4 2 6 6 2 6 5 4 11 1 10 6 12 9 5 4 7 0 3 3 9 0 9 3 7 3 4 6 3 5 5 4 10 0 4 1 1 0 16 1 3 6 7 3 1 6 5 3 6 2 7 0 17 1 3 5 5 7 4 3 3 5 11 0 21 1 3 4 4 7 4 5 5 5 11 0 19 1 2 14 9 6 11 1 7 3 3 6 3 2 0 6-3 3-3 0-5 6-13 4-4 8-4 4-5 0-17 3-7 8-9 7-4 3-4 0-19 1-1 0-3 5-9 14-11 1-2 1-17 3-9 5-6 6-3 6-8 1-3 0-15 3-10 2-4 3-3 8-4 5-10 0-8 1-1 0-4 2-4 1-6 4-5 7-4 2 0 0-2 5-8 4-19 3-5 10-5 6-11 1-8 3-7 5-4 7-2 5-8 4-10 5-5 7-3 3 0 2-4 7-7 8-4 7-1 8-5 10-2z"/>
<path fill="#d0c068" d="M692 491l-8 5-1 11-3 6 2 4 10 2 7-4 1-2 0-18zM713 446l-5 4 0 3-1 1 0 14 1 1 0 3 3 3 5 1 3-2 2-3 0-15 1-1 0-5-5-4zM746 386l-10 0-5 6 0 34 2 3 4 2 5-6 0-16 1-1 0-5 2-4 0-3 2-3 0-5zM0 117l0 45 6 2 9 7 8 2 6 3 3 3 0 2 3 0 9 11 6 3 2 3 3 1 4 4 3 7 0 4 4 7 6 5 3 1 5 5 2 4 1 8 1 1 0 5 2 5 7 8 4 1 5 5 3 8 0 4 2 6 0 14 5 7 7 4 5 5 2 6 0 3 2 5 0 21 4 6 8 5 5 5 4 13 0 18 6 7 10 7 5 11 0 3 1 1 0 21 3 4 7 4 6 6 5 12 0 19 3 4 8 4 6 6 3 6 2 11 2 2 10 4 4 4 10 4 4 0 7 3 18 3 6 5 6 3 10 2 8 7 14 4 10 7 12 3 8 4 3 0 5 2 5 0 1 1 30-5 6-3 6-6 11-3 6-3 0-1 7-6 6-1 9-4 5-6 19-5 7-4 67 0 7 4 17 4 4 3 3 4 15 5 4 3 5 6 7 3 6 1 3 2 3 4 13 5 9 0 1 1 16 0 3-1 7-5 5-9 14-8 1-23 4-7 0-3-5-3-7 0-1-1-12 5-8 9-3 1-24 1-7-5-16-4-5-5-3-5-14-5-8-9-6-3-6-1-8-7-10-4-6-1-6-6-13-5-26 0-7 2-4 2-7 7-12 3-4 2-6 6-14 5-9 10-11 3-3 2-2 4-8 7-13 3-10 6-21 0-9-4-16-3-9-9-7-3-6-1-3-2-8-10-12-4-6-6-4-2-12-3-4-3-4-5-6-3-9-2-6-6-6-3-10-2-3-2-6-7-2-4-1-7-6-5-2 0-7-4-4-4-4-11 0-20-4-5-12-6-5-8-2-6 0-23-1-3-6-5-9-4-4-4-4-12 0-25-5-6-5-3-4-1-4-3-5-14 0-22-1-3-4-5-2 0-3-3-5-1-4-4-4-12-1-20-4-6-3 0-4-3-4-1-4-4-3-8-1-14-2-7-2-2-6-1-3-3-2 0-5-5-2-6 0-4-4-7-7-1-3-2-2-3-2 0-7-6-8-1zM1383 113l-1 1-4 0-6 2-10 1-5 4-3 0-3 4-7 3-3 0-2 2-4 10-4 4-7 5-6 1-3 9 0 6-2 6-5 5-2 0-4 4-7 2-1 8-1 1-1 15-3 8-4 4-12 5-3 5 0 15-1 1 0 5-3 10-6 6-3 0-2 2-4 1-4 6-1 21-4 12-3 3-11 5-4 4-1 3 0 20-4 11-4 4-6 2-5 3-4 4-1 3 0 17-4 11-3 3-7 4-4 1-4 3-1 2 0 14-5 13-7 6-2 0-6 3-3 3-1 7-3 5 0 2-6 7-4 2-3-1-6-6-4-8-1-7-3-3-10-4-6-6-4-11 0-17-1-2-4-3-11-5-4-4-4-11 0-21-3-4-12-6-4-4-2-4-2-7 0-23-4-6-11-5-5-6-3-10 0-5-1-1 0-18-4-5-2 0-4-3-4-1-5-5-3-9 0-5-1-1 0-17-4-7-3 0-4-3-4-1-5-6-2-12-1-1 0-9-1-1-1-8-9-4-1-2-2 0-4-3-3-5-1-9-3-7-5-1-4-2-3-4-2 0-9-12-11-2-11-4-1 1-20 0-8 4-8 6-7 1-6 15-3 3-2 0-3 4-5 2-3 0-3 8 0 7-3 9-5 5-2 0-4 4-6 2-2 6 0 9-1 1 0 5-1 1-1 8-6 7-3 0-3 3-4 1-3 4-1 3 0 17-1 1 0 5-2 7-5 7-11 5-4 6 0 21-1 1 0 4-2 7-4 6-10 5-2 0-4 5-1 3 0 32-3 8 0 7 4 2 4 0 4-5 1-3 0-17 1-1 2-11 2-4 4-4 7-4 4-5 1-3 0-15 1-1 0-4 1-1 0-4 2-7 3-4 6-3 6-5 2-5 1-14 1-1 2-12 5-6 4-1 1-2 5-3 3-4 2-6 0-5 3-9 5-5 2 0 4-5 3-1 3-3 5-11 4-4 2 0 5-6 7-3 6-5 2 0 5-6 7-3 14 0 1-1 8 0 7 3 5 5 15 6 5 6 2 0 2 2 4 7 1 4 3 4 3 1 5 6 4 1 4 5 2 6 1 9 3 5 3 2 3 4 4 1 4 4 3 8 3 19 7 8 2 0 3 2 5 7 0 3 3 9 1 14 2 4 10 7 5 5 3 10 0 4 1 1 0 17 2 4 10 7 6 7 3 10 0 18 3 5 13 9 3 6 2 7 0 21 4 5 5 2 5 4 5 7 3 9 0 18 1 2 10 5 5 5 4 8 1 7 2 4 7 3 5-1 5-4 1-8 5-11 6-5 6-2 4-4 0-17 1-1 0-3 4-8 5-5 9-5 2-3 0-19 2-7 4-7 10-7 5-5 1-17 3-10 6-7 3-1 5-4 3-4 1-19 1-1 2-10 3-5 7-4 6-6 5-27 5-7 3-2 2 0 1-2 5-4 3-7 0-5 1-1 0-5 2-7 7-8 2 0 1-2 5-3 4-8 1-10 2-4 4-5 4-1 3-4 5-3 2-3 1-6 2-4 4-5 3 0 0-2 3-3 6-2 11-9 5-6 14-4 5-3 9-3z"/>
<path fill="#c7ad67" d="M692 492l-6 3-2 12-2 4 0 3 2 2 7 2 7-3 1-2 0-17-2-2zM716 447l-4 1-3 3 0 21 4 3 4-1 3-3 0-16 1-1 0-3zM737 387l-5 6 0 31 4 5 1 0 4-5 0-18 3-10 0-6-2-2-4 0zM835 192l-5 0-1-1-3 1 0 28-3 8-4 3-15 1-1 3 0 24-1 1 0 6-5 9-5 4-10 0-2 3 0 22-1 1 0 5-3 10-7 7-8 1-2 1-3 4 0 32-1 1 0 4-2 6 1 2 3 2 2 0 3-4 0-16 1-1 0-6 1-1 0-4 2-6 10-11 6-2 1-3 0-16 1-1 0-7 1-1 1-8 9-13 9-2 0-13 1-1 1-16 4-6 1-4 3-3 5-3 7-1 0-17 1-1 1-9 8-9zM972 175l-2 1 0 15 3 2 5 6 4 14 0 12 1 2 9 3 6 8 3 6 0 4 1 1 1 17 2 4 7 2 4 4 5 8 1 7 1 1 0 5 1 1 0 11 1 1 0 3 3 3 4 1 8 7 3 6 0 4 2 5 0 6 1 1 0 15 3 4 2 0 6 4 6 7 2 10 1 1 0 5 1 1 0 15 3 3 9 5 5 6 3 10 0 22 3 4 6 2 5 4 5 7 2 6 0 4 1 1 0 17 1 2 3 2 5 1 7 6 5 12 0 5 1 2 6 3 7-1 4-5 0-5 4-11 7-7 3 0 7-5 0-17 4-12 7-7 6-2 4-4 0-19 1-1 2-10 6-7 11-7 1-2 0-13 5-17 9-8 2 0 5-5 0-16 1-1 0-5 1-1 1-7 2-4 5-4 2-3 6-2 3-5 0-10 1-1 0-6 1-1 0-4 2-6 8-9 8-3 1-2 0-6 1-1 1-14 6-12 3-3 10-4 0-15 1-1 1-10 2-4 4-4 0-14-5-2-2 0-1 2 0 28-2 5-2 2-5 2-13 0-1 3-1 25-3 9-8 7-9 1-3 5 0 19-1 1 0 4-2 7-2 3-6 5-7 1-5 4 0 18-1 1 0 5-3 10-8 7-7 1-4 3-1 2 0 15-1 1 0 5-3 9-8 7-6 1-6 5 0 15-4 12-6 6-8 2-5 4-1 7-4 10-5 5-5 2-1-1-3 0-6-6-4-9-1-7-6-4-7-2-5-4-5-13 0-18-4-4-8-2-8-6-4-12 0-21-4-5-8-2-3-2-6-7 0-3-2-4 0-5-1-1 0-21-3-4-7-1-5-3-5-6-2-7 0-4-1-1 0-21-1-3-4-3-5 0-5-2-6-7-2-7 0-7-1-1 0-19-1-3-13-1-5-3-4-9-1-28zM56 169l0 16 7 10 0 3 2 3 0 4 1 1 0 9 1 2 5 1 7 5 6 12 2 18 2 3 8 3 8 10 2 7 0 5 1 1 1 20 2 3 6 2 8 8 2 5 0 3 2 5 0 21 1 1 0 3 3 4 4 1 8 7 5 14 0 19 1 3 5 4 2 0 9 8 4 10 0 4 1 1 0 21 2 3 7 3 8 8 4 12 0 20 3 3 4 1 5 3 4 4 5 12 0 5 3 4 8 2 7 6 7 3 8 1 12 4 11 1 8 7 2 0 3 2 9 1 4 3 3 4 7 3 7 1 12 8 7 2 4 0 4 3 9 3 5 0 1 1 14-1 1-1 10-1 12-4 5-6 4-2 4 0 8-3 3-4 5-4 14-4 3-4 5-4 14-3 7-3 2-2 3 0 1-1 66 0 9 5 16 3 6 7 3 2 14 4 7 8 6 3 7 1 8 7 10 4 8 0 1 1 19 0 3-1 5-4 2-6 7-7 5-1 5-3 1-3 0-20 3-6 0-3-4-3-5 0-2-1-7 2-13 12-16 1-1 1-10 0-9-6-14-3-6-5-2-5-6-3-6-1-4-2-5-5-2-4-7-3-6-1-9-8-13-3-9-8-9-3-28 0-1 1-3 0-6 3-5 6-12 3-6 3-4 5-15 5-3 5-5 5-9 2-4 2-3 3-1 3-5 5-4 2-5 0-9 3-6 5-28 0-4-3-19-4-7-8-6-3-9-2-6-6-1-3-3-3-13-4-6-6-4-2-12-3-7-8-7-3-7-1-8-7-6-3-9-1-8-7-3-7-1-7-3-3-11-4-5-5-4-11 0-21-3-4-4-2-3 0-5-3-4-4-2-4-2-7 0-20-1-1 0-5-4-4-6-1-5-3-4-4-2-4 0-3-2-5 0-24-1-1 0-3-5-4-4 0-4-2-7-8-2-12-1-1 0-22-4-5-5 0-5-2-6-7-2-5 0-5-1-1-1-22-1-2-13-1-5-3-3-5 0-3-1-1-1-24-6 0z"/>
<path fill="#bc965e" d="M693 493l-4 1-3 3 0 5-3 10 3 4 3 0 1 1 5-1 3-3 0-17zM714 448l-4 3 0 20 5 3 4-3 0-20zM739 389l-3 0-2 3 0 33 3 3 2-3 0-15 1-1 0-7 2-7 0-3zM763 331l-4 0-1 2 0 33-1 1 0 10 1 1 2-1 0-19 1-1 1-14 4-8 0-2zM1008 265l0 1 9 3 3 3 5 12 0 6 1 1 0 18 1 1 0 3 10 3 4 4 4 8 1 10 1 1 0 20 2 4 9 3 3 3 4 7 2 12 1 1 0 18 4 4 3 0 4 2 6 8 3 10 0 22 1 3 11 5 5 5 2 4 2 7 0 4 1 1 0 17 1 2 11 4 4 4 3 6 3 14 7 3 5-2 3-3 0-6 4-12 6-6 5-1 6-4 0-16 4-14 7-7 5-1 5-4 0-20 1-1 2-10 7-9 4-2 3 0 4-5 0-15 1-1 0-4 2-7 4-7 3-3 5-2 3 0 2-3 0-13 1-1 0-8 1-1 1-9 7-11 11-4 1-27 3-6 1-5 4-4 6-3-3 0-1-1-11 0-1 1 0 26-1 1-1 8-6 7-13 1-3 4 0 22-1 1-1 8-2 4-5 5-12 2-3 4 0 17-1 1 0 4-2 7-6 7-5 2-5 0-5 4 0 15-5 15-3 3-4 2-5 0-6 4-3 14-2 4-5 5-2 1-8 0-8-7-3-9-1-7-4-3-10-2-5-5-4-13 0-17-1-2-4-3-4 0-6-2-3-2-3-4-3-10 0-6-1-1 0-17-5-4-9-1-5-5-4-12 0-25-2-4-2-1-9 0-3-1-4-4-3-7 0-6-1-1 0-26-1-2-15 0-1 1zM89 225l0 27 8 2 7 5 5 12 0 7 1 1 0 21 2 3 3 0 7 3 6 9 1 8 1 1 0 5 1 1 0 22 3 4 6 1 8 9 2 10 1 1 0 6 1 1 0 16 3 3 8 3 1 2 3 2 4 8 1 8 1 1 0 22 3 3 8 3 6 7 4 14 0 19 6 4 5 1 6 6 4 13 0 5 2 2 4 2 8 2 3 4 9 4 5 0 12 4 14 2 6 6 4 2 12 2 7 7 7 3 8 1 8 7 14 3 7 4 7 2 12 0 1-1 5 0 1-1 15-2 4-2 4-5 4-3 8-1 7-3 7-8 8-1 7-3 7-8 13-2 7-3 4-3 15 0 1-1 45 0 1 1 11 0 6 4 18 4 7 8 4 2 11 2 6 6 1 3 7 3 8 1 8 8 10 3 15 0 1 1 10-1 5-3 3-8 6-6 8-2 3-2 1-2 0-21 3-7-3-4-3 0-1-1-8 1-4 2-2 4-6 6-3 1-27 2-11-7-14-3-6-6-3-5-14-4-5-5-1-3-3-3-13-3-6-7-8-3-7-1-2-1-5-6-12-4-22 0-1 1-7 1-2 1-6 7-4 2-4 0-7 2-10 9-7 1-7 3-1 3-5 6-14 4-3 3-1 4-5 5-17 4-8 6-27 0-11-5-14-2-6-6-1-3-7-3-8-1-6-6-3-6-7-3-7-1-5-6-3-2-14-3-8-9-4-2-11-2-6-7-4-2-9-1-5-2-6-7-3-13-6-4-7-1-5-4-2-3-1-6-2-4 0-22-4-4-9-2-6-5-3-7-1-8-1-1 0-22-2-3-13-3-4-4-3-6 0-4-2-6 0-25-3-4-6 0-7-2-4-5-2-4-1-11-1-1 0-25-1-1-19-1-3-3z"/>
<path fill="#b88050" d="M693 494l-5 2-1 2 0 7-2 6 1 3 5 2 5-2 1-2 0-15zM714 449l-3 5 0 14 1 3 3 2 2-2 0-15 1-3-1-2zM737 391l-1 1 0 33 1 0 0-21 1-1 0-11zM1046 315l2 4 0 5 1 1 0 34 1 2 4 0 7 3 4 4 0 2 3 6 1 11 1 1 0 19 2 2 8 2 4 4 3 5 2 12 1 1 0 22 4 3 3 0 5 2 4 4 2 4 2 7 0 4 1 1 0 19 4 3 8 2 5 5 4 13 0 5 3 3 3 1 5-1 3-4 0-6 1-1 2-10 2-3 5-4 3 0 7-3 1-2 0-17 4-14 5-5 7-2 4-3 1-3 0-20 1-1 0-4 5-11 4-3 8-2 2-3 0-17 1-1 1-10 3-5 0-2 6-5 9-2 0-28 1-1 1-14 2-2-2-1-2 1 0 34-1 1 0 4-2 2-5 2-14 0-2 3 0 18-1 1-1 10-5 8-6 2-7 0-4 3 0 3-1 1 0 15-4 12-5 4-9 1-5 3-1 9-3 10-5 5-12 1-1-1-3 0-5-5-5-19-4-2-10-1-4-4-3-7-1-10-1-1 0-15-3-3-12-1-5-4-4-12 0-23-1-1 0-3-1-1-13 0-7-3-2-6-1-38zM128 304l2 3 2 6 0 4 1 1 0 34 3 2 3 0 7 3 5 9 1 8 1 1 0 9 1 1 0 15 2 2 3 0 7 3 5 7 2 7 0 4 1 1 0 23 4 5 8 2 4 4 2 4 2 7 0 4 1 1 0 20 5 4 3 0 5 2 4 5 2 5 3 15 7 3 6 1 4 5 4 2 7 2 5 0 11 4 12 1 9 8 15 3 6 7 4 2 12 2 6 6 4 2 9 1 13 6 15 0 1-1 11-1 1-1 7-1 2-1 7-8 9-1 7-3 2-4 4-4 8-1 8-3 6-8 7-1 1-1 5 0 6-2 5-4 3 0 1-1 72 0 11 6 14 2 4 3 4 6 9 3 4 0 4 2 5 8 8 3 5 0 4 2 6 7 6 2 13 0 1 1 12 0 6-3 2-7 5-7 5-2 4 0 2-1 3-4 0-21 2-5 0-2-2-2-8-1-5 2-2 2-2 5-5 4-15 1-1 1-12 0-1 1-1-1-4 0-8-6-7-2-5 0-5-2-4-4-2-6-7-3-8-1-5-5-3-6-5-2-8-1-2-1-6-7-9-3-5 0-2-1-6-7-8-3-26 0-1 1-3 0-2 1-7 8-16 4-7 8-8 1-7 3-2 5-5 5-11 2-4 2-3 7-5 5-13 2-6 3 0 1-4 3-3 0-1 1-25 0-1-1-4 0-6-4-15-2-7-6-2-4-4-2-9-1-4-2-2-2-3-7-3-3-13-3-5-6-3-2-7-2-5 0-4-2-6-8-4-2-5 0-6-2-5-6-3-2-16-3-5-6-3-14-5-4-9-1-5-4-3-7-1-9-1-1 0-20-4-3-8 0-3-1-4-4-3-6-1-11-1-1 0-22-3-3-11 0-1-1-3 0-3-3-3-10 0-35-5 0z"/>
<path fill="#aa6d4c" d="M693 495l-4 2-1 12-1 1 0 2 4 3 4-2 0-5 1-1-1-10zM713 452l0 18 2 1 0-20zM168 402l4 5 3 10 0 6 1 1 0 24 2 3 10 2 5 6 2 7 0 4 1 1 0 20 1 1 0 3 6 3 4 0 6 5 3 9 1 11 3 3 11 2 2 1 5 6 5 2 6 0 11 4 16 2 4 5 4 3 14 2 4 3 3 5 5 2 5 0 7 2 5 6 5 2 10 1 8 5 10 1 1-1 6 0 1-1 16-2 2-1 7-8 12-2 4-2 2-4 4-4 15-3 7-9 5-2 10-1 5-2 3-3 9-1 1-1 67 0 1 1 4 0 11 6 5 0 1 1 8 1 4 4 3 5 5 2 6 0 5 2 3 3 3 6 5 2 9 1 5 4 2 4 5 2 7 0 1 1 20 0 4-3 2-8 5-6 7-1 6-3 0-18 1-1 1-11-3-2-6 0-4 3-2 5-4 4-3 1-19 1-1 1-14 0-5-2-2-3-3-2-16-3-4-4-1-4-3-4-7-2-5 0-4-2-6-10-6-2-9-1-6-8-6-2-9-1-4-3-3-5-5-2-28 0-5 2-2 4-4 4-13 2-2 1-7 8-14 3-7 11-6 2-5 0-5 2-2 2 0 2-4 7-4 2-5 0-1 1-7 1-7 6-3 1-33 0-1-1-3 0-6-4-15-2-4-3-2-3 0-2-2-2-5-2-5 0-6-2-3-3-1-4-3-5-6-2-9-1-4-4-2-4-17-4-6-9-15-3-2-1-3-5-4-3-11-1-6-2-4-6-3-15-3-2-11-1-2-1-5-6-1-8-1-1 0-22-1-1 0-3-1-1zM1071 363l-1 2 1 1 0 8 1 1 0 32 3 0 8 3 5 6 2 6 0 4 1 1 0 7 1 1 0 20 2 2 4 0 6 2 4 4 4 14 0 21 1 2 4 2 8 1 4 4 4 13 1 8 3 2 4 0 3-2 1-10 4-12 4-4 7-1 5-3 1-3 0-18 1-1 1-8 2-4 4-4 5-2 4 0 3-3 0-22 1-1 1-9 3-7 3-3 12-3 0-33 1-1 0-5 2-3-3-1 0 32-1 1 0 4-5 4-16 0-3 3 0 17-1 1 0 5-2 7-6 5-12 1-3 3-1 11-3 9-3 3-3 1-10 1-1-1-8-1-3-3-3-9-1-9-2-3-13-2-5-3-2-4-1-8-1-1 0-20-3-4-14 0-7-3 0-3-1-1 0-36zM152 355l3 10 1 35 3 0 1-1-2-2-1-10-1-1 0-32z"/>
<path fill="#a45a45" d="M692 496l-1 1 0 9-1 1 0 5 2 2 1-1 0-16zM1091 409l2 5 0 6 1 1 0 34 11 2 5 4 2 5 1 10 1 1 0 21 1 2 2 1 9 1 5 4 3 10 1 11 4 3 2-1 2-3 0-7 1-1 1-9 2-4 4-4 10-1 3-4 0-20 1-1 0-5 2-7 5-5 8-1 4-2 0-35 1-1 0-4 3-4-1-1-3 0-1 1 0 30-1 3-4 3-17 1-2 2-1 12-1 1-1 7-4 4-3 1-20 0-5-2-3-5-2-17-2-2-17-1-4-3-1-2 0-11-1-1 0-22zM177 404l0 6 1 1 0 38 11 2 6 5 2 7 0 6 1 1 0 22 2 4 11 2 4 4 2 6 0 4 1 1 1 11 1 1 12 2 4 2 4 6 3 1 11 1 10 4 13 1 10 9 14 2 4 4 1 3 3 2 14 2 6 7 7 2 6 0 12 6 8 0 1-1 5 0 1-1 6 0 1-1 8-1 3-5 4-4 11-1 5-2 2-5 4-4 11-1 5-2 2-2 1-4 3-3 8-1 1-1 5 0 5-2 3-3 6-2 18 0 1-1 46 0 1 1 14 0 5 2 5 4 11 1 6 2 6 9 16 3 6 10 7 2 6 0 4 2 5 7 5 2 17 0 1 1 5 0 4-3 3-11 4-4 10-1 2-1 2-3 0-22 1-1 0-4-4-3-5 3-2 6-4 4-15 1-1 1-12 0-1 1-14-1-3-1-2-3-4-3-11-1-5-2-3-3-1-5-2-3-4-2-11-1-4-4-1-4-3-4-8-1-1-1-5 0-4-3-1-3-3-3-7-2-6 0-4-2-5-7-5-2-22 0-3 1-4 3-1 3-3 3-7 2-6 0-4 2-2 4-4 4-10 1-5 2-3 5 0 2-4 4-15 3-2 2-2 7-4 4-14 2-4 2 0 1-5 4-4 0-1 1-32 0-1-1-4 0-9-5-12-1-5-3-4-8-7-2-6 0-4-2-5-11-4-2-11-1-4-3-1-3-3-3-7-2-6 0-4-2-4-8-4-2-11-1-5-4-2-4-4-2-8 0-1-1-5 0-2-1-4-5-1-8-1-1 0-6-2-3-18-1-4-4 0-10-1-1 0-28z"/>
<path fill="#a84940" d="M1168 449l-7 0-1 22-4 4-3 0-1 1-27 0-5-2-2-3 0-4-1-1 0-16-8 0-2 1 0 3 5 3 3 5 0 5 1 1 0 31 1 1 12 1 4 3 3 9 1 14 2 2 2-3 0-8 1-1 0-6 2-7 5-4 12-2 0-3 1-1 0-28 2-6 6-5 0-5zM194 449l4 3 2 5 0 37 1 1 10 1 6 4 2 6 0 5 1 1 0 8 2 5 14 2 2 1 2 4 5 4 9 0 1 1 4 0 5 3 17 2 6 8 16 2 4 4 3 5 2 1 13 1 7 8 2 1 13 1 7 5 8 0 7-2 12-1 2-1 2-5 5-4 5 0 1-1 7 0 3-3 1-4 3-3 6-2 8 0 5-4 0-2 3-4 4-2 10 0 5-2 6-5 6 0 1-1 79 0 1 1 4 0 8 6 7 0 1 1 6 0 5 4 0 2 3 5 12 1 5 2 2 2 3 8 15 2 4 3 2 5 3 2 24 1 2-2 2-10 5-6 12-1 2-2 0-29-1-1-2 1-2 9-5 3-20 1-1 1-12 0-1 1-12-1-5-2-2-3-4-3-7 0-1-1-5 0-5-4-3-9-16-3-3-3-3-8-7-2-10-1-3-3 0-2-3-4-2-1-13-1-4-3-1-4-4-3-24 0-3 2-2 5-3 3-15 2-2 1-2 5-4 4-13 1-2 1-5 11-5 2-10 0-2 1-2 3-2 7-3 3-7 2-10 1-1 2-6 5-7 0-1 1-29 0-1-1-7 0-11-6-9 0-6-2-2-2 0-2-3-6-3-1-8 0-6-2-3-4-2-8-6-2-8 0-4-2-5-8-3-1-9 0-5-2-6-10-13-1-5-3-2-5-2-2-19-1-2-1-3-4 0-18-1-1z"/>
<path fill="#b14340" d="M219 479l0 14 4 6 0 25 13 0 1 1 4 0 4 5 0 4 17 1 3 1 2 3 18 1 4 4 1 5 17 1 4 3 1 2 0 5 2 1 15 0 4 3 1 6 3 1 14 0 5 4 0 2 3 0 3-2 6 0 1-1 10 0 1-1 0-5 2-3 5-2 14 0 1-1 0-6 3-4 3-1 15 0 1-1 1-7 4-4 18-1 0-3 2-2 6-2 24 0 1-1 71 1 3 1 3 3 1 3 14 0 1 1 3 0 4 5 0 6 10 0 1 1 6 0 5 4 0 8 17 1 5 4 1 7 21 0 1 1 0-13 1-3 3-3 3-1 0-14-7-1-1 1-6 0-1 1-24 0-1-1-6 0-2-1-3-4 0-3-15 0-5-2-2-3 0-9-1-1-15 0-3-1-3-3-1-10-18-1-4-5 0-5-17-1-5-4 0-6-1-1-22 0-1 7-2 3-7 2-12 0-1 1 0 5-1 2-5 3-15 0-1 1 0 8-3 4-2 1-8 0-1 1-8 0-1 11-3 3-3 1-15 0-2 6-3 2-4 0-1 1-48 0-7-2-2-4-17-1-5-4 0-7-1-1-16-1-5-4-1-11-18-1-4-5 0-5-17-1-5-4 0-6-1-2-15 0-1-1-3 0-3-3 0-7-3 1 0 3z"/>
</g></g>
<line x1="1223.0" y1="128.5" x2="1223.0" y2="501.7" stroke="#c4c4c4" stroke-width="1.1" stroke-dasharray="7 4" opacity="0.85"/>
<line x1="1290.5" y1="128.5" x2="1290.5" y2="501.7" stroke="#c4c4c4" stroke-width="1.1" stroke-dasharray="7 4" opacity="0.85"/>
<line x1="1357.6" y1="128.5" x2="1357.6" y2="501.7" stroke="#c4c4c4" stroke-width="1.1" stroke-dasharray="7 4" opacity="0.85"/>
<line x1="1424.7" y1="128.5" x2="1424.7" y2="501.7" stroke="#c4c4c4" stroke-width="1.1" stroke-dasharray="7 4" opacity="0.85"/>
<line x1="1559.3" y1="128.5" x2="1559.3" y2="501.7" stroke="#c4c4c4" stroke-width="1.1" stroke-dasharray="7 4" opacity="0.85"/>
<line x1="1676.3" y1="128.5" x2="1676.3" y2="501.7" stroke="#c4c4c4" stroke-width="1.1" stroke-dasharray="7 4" opacity="0.85"/>
<rect x="1814.8" y="126.5" width="20.2" height="375.2" fill="url(#cbg)" stroke="#5a5048" stroke-width="0.8"/>
<path d="M1835.0 182.0h-3.5M1835.0 305.0h-3.5M1835.0 425.9h-3.5" stroke="#4a3a30" stroke-width="1" fill="none" opacity="0.8"/>
<text x="1045.9" y="168.0" font-size="38.6" textLength="50.2" lengthAdjust="spacingAndGlyphs">2.8</text>
<text x="1045.5" y="217.6" font-size="38.6" textLength="50.2" lengthAdjust="spacingAndGlyphs">2.4</text>
<text x="1075.3" y="267.3" font-size="38.6" textLength="21.3" lengthAdjust="spacingAndGlyphs">2</text>
<text x="1047.4" y="316.9" font-size="38.6" textLength="48.6" lengthAdjust="spacingAndGlyphs">1.6</text>
<text x="1049.8" y="366.6" font-size="38.6" textLength="46.5" lengthAdjust="spacingAndGlyphs">1.2</text>
<text x="1045.9" y="416.2" font-size="38.6" textLength="50.2" lengthAdjust="spacingAndGlyphs">0.8</text>
<text x="1045.9" y="465.9" font-size="38.6" textLength="49.8" lengthAdjust="spacingAndGlyphs">0.4</text>
<text x="1075.1" y="515.5" font-size="38.6" textLength="20.9" lengthAdjust="spacingAndGlyphs">0</text>
<text x="1102.6" y="547.0" font-size="39.0" textLength="25.4" lengthAdjust="spacingAndGlyphs">Γ</text>
<text x="1207.9" y="547.0" font-size="39.0" textLength="36.8" lengthAdjust="spacingAndGlyphs">M</text>
<text x="1281.7" y="547.0" font-size="39.0" textLength="23.8" lengthAdjust="spacingAndGlyphs">K</text>
<text x="1341.4" y="547.0" font-size="39.0" textLength="36.8" lengthAdjust="spacingAndGlyphs">M</text>
<text x="1414.3" y="547.0" font-size="39.0" textLength="22.5" lengthAdjust="spacingAndGlyphs">K</text>
<text x="1550.0" y="547.0" font-size="39.0" textLength="24.9" lengthAdjust="spacingAndGlyphs">Γ</text>
<text x="1660.1" y="547.0" font-size="39.0" textLength="36.8" lengthAdjust="spacingAndGlyphs">M</text>
<text x="1782.5" y="547.0" font-size="39.0" textLength="24.9" lengthAdjust="spacingAndGlyphs">Γ</text>
<text x="1842.5" y="197.4" font-size="33.0" textLength="20.8" lengthAdjust="spacingAndGlyphs">e</text>
<text x="1861.8" y="186.9" font-size="21.4" textLength="14.2" lengthAdjust="spacingAndGlyphs">2</text>
<text x="1842.5" y="321.1" font-size="33.0" textLength="20.8" lengthAdjust="spacingAndGlyphs">e</text>
<text x="1862.1" y="310.6" font-size="21.4" textLength="13.4" lengthAdjust="spacingAndGlyphs">0</text>
<text x="1842.5" y="439.6" font-size="33.0" textLength="20.8" lengthAdjust="spacingAndGlyphs">e</text>
<text x="1862.0" y="429.1" font-size="21.4" textLength="22.3" lengthAdjust="spacingAndGlyphs">-2</text>
<text x="1271.8" y="99.1" font-size="43.4" textLength="25.5" lengthAdjust="spacingAndGlyphs">Δ</text>
<text x="1304.0" y="99.1" font-size="43.4" textLength="10.8" lengthAdjust="spacingAndGlyphs">/</text>
<text x="1316.9" y="99.1" font-size="43.4" font-style="italic" textLength="17.9" lengthAdjust="spacingAndGlyphs">J</text>
<text x="1335.9" y="106.8" font-size="26.0" textLength="7.2" lengthAdjust="spacingAndGlyphs">1</text>
<text x="1347.0" y="99.1" font-size="43.4" textLength="28.5" lengthAdjust="spacingAndGlyphs">=</text>
<text x="1377.2" y="99.1" font-size="43.4" textLength="70.8" lengthAdjust="spacingAndGlyphs">1.36</text>
<text x="1446.9" y="99.1" font-size="43.4" textLength="12.1" lengthAdjust="spacingAndGlyphs">,</text>
<text x="1468.7" y="99.1" font-size="43.4" font-style="italic" textLength="18.6" lengthAdjust="spacingAndGlyphs">T</text>
<text x="1488.8" y="99.1" font-size="43.4" textLength="27.9" lengthAdjust="spacingAndGlyphs">=</text>
<text x="1515.7" y="99.1" font-size="43.4" textLength="73.7" lengthAdjust="spacingAndGlyphs">0.25</text>
<text x="1600.6" y="99.1" font-size="43.4" textLength="23.0" lengthAdjust="spacingAndGlyphs">K</text>
<text x="994.2" y="93.6" font-size="32.0" textLength="45.2" lengthAdjust="spacingAndGlyphs">(b)</text>
<text transform="translate(1022.3,442.7) rotate(-90)" font-size="41.7" textLength="223.2" lengthAdjust="spacingAndGlyphs">Energy (meV)</text>
<clipPath id="cp3"><rect x="191.3" y="668.4" width="691.0" height="369.8"/></clipPath>
<rect x="191.3" y="668.4" width="691.0" height="369.8" fill="#0a0a0a"/>
<g clip-path="url(#cp3)"><g filter="url(#bl)" transform="translate(191.30,668.40) scale(0.5000)">
<path fill="#121219" d="M1381 0l-28 0-32 33-15 19-18 27-11 20-2 2-3 7-2 2-3 7-2 2-18 35 0 2-4 7 0 2-12 28-6 19-2 3-27 81 0 3-10 28 0 3-2 4-1 7-4 12 0 4-4 13-2 13-3 9-2 13-1 1-2 12-1 1-3 15-2 4-1 7-8 22 0 3-3 9-2 3-2 7-5 6-4-3-2-5-1-7-2-4-2-11-2-4 0-3-2-4 0-3-6-21 0-4-3-9 0-4-3-9 0-4-1-1-7-31-34-105-2-3-2-8-2-3-8-23-3-5 0-2-3-5 0-2-12-28-1-5-4-8-1-5-4-8-1-5-2-3-8-22-18-38-10-15-14-14-10-8-12-7-11-4-8-1-10-3-4 0-1-1-8 0-1-1-22 1-1 1-6 0-1 1-22 3-13 4-22 11-11 9-8 10-18 29-18 36-2 2-6 13-11 18-15 29 0 2-7 13 0 2-5 9 0 2-9 19-2 7-3 5 0 2-11 26-1 5-2 3-1 5-2 3-1 5-2 3-4 12-3 18-1 1 0 5-2 6-1 11-2 6-1 11-1 1 0 4-1 1 0 4-1 1 0 4-1 1-2 10-10 20-10 12-4 10-1 8-1 1 0 5-1 1-1 84-1 1 0 3-6 7-1-1 0-9-1-1-1-84-1-1 0-5-1-1-1-8-2-6-4-6-2 0-4 4-17 28-5 5-12 7-5 0-5-3-20-20-2-1-5 0-1-1-13 0-1-1-55 0-1 1-13 0-1 1-4 0-13 7-5 6-3 6-4 4-7 0-9-4-6-5-18-30-5-5-2 0-3 3-3 6-2 10-1 1 0 4-1 1-1 68-1 1 0 42-4 5-3-3 0-6-1-1 0-46-1-1 0-46-1-1 0-13-1-1 0-4-3-10-4-8-4-1-3 3-7 14-4 5-6 11-5 5-11 5-7 0-3-3-5-9-4-4-8-1-1-1-5 0-1-1-49-2-11 8-4 0-3-3-6-13-1-6-6-17 0-3-3-7 0-3-6-16 0-3-6-18-2-11-2-4-3-15-2-4-4-19-5-15-1-7-9-27 0-3-7-21-2-10-3-7 0-3-15-42-30-59-12-20-16-22-14-14-21-17-12-8-14-7-9-2 0 498 17 11 23 18 17 15 29 29 53 67 35 36 19 22 531 0 1-1 0-5 2-6 0-5 2-6 0-5 1-1 5-29 4-12 7-8 42-41 33-42 21-22 35-25 10-5 9-3 15 0 7 2 14 7 16 11 3 1 13 9 8 7 40 42 34 40 4 6 15 17 7 15 3 4 10 10 8 5 9 9 3 2 15 5 9 1 1 1 14 0 1-1 4 0 14-4 7-3 12-11 7-4 10-10 3-4 4-8 3-10 21-25 18-18 16-14 17-13 38-32 16-11 27-14 19-7z"/>
<path fill="#171729" d="M1381 2l-18 12-16 14-21 22-15 18-28 42-2 5-9 14-4 9-2 2-4 9-2 2-14 28 0 2-7 14 0 2-6 13-1 5-4 8-1 5-2 3-42 124 0 3-3 8 0 3-1 1 0 3-1 1 0 3-1 1 0 3-8 29 0 4-1 1-2 11-2 4-2 11-2 4 0 3-2 4 0 3-4 9-10 30-5 7-2 1-3-3-3-8-3-14-4-10-5-21-2-4 0-3-1-1-6-27-2-4-2-11-2-4 0-3-38-112-27-65-1-5-4-8-1-5-4-8-1-5-2-3 0-2-2-3-10-27-17-35-8-12-17-17-15-11-13-6-3 0-4-2-3 0-9-3-10-1-1-1-22 0-1 1-6 0-1 1-5 0-1 1-5 0-1 1-14 2-4 2-6 1-18 8-14 9-7 7-13 18-8 15-2 2-5 11-2 2-19 38-2 2-3 7-11 18-28 58 0 2-12 26 0 2-18 43-6 21 0 4-1 1-6 34-2 5 0 4-5 16-8 13-11 12-3 8-2 12-1 1 0 37-1 1-1 53-8 10-1-1 0-24-1-1-1-75-1-1 0-4-4-14-3-4-2 0-4 4-16 27-10 9-8 4-5 0-5-3-22-21-22-1-1-1-49 0-1 1-21 1-14 8-7 11-4 4-4 1-14-6-5-5-18-30-5-4-2 1-3 4-5 18-1 61-1 1 0 37-1 1 0 14-4 4-4-4-3-115-1-1-1-8-4-10-3-3-2 0-3 3-5 11-4 5-7 13-7 7-12 5-4 0-5-5-1-3-6-8-7-2-4 0-1-1-18-1-1-1-34 0-12 9-3 0-4-4-6-13-5-15 0-3-10-27 0-3-5-13 0-3-8-25-1-7-4-11-5-21-9-26 0-3-4-10 0-3-4-10 0-3-4-10 0-3-8-24-2-3-5-15-18-37-2-2-7-15-2-2-10-19-6-8-3-6-13-17-11-11-23-19-12-8-14-7-9-2 0 462 24 17 18 15 41 40 23 28 39 51 31 33 22 27 524 0 1-9 2-6 0-5 2-6 0-5 1-1 0-4 1-1 0-4 1-1 0-4 2-6 0-4 1-1 3-15 4-10 48-48 33-42 21-22 32-23 13-7 9-3 15 0 9 3 10 5 22 15 3 1 16 13 33 35 24 28 27 35 9 10 4 6 2 7 5 10 3 4 11 10 8 4 10 7 21 6 18 0 20-6 19-11 11-10 8-14 4-13 6-10 13-16 28-28 71-59 24-15 21-10 10-3z"/>
<path fill="#1f2243" d="M1381 20l-9 5-22 18-15 15-21 24-9 12-25 39-11 21-2 2-5 11-2 2-15 30 0 2-9 19-5 15-4 8-1 5-2 3-1 5-2 3-2 8-2 3-4 14-2 3-6 20-2 3-9 29-2 3-9 27 0 3-7 22-3 15-2 4-3 15-2 4-1 7-2 4 0 3-8 25-2 3-7 21-4 8-4 4-4-3-2-4-3-13-11-32 0-3-2-4-1-7-2-4 0-3-2-4 0-3-6-18 0-3-8-24-2-3-7-23-2-3-5-17-2-3-4-14-2-3-2-8-2-3-1-5-2-3-8-23-3-5-2-7-3-5 0-2-9-20-1-5-6-13-1-5-2-3-1-5-6-13-5-15-3-5-5-14-6-11 0-2-8-15-8-12-18-18-15-11-13-6-3 0-7-3-3 0-9-3-15-1-1-1-3 1-11 0-1 1-6 0-1 1-14 2-5 2-4 0-4 2-9 2-19 9-12 8-7 7-13 18-8 15-2 2-4 9-2 2-25 49-11 18-28 57 0 2-8 16 0 2-3 5 0 2-3 5 0 2-3 5 0 2-3 5-2 7-9 20-6 21 0 4-2 5-2 13-1 1 0 3-1 1-5 21-4 8-7 9-10 9-3 9-1 8-1 1-2 94-9 12-2-7-2-99-1-1-1-8-4-10-4 0-2 2-4 8-15 23-6 5-9 5-7 0-2-1-11-10-10-11-4-2-36-1-1-1-20 0-1 1-33 1-6 2-8 5-4 4-8 12-2 1-5 0-8-3-7-5-15-23-4-8-5-5-2 0-3 2-5 16-1 54-1 1 0 32-1 1 0 29-1 3-4 4-4-4 0-5-1-1-2-99-1-1 0-14-5-16-3-2-2 0-3 3-15 27-7 8-10 5-4 0-1 1-3-1-3-3-5-9-4-4-15-2-1-1-9 0-1-1-38 0-9 8-4 2-2 0-5-5-7-16-5-17-2-3-14-41 0-3-3-7 0-3-5-14 0-3-5-14 0-3-3-7 0-3-12-34 0-3-16-48-2-3-1-5-5-10 0-2-19-38-2-2-5-11-2-2-12-22-10-15-12-15-15-14-20-16-9-6-14-7-9-2 0 434 20 14 17 14 45 44 22 27 35 47 37 42 13 16 12 17 518 0 2-12 1-1 1-10 1-1 0-5 1-1 0-4 1-1 0-4 1-1 0-4 1-1 0-4 2-6 0-4 8-28 4-6 46-46 33-42 21-22 35-25 10-5 9-3 15 0 9 3 13 7 24 16 11 9 25 26 31 36 45 59 4 12 6 10 13 12 14 7 12 4 3 0 5 2 5 0 1 1 16-1 20-6 18-10 9-9 6-10 7-21 8-13 13-16 27-27 27-22 28-25 19-15 28-17 23-10z"/>
<path fill="#2b386e" d="M1381 35l-13 8-19 16-30 32-11 14-15 22-18 30-15 29-2 2-22 47 0 2-8 18-1 5-2 3-1 5-2 3-1 5-2 3-1 5-2 3-3 11-2 3-3 11-2 3-4 14-2 3-4 14-2 3-4 14-2 3-6 18 0 3-3 7-5 21-2 4-1 7-2 4 0 3-2 4 0 3-2 4 0 3-3 7 0 3-4 12-2 3-1 5-4 8-5 15-6 10-4 1-3-4-8-26-5-12 0-3-5-13 0-3-3-7-3-13-10-30-2-3-2-8-6-14-3-11-2-3-3-11-2-3-2-8-5-11-2-8-2-3-13-35-3-5 0-2-3-5 0-2-12-28-1-5-4-8-1-5-4-8-1-5-2-3-8-22-18-38-10-15-16-16-16-12-15-7-3 0-14-5-4 0-6-2-21 0-1 1-6 0-10 3-4 0-1 1-21 5-18 8-13 8-8 7-8 10-19 31-25 49-2 2-3 7-12 20-23 46 0 2-6 11 0 2-13 27-3 9-10 21-6 17-8 35-6 18-6 8-14 12-4 14 0 27-1 1 0 29-1 1-1 42-9 12-2-1-2-83-1-1 0-27-5-15-4 0-2 2-14 24-8 10-9 6-8 2-4-2-23-22-3-1-12 0-1-1-64 0-1 1-11 0-1 1-3 0-12 7-12 16-7 0-9-4-6-5-18-30-5-5-2 0-4 5-3 10-4 123-4 5-1 0-5-6-1-51-1-1 0-29-1-1 0-29-1-1 0-11-2-4-1-6-4-4-2 0-3 3-4 9-13 21-8 7-10 4-4 0-5-5-1-3-6-8-7-2-5 0-1-1-6 0-1-1-44-1-13 11-5-1-4-5-4-8-9-26-6-13-12-36 0-3-4-10 0-3-5-13 0-3-33-97-5-10 0-2-30-58-20-32-10-13-15-15-18-15-16-11-15-7-6-1 0 410 16 11 17 14 47 46 22 27 36 49 50 60 10 14 5 9 514 0 1-9 2-6 0-5 2-6 0-5 1-1 0-4 1-1 0-4 1-1 0-4 1-1 0-4 2-6 0-4 1-1 2-11 2-4 1-7 6-14 49-50 32-41 20-21 33-24 13-7 10-3 14 0 11 4 33 21 10 8 27 28 36 43 41 55 10 23 3 4 10 9 14 7 3 0 17 5 5 0 1 1 16-1 1-1 21-5 12-6 10-9 8-14 4-14 4-7 0-2 9-15 13-16 26-26 74-63 27-17 24-11z"/>
<path fill="#304379" d="M1381 48l-14 9-11 9-27 27-13 15-22 31-21 35-10 20-2 2-17 34 0 2-4 7 0 2-3 5 0 2-14 33-1 5-8 19-2 8-2 3-2 8-2 3-2 8-2 3-3 11-2 3-2 8-2 3-2 8-2 3-10 30 0 3-3 7 0 3-3 7-2 10-3 7 0 3-3 7 0 3-6 18-2 3-10 27-4 8-5 5-4-3-3-6-29-87-2-3-1-5-2-3-1-5-8-19-2-8-2-3-1-5-2-3-2-8-10-24-1-5-32-77-1-5-4-8-1-5-4-8-1-5-2-3-6-17-10-21 0-2-11-21-7-10-12-13-14-12-9-6-13-6-9-3-3 0-4-2-8-1-1-1-6 0-1-1-11 0-1 1-13 1-1 1-23 5-19 7-15 8-9 6-9 9-14 20-5 10-2 2-25 49-2 2-4 9-2 2-14 27-2 2-34 70 0 2-5 9 0 2-15 32-14 50-4 8-8 8-11 8-3 10-1 48-1 1 0 27-1 1 0 24-1 1 0 4-10 13-1-1 0-14-1-1 0-26-1-1 0-27-1-1-1-48-4-11-2-1-4 3-17 28-8 8-9 5-7 0-2-1-11-10-10-11-4-2-34-1-1-1-23 0-1 1-32 1-11 5-4 3-11 15-2 1-6 0-7-3-8-6-18-30-5-5-2 0-3 3-3 8-1 39-1 1 0 26-1 1 0 26-1 1 0 26-1 1 0 8-4 4-6-5-1-39-1-1 0-27-1-1 0-26-1-1 0-26-1-1 0-6-2-7-4-4-2 0-3 3-4 9-13 21-8 7-10 4-4 0-5-5-1-3-6-8-12-2-1-1-7 0-1-1-33 0-1-1-8 0-4 2-9 9-5 1-4-4-6-11-10-27-5-10-26-80-2-3-4-14-2-3-9-29-2-3-8-24-15-32-2-2-9-19-2-2-12-23-14-22-9-12-11-12-27-23-12-8-14-7-8-2 0 388 34 27 13 12 33 34 18 22 47 64 31 37 15 20 14 23 510 0 1-10 2-6 0-5 2-6 0-5 1-1 4-24 1-1 6-27 4-12 4-8 48-49 32-41 22-23 35-25 10-5 9-3 15 0 15 6 34 23 15 14 36 41 27 35 2 4 30 40 9 22 4 6 7 7 12 7 6 2 9 1 1 1 10 1 1 1 16 0 1-1 4 0 6-2 10-1 12-5 6-4 7-7 6-10 6-19 11-22 15-20 19-20 79-69 32-21 20-10 2 0z"/>
<path fill="#344b80" d="M1381 60l-14 9-11 9-27 27-13 15-14 19-16 25-13 24-2 2-3 7-2 2-5 11-2 2-22 46 0 2-5 10 0 2-6 13-1 5-6 13-1 5-8 19-2 8-5 11-2 8-5 11-2 8-8 19-27 85-8 17-2 7-4 7 0 2-4 6-3 2-2 0-4-6-5-16-3-5-1-5-8-19-3-11-2-3-4-14-2-3-6-18-11-26-1-5-2-3-4-13-9-21-1-5-2-3-10-27-6-12-2-7-3-5 0-2-8-18-1-5-4-8-1-5-4-8-1-5-2-3-10-27-19-40-8-12-26-25-9-6-12-6-28-8-22 0-1 1-5 0-1 1-19 4-4 2-3 0-11 4-20 10-13 9-10 11-12 18-13 25-2 2-18 36-2 2-20 38-2 2-22 44 0 2-9 17 0 2-19 39-18 54-5 6-13 8-3 3-2 6 0 16-1 1 0 24-1 1 0 24-1 1-1 42-11 16-1-1 0-6-1-1 0-25-1-1 0-24-1-1 0-24-1-1-1-41-2-6-2-2-2 0-4 4-16 27-7 7-11 6-5 0-4-2-23-22-24-1-1-1-43 0-1 1-24 1-13 7-5 5-3 6-6 6-5 0-11-5-7-7-18-30-3-2-4 1-2 3-1 9-1 1 0 25-1 1 0 24-1 1-2 72-1 1 0 3-4 4-6-5 0-5-1-1 0-23-1-1 0-25-1-1-2-73-3-9-3-2-2 0-3 3-15 27-7 8-5 3-9 3-3 0-4-4-5-9-3-3-7-2-5 0-1-1-6 0-1-1-43-1-5 3-3 4-8 6-3-1-4-4-5-9 0-2-6-12-2-7-9-19-22-66-2-3-2-8-2-3-2-8-2-3-3-11-2-3-3-11-2-3-2-8-2-3-1-5-2-3-4-12-11-23-2-2-10-21-2-2-12-23-22-33-21-22-14-12-17-12-14-7-8-2 0 369 13 9 20 17 28 27 22 24 33 43 24 34 40 50 15 21 9 17 2 2 0 2 506 0 2-6 0-5 2-6 0-5 2-6 0-5 1-1 4-24 1-1 5-23 4-11 0-3 6-14 14-16 29-28 13-15 27-35 18-19 36-26 12-6 10-3 11 0 10 3 8 4 32 22 16 15 34 39 23 30 20 29 19 25 5 10 2 8 4 8 10 11 11 6 6 2 19 2 1 1 16 0 1-1 19-2 14-6 11-10 5-9 5-16 3-5 3-9 9-17 16-21 28-28 23-19 30-28 18-15 27-18 24-12z"/>
<path fill="#364f85" d="M1381 71l-14 9-11 9-27 27-22 27-16 24-19 34-2 2-4 9-2 2-23 46 0 2-3 5 0 2-3 5 0 2-3 5 0 2-12 28-1 5-4 8-1 5-2 3-1 5-2 3-1 5-2 3-1 5-2 3-10 29-10 24-25 75-4 7 0 2-4 7 0 2-6 13-6 6-5-4-2-4-2-8-14-32-4-13-2-3-3-10-22-53-1-5-8-18-1-5-2-3 0-2-2-3-10-27-3-5-2-7-6-12-2-7-3-5-1-5-8-18-1-5-4-8-1-5-4-8-1-5-2-3-4-12-20-43-11-16-18-18-13-10-13-7-8-2-3-2-6-1-4-2-10-1-1-1-15 0-1 1-6 0-1 1-9 1-31 10-16 8-14 9-11 11-12 17-10 19-2 2-6 13-2 2-17 34-2 2-3 7-12 20-6 13-2 2-25 50 0 2-25 51-10 31-5 11-6 6-11 5-4 3-1 3 0 10-1 1 0 23-1 1 0 22-1 1 0 23-1 1-1 33-11 16-2-4-2-69-1-1 0-22-1-1 0-23-1-1 0-10-3-4-3 0-2 2-7 13-3 3-9 15-10 8-8 3-6-2-23-22-3 0-1-1-12 0-1-1-60 0-1 1-12 0-1 1-4 0-5 2-9 6-7 11-4 4-2 1-6-1-10-5-5-5-18-30-3-3-4 0-2 2-2 5 0 21-1 1 0 23-1 1 0 23-1 1-2 63-4 6-2 1-5-6-1-3-2-66-1-1 0-23-1-1 0-22-1-1 0-17-2-5-4-3-2 1-3 4-5 11-4 5-8 14-6 5-9 4-7 0-3-3-5-9-4-4-4 0-6-2-6 0-1-1-11 0-1-1-33 0-4 2-3 4-8 7-5-1-5-6-10-21 0-2-7-13 0-2-6-13-1-5-2-3-1-5-2-3-14-42-2-3-1-5-2-3-8-24-2-3-2-8-2-3-1-5-2-3-1-5-7-15 0-2-9-19-2-2-10-21-2-2-13-25-24-36-20-21-26-21-14-8-13-4 0 351 13 9 23 20 31 31 16 18 24 31 40 56 25 31 25 36 11 21 502 0 2-6 0-5 2-6 0-5 2-6 0-5 1-1 4-24 1-1 7-31 3-7 0-3 7-16 12-14 15-14 23-24 32-41 20-21 33-24 11-6 12-4 13 0 1 1 3 0 18 9 28 20 21 21 36 43 43 61 6 7 10 16 6 17 4 6 7 7 13 7 9 1 1 1 9 0 1 1 22 0 1-1 8 0 1-1 10-1 13-7 7-7 6-11 2-8 7-15 0-2 12-24 6-9 15-18 18-18 34-29 38-35 33-23 22-11z"/>
<path fill="#38538a" d="M1381 81l-15 10-12 10-23 23-13 15-23 32-18 30-8 16-2 2-24 47 0 2-13 28 0 2-14 33-1 5-4 8-1 5-4 8-1 5-4 8-4 13-4 8-1 5-6 13-12 36-2 3-4 14-2 3-2 8-2 3-4 12-6 11 0 2-7 15-6 7-3 0-4-5-4-12-8-16 0-2-8-17-6-17-3-5-2-7-13-29 0-2-2-3 0-2-2-3 0-2-2-3 0-2-2-3 0-2-2-3 0-2-2-3 0-2-2-3 0-2-2-3-10-27-14-31 0-2-12-28-1-5-4-8-1-5-6-13-5-15-3-5-5-14-6-11 0-2-13-23-9-11-12-12-11-9-17-10-20-7-9-1-1-1-20 0-1 1-10 1-18 6-3 0-3 2-12 4-15 8-16 11-10 11-9 13-8 15-2 2-5 11-2 2-19 38-11 18-19 37-2 2-45 91-9 26-5 10-4 5-8 4-5 1-5 4 0 4-1 1 0 21-1 1 0 21-1 1 0 21-1 1-1 42-1 1 0 6-11 16-2-3 0-17-1-1 0-21-1-1 0-22-1-1-2-65-1-1 0-4-2-2-2 0-4 4-16 27-7 7-11 6-5 0-4-2-23-22-25-1-1-1-41 0-1 1-25 1-13 7-4 4-4 7-6 6-5 0-11-5-4-3-15-23-4-8-5-5-4 1-2 3-6 138-3 5-3 2-6-8-6-137-4-4-2 0-3 3-4 9-13 21-6 6-12 5-4 0-5-5-7-11-8-1-1-1-5 0-1-1-8 0-1-1-40 0-2 1-10 11-6 1-6-6-2-5-2-2-1-4-12-23 0-2-6-12-1-5-7-16-2-8-2-3-8-24-6-13-1-5-2-3-1-5-2-3-1-5-2-3-1-5-2-3 0-2-2-3-1-5-9-20 0-2-18-36-2-2-5-11-2-2-14-26-6-8-3-6-16-21-22-21-23-17-12-6-10-3 0 334 10 7 22 19 34 34 16 18 26 34 27 39 22 28 29 40 14 22 9 19 499 0 2-7 1-10 1-1 1-10 1-1 0-5 1-1 0-4 1-1 0-4 1-1 0-4 2-6 0-4 1-1 6-27 3-7 0-3 4-13 7-13 42-43 13-15 27-35 18-19 36-26 14-7 3 0 5-2 12 0 15 6 33 23 16 15 30 35 18 23 37 54 15 20 6 12 1 5 4 9 10 11 9 5 7 2 6 0 1 1 27 1 1-1 9 0 1-1 11-1 12-6 10-11 5-12 1-5 3-5 0-2 16-34 7-11 14-17 22-22 26-22 42-39 35-25 21-11z"/>
<path fill="#3c588f" d="M1381 91l-10 6-14 11-18 17-19 21-16 21-26 42-14 27-2 2-8 17-2 2-21 46 0 2-5 10 0 2-16 38-1 5-6 13-1 5-6 13-1 5-12 28-8 24-5 11-2 8-2 3-6 17-4 7 0 2-12 24-7 6-4-4-3-6-2-7-8-15 0-2-9-18 0-2-7-14-3-9-4-7 0-2-3-5 0-2-3-5-7-19-3-5-8-22-3-5-4-12-3-5-2-7-3-5 0-2-9-19-4-12-3-5-1-5-8-18-1-5-4-8-1-5-2-3-8-22-11-23 0-2-10-19-10-14-19-19-9-7-18-10-14-5-12-2-1-1-19 0-1 1-6 0-1 1-11 2-4 2-3 0-14 5-5 3-2 0-18 10-13 9-7 7-13 18-8 15-2 2-5 11-2 2-19 38-2 2-3 7-2 2-13 25-2 2-5 11-2 2-13 27-2 2-9 18 0 87-1 1-1 13-1 1-3 15-7 19 0 3-7 21-10 11-15 12-20 22-1 9-11 16-2-2 0-4-5-6-20-19-20-15-19-11-19-6-4 0-1-1-4 0-6-2-13-1-1-1-31 0-1 1-13 1-1 1-5 0-5 2-12 2-9 3-12 6-28 20-13 13-14 17 0 6-6 7-6-9 0-5-26-26-17-12-25-12-27-9-22-5-10-4-15-13-10-11-7-11-8-16-11-30-2-11-4-8-4-13-4-8-1-5-4-8-3-10-3-5-1-5-6-13-1-5-2-3 0-2-2-3-10-27-23-46-2-2-4-9-2-2-10-19-24-35-21-21-13-11-13-9-14-7-9-2 0 317 31 26 30 30 18 20 27 35 26 38 32 42 12 18 0-13 1-1 0-3 2-1 7 4 11 10 11 7 16 8 22 7 11 11 7 9 11 20 431 0 2-13 1-1 0-5 2-6 0-5 1-1 0-4 1-1 0-4 1-1 0-4 1-1 0-4 2-6 0-4 1-1 6-27 2-4 0-3 2-4 0-3 3-9 8-16 10-12 37-37 33-42 25-26 8-5 11-9 19-12 13-5 5 0 1-1 11 1 6 2 11 6 28 20 17 16 33 39 16 21 28 42 24 33 5 9 0 2 3 5 1 5 3 6 9 10 9 5 7 2 7 0 1 1 20 1 1-1 13 0 1-1 11-1 12-6 9-10 4-9 1-5 3-5 0-2 7-13 0-2 14-29 6-9 15-18 20-20 26-22 46-43 31-22 21-12z"/>
<path fill="#405e94" d="M1324 240l-10 0-1 1-7 1-9 8-9 14-6 13-2 2-12 23-20 23-19 27-1 3-7 10-11 22 0 2-13 28 0 2-14 28-2 2-14 27-2 2-7 15 0 2-15 29-5 4-3-1-3-4-4-11-10-20-6-8-12-22-2-2-3-7-2-2-16-31 0-2-7-13 0-2-7-13 0-2-11-21-28-42-18-22-24-38-13-14-8-4-11-1-1-1-1 1-3 0-5 6-2 7 0 6-1 1 0 14 1 1 0 6 1 1 2 12 7 21 7 14 0 2 3 5 0 2 3 5 0 2 3 5 2 7 13 28 0 2 14 29 2 2 3 7 10 15 1 3 22 33 8 10 18 29 1 10-5 9-2 7 0 15 28 85 6 11 2 7 9 12 10 6 8 1 1 1 9 0 1 1 24 0 1-1 14-1 6-2 8-5 6-7 4-8 2-7 6-11 5-15 0-3 22-64 0-15-3-9-5-8-1-6 10-19 20-29 20-26 10-16 17-39 2-8 6-14 11-33 17-34 7-19 1-8 1-1 0-20-4-11-4-5zM10 214l-5 9-4 14 0 6-1 1 0 33 1 1 0 5 1 1 3 17 8 25 2 3 1 5 5 10 0 2 13 27 2 2 12 23 23 38 8 11 1 3 20 29 24 31 16 26 6 13 2 16 4 12 2 3 3 11 2 3 6 18 0 3 4 8 3 10 11 21 17 18 10 7 18 9 9 3 3 0 10 4 9 9 7 9 15 26 159 0 5-14 8-16 12-13 13-6 3 0 5-2 5 0 1-1 7 0 1-1 23 4 12 5 10 10 2 4 0 2 6 14 3 14 147 0 1-1 1-10 2-6 0-5 2-6 0-5 1-1 5-29 1-1 4-19 2-4 0-3 2-4 0-3 2-4 0-3 7-18 0-3 2-4 0-4 2-4 1-8 2-4 0-3 3-9 12-26 2-2 14-29 2-2 11-23 2-2 30-61 0-2 3-5 0-2 3-5 0-2 9-20 1-5 9-21 10-29 9-20 0-2 3-5 0-2 3-5 5-15 2-12 1-1 0-5 1-1 0-18-1-1 0-6-2-7-5-7-9-2-9 3-7 6-8 11-5 10-2 2-40 79 0 2-15 30 0 2-15 33-5 14-8 16 0 2-12 23-17 26-16 32-8 9-21 16-18 18-11 14-1 5-10 15-9-11-24-23-20-15-17-9-17-5-4 0-1-1-4 0-6-2-6 0-1-1-41 0-1 1-12 1-1 1-8 1-1 1-14 3-16 8-22 16-17 17-16 19-1 4-5 5-5-6-1-4-32-32-11-8-24-12-26-9-14-3-4-2-9-1-5-2-4 0-1-1-15-3-5-3-8-8-12-19-11-21-2-2-5-11-2-2-20-41 0-2-5-10-10-27-10-21 0-2-10-19 0-2-4-6-16-32-2-2-8-16-2-2-14-25-18-26-6-7-10-9-10-5-6 0-5 2z"/>
<path fill="#4d6e9b" d="M1286 322l-4 0-4 2-10 10-18 12-21 25-11 17-16 34-3 9-14 28-11 18-14 27-8 11-7 7-2 4-5 4-4-2-2-4-8-8-13-18-2-5-18-30-6-13-2-2-28-58-9-14-19-24-9-9-8-5-14-12-4-2-4 0-3 2-3 8-1 13 1 1 1 13 1 1 2 11 2 4 0 3 8 22 3 5 0 2 15 30 2 2 10 19 24 37 13 25 1 6-8 15 0 3-1 1 0 15 32 97 5 10 8 8 12 5 23 0 1 1 3 0 1-1 22 0 12-5 9-10 5-11 9-27 0-3 22-64 0-15-1-1 0-3-8-13-1-6 3-6 0-2 11-21 38-59 11-21 0-2 4-8 9-28 1-8 3-10 0-5 1-1 0-22-1-1 0-3zM49 329l1 13 1 1 0 5 1 1 1 7 7 21 7 15 0 2 4 7 0 2 21 41 36 57 20 39 2 6 0 4 1 1 1 14 5 12 4 14 2 3 10 32 11 23 4 6 16 16 9 6 14 7 23 7 13 13 7 9 15 26 148 0 13-30 3-5 9-10 10-7 18-5 13-1 1-1 2 1 13 1 12 4 3 0 11 6 6 6 6 10 6 17 3 14 139 0 1-9 2-6 0-5 2-6 0-5 1-1 0-4 1-1 0-4 1-1 0-4 1-1 0-4 2-6 0-4 1-1 5-23 4-11 0-3 4-10 10-44 10-28 5-8 35-72 0-2 9-18 0-2 3-5 0-2 3-5 0-2 3-5 2-7 7-15 13-39 0-3 4-13 1-9 1-1 0-7 1-1-1-16-3-6-3-1-4 2-8 8-9 12-19 30-21 41 0 2-5 9 0 2-6 11 0 2-12 25-2 2-6 12-22 32-8 16-6 7-23 17-19 18-15 20 0 2-11 16-13-15-20-19-20-15-16-9-19-6-4 0-1-1-4 0-6-2-6 0-1-1-39 0-1 1-6 0-1 1-5 0-5 2-4 0-17 5-12 6-12 8-13 10-13 13-17 20-3 5-6 6-4-4-4-7-30-30-14-10-20-10-32-11-3 0-4-2-12-2-5-2-6 0-5-2-10-1-13-6-9-10-20-33-24-44 0-2-5-9 0-2-9-18 0-2-15-30-12-20-17-24-8-10-12-12-9-5-6 0-3 2-2 3-3 9 0 8z"/>
<path fill="#5a7ca2" d="M1271 359l-7-2-5 0-7 2-10 8-11 12-16 24-26 57-2 2-4 9-10 16-13 25-12 14-5 4-5 2-2 0-7-4-9-9-6-8-19-34-2-2-4-9-2-2-29-59-13-20-22-23-10-4-5 0-7 3-3 9 0 10 1 1 1 9 6 18 14 32 2 2 9 18 22 36 12 24 2 6 0 3-7 11-2 5 0 3-1 1 0 11 33 101 6 10 6 5 10 4 50 0 10-4 4-3 5-6 3-6 10-30 0-3 23-68 0-11-1-1 0-3-2-5-8-12 1-6 13-28 35-58 12-26 1-5 3-6 0-3 3-9 0-4 1-1 0-15-1-1 0-3zM76 365l0 16 8 27 8 17 0 2 14 28 2 2 3 7 2 2 2 5 10 16 4 9 2 2 20 42 2 7 0 7 1 1 1 11 4 12 2 3 14 44 11 23 4 6 14 14 10 7 14 7 23 7 5 4 14 16 17 30 143 0 14-32 3-5 9-10 12-8 3 0 4-2 3 0 9-3 5 0 1-1 15 0 1 1 5 0 1 1 11 2 4 2 3 0 10 6 6 6 5 7 7 19 0 3 3 9 0 4 1 1 134 0 1-9 2-6 0-5 2-6 0-5 1-1 0-4 1-1 0-4 1-1 0-4 1-1 0-4 2-6 0-4 1-1 6-27 5-14 12-52 9-26 19-37 0-2 12-24 0-2 5-9 0-2 4-7 0-2 4-7 4-12 3-5 1-5 4-8 3-11 5-12 0-3 6-18 1-11 1-1-1-11-3-4-5 0-10 8-7 9-15 24-35 71-26 37-7 13-10 10-15 10-22 20-14 18-6 11-9 13-16-19-17-16-24-18-13-7-20-6-4 0-1-1-4 0-6-2-6 0-1-1-35 0-1 1-12 1-5 2-4 0-1 1-11 2-18 8-26 19-10 10-11 14-18 20-5-5-6-9-27-27-15-11-20-10-29-10-3 0-4-2-3 0-13-4-27-4-11-5-10-10-30-49-2-5-6-9-25-52-16-25-18-19-6-4-9-1-3 3z"/>
<path fill="#628cb1" d="M96 400l1 15 6 19 5 10 0 2 26 51 0 2 19 40 2 6 0 5 1 1 1 13 6 18 2 3 12 38 2 3 2 7 4 6 4 9 19 20 6 4 16 8 12 4 3 0 9 4 12 12 7 9 17 30 138 0 5-15 9-19 5-7 15-14 7-3 3 0 12-4 13-1 1-1 19 2 18 5 7 4 14 15 8 22 3 16 129 0 2-6 0-5 2-6 0-5 2-6 0-5 1-1 5-29 1-1 3-15 2-4 2-11 2-3 15-63 8-22 15-29 0-2 13-27 0-2 7-14 0-2 3-5 0-2 8-18 2-8 5-12 0-3 4-11 1-10 1-1 0-8-3-7-6 1-9 9-13 20-30 58-21 28-11 18-6 6-22 16-20 19-11 14-12 20-6 8-16-19-21-20-20-15-15-8-16-5-4 0-1-1-4 0-6-2-6 0-1-1-39 0-1 1-12 1-1 1-8 1-14 4-14 7-22 16-14 14-17 21-13 12-10-13-31-31-11-8-22-11-29-10-3 0-4-2-12-2-5-2-23-3-14-6-10-10-12-20-6-8-21-35-18-36-13-19-9-9-5-3-6 0-2 1zM1254 374l-5 0-8 5-14 14-6 8-12 22 0 2-20 42-2 2-4 9-14 23-8 16-10 11-13 8-6-2-8-6-8-8-5-7-2-5-22-37-6-13-2-2-16-34-2-2-6-12-10-14-11-11-8-6-3-1-6 1-5 7 0 4-1 1 1 17 8 24 10 21 2 2 8 16 10 16 19 40 0 6-6 9-3 7 0 5-1 1 1 9 33 100 3 5 6 6 5 3 8 1 1 1 42 0 1-1 5 0 8-4 6-6 3-5 11-33 0-3 22-64 0-5 1-1-1-9-3-7-7-10 0-5 4-11 4-7 0-2 11-22 18-30 12-23 9-25 0-5 1-1-1-15-2-5z"/>
<path fill="#6c9bb9" d="M112 423l0 14 2 4 2 9 21 47 0 2 8 17 0 2 11 23 1 7 1 1 0 7 1 1 1 9 6 14 14 44 10 21 5 7 12 12 10 7 12 6 23 7 7 5 15 17 19 33 132 0 5-15 9-19 7-10 8-8 12-8 3 0 4-2 3 0 9-3 13-1 1-1 17 2 1 1 11 2 4 2 3 0 10 6 9 9 5 7 7 19 4 19 124 0 3-18 1-1 0-5 2-6 0-5 1-1 0-4 1-1 0-4 1-1 0-4 1-1 0-4 2-6 0-4 3-8 4-19 2-4 0-3 1-1 0-3 1-1 0-3 1-1 0-3 8-29 2-12 3-7 0-3 4-8 4-13 16-31 0-2 12-26 0-2 12-28 9-30 0-12-2-3-4 0-4 3-5 6-12 19-9 18-2 2-3 7-9 15-22 28-6 10-9 9-17 12-21 19-14 18-18 29-2-1-9-12-18-19-25-20-18-11-19-6-4 0-1-1-4 0-6-2-6 0-1-1-35 0-1 1-6 0-1 1-5 0-5 2-4 0-17 5-19 11-17 13-9 9-17 21-11 12-6 5-14-18-26-26-15-11-18-9-32-11-3 0-12-4-9-1-1-1-22-3-6-2-9-5-7-7-17-25-1-3-20-30-15-28-9-13-5-5-5-3-4 0zM1249 389l-5 0-8 4-9 8-7 9-13 24 0 2-6 11 0 2-13 26-19 32-4 9-4 6-8 8-8 6-6 3-4 0-7-4-16-15-19-32-9-18-2-2-19-39-14-22-10-10-6-4-7-2-4 3-2 5 0 16 4 14 17 36 8 13 12 24 0 2 7 13 4 11 0 3-9 15-1 13 33 101 4 7 6 5 8 3 48 0 1-1 3 0 7-4 5-6 35-105-1-13-3-6-6-8 0-7 5-11 0-2 3-5 0-2 5-9 0-2 21-40 2-2 12-26 4-14 0-14-2-6z"/>
<path fill="#77a0aa" d="M124 449l2 12 6 18 2 3 1 5 2 3 1 5 2 3 6 17 12 26 2 7 2 16 4 9 3 11 2 3 7 21 1 6 2 3 3 10 9 18 18 19 6 4 16 8 9 3 3 0 12 5 13 13 7 9 19 33 126 0 5-14 3-5 0-2 9-18 5-7 13-12 10-5 3 0 12-4 12-1 1-1 11 0 1 1 12 1 12 4 3 0 13 7 9 9 6 10 7 19 4 18 118 0 2-6 0-5 2-6 0-5 1-1 1-10 1-1 2-14 2-5 1-9 1-1 7-31 2-4 13-56 10-27 13-25 0-2 10-21 0-2 6-13 1-5 2-3 9-29 0-10-2-2-3 1-7 7-23 38-10 14-10 11-10 14-11 11-19 14-19 18-11 14-21 34-11-14-22-23-13-11-20-14-15-7-17-3-1-1-4 0-1-1-6 0-1-1-39 0-1 1-12 1-1 1-19 4-14 7-22 16-13 13-17 21-17 16-10-11-4-6-30-30-11-8-22-11-26-9-3 0-12-4-9-1-1-1-23-3-9-3-7-4-11-11-25-38-7-9-9-16-9-13-7-6-3 0-2 2 0 3zM1241 403l-4 0-6 3-10 10-6 9-26 54-17 28-7 14-11 12-7 5-10 5-11-6-16-15-19-32-8-16-2-2-20-40-11-16-6-6-8-4-5 1-3 4-1 10 1 1 0 4 3 10 9 19 0 2 17 32 0 2 6 11 0 2 5 9 0 2 6 13 0 5-7 10-2 5 0 13 5 13 0 3 27 81 3 6 5 5 6 3 52 0 6-3 5-5 3-6 10-30 0-3 22-64 0-13-3-6-6-8-1-3 1-5 4-11 3-5 0-2 3-5 0-2 3-5 0-2 5-9 0-2 6-10 18-38 4-13 0-13-1-3z"/>
<path fill="#83a796" d="M135 468l0 6 9 30 17 40 3 19 2 3 5 16 2 3 8 24 1 6 3 5 3 10 3 4 4 9 18 19 6 4 14 7 18 5 8 4 13 13 7 9 11 18 3 7 7 10 120 0 0-3 5-11 0-2 11-23 5-7 11-11 5-4 8-4 3 0 4-2 3 0 9-3 13-1 1-1 13 1 1 1 5 0 1 1 11 2 12 4 6 4 12 12 5 8 7 19 4 20 114 0 3-18 1-1 0-5 2-6 0-5 1-1 0-4 1-1 0-4 1-1 0-4 1-1 0-4 2-6 0-4 1-1 7-31 2-4 6-27 2-4 0-4 2-5 2-12 5-14 5-10 0-2 3-5 0-2 12-23 0-2 6-12 9-25 0-3 3-9 0-6-1-2-4 1-7 8-15 23-18 20-10 13-30 24 0 1-16 15-11 14-23 37-13-17-22-23-13-11-20-14-16-7-17-3-1-1-4 0-1-1-6 0-1-1-33 0-1 1-12 1-1 1-8 1-14 4-12 6-22 16-13 13-17 21-19 18-7-7-9-12-30-30-11-8-20-10-29-10-3 0-12-4-9-1-1-1-19-2-12-4-9-6-10-11-38-54-8-7-2 1zM1236 417l-5-1-4 2-8 8-4 6-24 49-2 2-3 7-5 7-15 27-10 11-18 11-2 0-9-5-8-6-10-10-20-33-31-58-12-13-5-2-4 2-2 7 0 4 1 1 0 4 2 7 38 84 0 8-6 7-3 8 1 11 33 99 7 7 6 2 46 0 6-2 7-7 12-36 0-3 22-64-1-11-9-13 1-8 9-20 2-7 3-5 0-2 3-5 0-2 20-42 3-10 0-12z"/>
<path fill="#8ca488" d="M144 487l0 5 1 1 1 8 7 20 8 17 3 9 1 10 3 10 2 3 5 16 2 3 10 32 10 21 17 18 6 4 14 7 23 7 9 7 15 18 17 30 5 6 114 0 6-18 10-21 7-10 9-9 8-6 6-3 21-5 1-1 13-1 1-1 17 2 1 1 11 2 4 2 3 0 9 4 6 4 10 10 6 9 8 22 4 19 108 0 2-6 0-5 2-6 0-5 2-6 0-5 1-1 5-29 1-1 7-31 2-4 12-52 6-17 5-10 0-2 14-28 0-2 6-13 4-14 0-6-3-1-9 9-5 7-31 32-22 17-18 17-21 29-14 25-2-1-5-8-9-11-21-22-13-11-20-14-13-6-17-3-1-1-4 0-1-1-6 0-1-1-37 0-1 1-12 1-1 1-19 4-12 6-22 16-12 12-17 21-21 21-14-16-4-6-34-33-26-14-26-9-3 0-12-4-9-1-1-1-6 0-6-2-11-1-15-6-13-12-13-18-20-24-6-4zM1228 430l-5 1-7 7-4 6-19 39-27 45-11 11-17 10-6-2-11-7-12-11-18-28-11-21-2-2-5-11-2-2-4-9-8-13-4-5-5-4-4-1-3 4 0 8 4 13 9 19 0 2 3 5 0 2 3 5 3 9 4 7 0 2 4 7 0 2 3 5 3 9-1 6-4 4-4 7 0 11 32 97 2 4 4 4 4 2 50 0 4-2 4-4 34-101 0-11-2-4-7-9 0-5 4-12 3-5 4-12 3-5 4-12 12-26 5-14 1-10z"/>
<path fill="#9fa174" d="M153 504l1 11 5 14 2 3 1 5 2 3 0 3 3 9 0 4 1 1 0 4 11 26 6 18 1 6 13 29 17 18 6 4 12 6 23 7 11 8 15 18 17 30 6 8 108 0 7-20 10-21 7-10 9-9 8-6 6-3 21-5 1-1 13-1 1-1 15 1 1 1 5 0 1 1 11 2 4 2 6 1 12 7 10 10 6 9 8 22 0 3 3 9 0 4 1 1 0 4 104 0 1-8 1-1 0-5 2-6 0-5 2-6 0-5 1-1 0-4 1-1 0-4 1-1 0-4 1-1 0-4 2-6 0-4 1-1 7-31 2-4 3-15 2-4 6-28 5-15 4-7 6-17 6-11 0-2 6-14 0-6-1-1-5 2-58 49-11 11-11 14-15 23-11 20-18-23-21-22-13-11-20-14-14-6-17-3-1-1-4 0-1-1-6 0-1-1-31 0-1 1-12 1-1 1-8 1-14 4-19 11-13 10-12 12-17 21-23 23-11-12-9-12-29-29-11-8-18-9-29-10-3 0-4-2-12-2-5-2-20-2-12-4-8-5-15-15-10-13-7-7-6-4zM1221 446l-3 0-5 5-4 6-16 32-23 38-12 13-20 12-6-2-14-9-14-14-14-22-2-5-5-7-20-36-5-6-4-2-2 1-1 6 1 1 2 10 27 65 0 6-8 10-1 10 3 6 2 9 28 84 5 6 5 2 44 0 5-2 4-4 34-102-1-9-8-9 0-8 5-14 9-20 0-2 2-3 0-2 2-3 1-5 2-3 8-23 0-9z"/>
<path fill="#aca070" d="M162 520l0 8 4 11 5 24 11 24 12 36 10 19 13 13 6 4 12 6 23 7 11 8 17 20 17 30 7 9 101 0 7-21 10-21 7-10 11-11 8-6 6-3 21-5 1-1 13-1 1-1 17 1 1 1 5 0 1 1 11 2 4 2 6 1 12 7 12 12 6 9 8 22 0 3 3 9 0 4 1 1 0 4 1 1 97 0 0-4 2-6 0-5 2-6 0-5 2-6 0-5 1-1 5-29 1-1 7-31 2-3 10-43 2-3 2-9 7-15 9-25 0-6-1-1-7 1-18 12-26 23-9 9-11 14-18 28-10 19-1 0-7-8-5-8-9-11-19-20-13-11-20-14-14-6-17-3-1-1-4 0-1-1-6 0-1-1-29 0-1 1-12 1-1 1-8 1-14 4-19 11-13 10-10 10-17 21-22 22-2 4-2 1-19-22-4-6-27-27-11-8-18-9-29-10-3 0-4-2-3 0-9-3-4 0-1-1-18-2-12-4-13-8-20-20-5-3zM1212 467l-2 0-4 5-13 24-21 33-15 15-19 11-6-2-13-8-18-17-34-55-3-3-3 1 0 4 5 16 9 20 0 2 3 5 0 2 3 5 3 9 0 5-8 10-1 8 33 99 3 4 5 2 42 0 5-2 2-2 12-35 0-3 2-3 20-60-1-8-8-10 0-6 10-24 0-2 2-3 0-2 2-3 2-8 2-3 5-18z"/>
<path fill="#bf9e5f" d="M169 533l0 11 1 1 1 11 2 6 12 24 13 37 9 17 12 12 6 4 12 6 23 7 11 8 18 21 17 30 8 11 93 0 7-21 11-23 7-10 12-12 8-6 8-4 21-5 1-1 13-1 1-1 17 1 1 1 5 0 1 1 11 2 15 5 9 6 13 13 7 11 8 22 0 3 3 9 0 4 1 1 0 4 1 1 89 0 1-8 1-1 0-5 2-6 0-5 2-6 0-5 1-1 0-4 1-1 0-4 1-1 0-4 1-1 0-4 2-6 0-4 1-1 7-31 2-4 5-23 2-4 4-17 13-29 2-7 0-4 1-1 0-4-3-3-4 0-12 6-32 31-21 29-1 3-7 10-4 9-2 2-5 11-2 2-11-13-8-12-16-18-16-15-25-18-11-5-17-3-1-1-4 0-1-1-6 0-1-1-31 0-1 1-12 1-1 1-19 4-19 11-13 10-9 9-17 21-22 22-2 4-5 4-17-19-9-12-26-26-11-8-18-9-26-9-3 0-12-4-4 0-6-2-6 0-1-1-6 0-3-2-8-1-5-3-2 0-11-7-18-14-3 0zM1198 501l-4 3-15 22-10 11-17 14-15 8-13-7-19-15-11-12-12-18-6-5 0 4 8 19 3 10-1 9-7 7 0 6 32 97 2 3 2 1 44 0 3-2 33-99 0-5-1-2-6-6-1-10 4-12 4-8z"/>
<path fill="#dbd677" d="M173 548l2 11 8 16 2 2 0 2 2 2 6 14 2 2 0 2 2 3 0 2 2 2 5 15 8 15 11 11 6 4 10 5 23 7 13 9 19 22 11 18 3 7 10 14 3 6 79 0 8-23 12-25 7-10 13-13 8-6 10-5 21-5 1-1 13-1 1-1 21 1 1 1 5 0 1 1 11 2 15 5 11 7 14 14 8 13 8 22 5 24 77 0 0-5 2-6 0-5 2-6 0-5 2-6 0-5 1-1 5-29 1-1 7-31 2-4 2-11 3-5 2-9 2-3 1-5 2-3 6-17 9-19 0-8-2-2-4-1-6 3-11 11-7 10-10 10-11 14-18 28-13 26-3 3-3-1-7-7-16-22-16-18-15-14-13-10-12-8-9-4-17-3-1-1-4 0-1-1-6 0-1-1-27 0-1 1-6 0-1 1-5 0-5 2-12 2-11 5-22 16-8 8-17 21-22 22-2 4-9 8-3-1-8-8-21-26-25-25-11-8-16-8-26-9-3 0-12-4-4 0-6-2-6 0-12-4-3 0-2-2-2 0-25-17-6 0zM1093 537l-2 4-1 8-3 4-2 0 0 2 32 97 40 0 10-30 0-3 22-64 0-2-2 0-3-3-2-12-1-1-4 0-9 5-8 8-15 11-6 3-3 0-15-9-15-13-9-5z"/>
<path fill="#d0c068" d="M181 555l0 3 3 5 0 2 3 4 3 11 16 25 14 18 11 11 12 7 23 7 14 8 11 10 11 13 11 17-1 17-1 1 0 10 5 6 5 9 79 0 8-23 10-20 0-7-1-1 0-4-1-1 0-4-2-6 2-3 18-17 15-9 27-8 13-1 1-1 21 0 1 1 7 0 1 1 5 0 1 1 21 5 11 5 12 8 14 14 2 3 0 4-1 1 0 4-2 6-1 10 7 18 5 24 77 0 0-5 2-6 0-5 2-6 2-16 1-1 0-4 1-1 0-4 1-1 0-4 1-1 0-4 2-6-2-10-1-1 0-8 9-29 2-3 1-5 2-3 4-12 4-7 2-11 2-3 4-12 0-7-1-1-7 4-12 19-8 17-2 7-12 20-8-12-2-1-7 11-4 9-2 2-7 15-3 3-3-1-7-7-19-25-1 0-6 12-2 1-22-24-13-11-17-12-13-4-4 0-1-1-4 0-6-2-6 0-1-1-19 0-1 1-6 0-1 1-5 0-5 2-12 2-7 3-19 14-31 35-7-14-1 0-19 19-2 4-9 8-3-1-8-8-4-6-8-8-7-9-8 15-5-7-25-25-8-6-17-8-21-7-3 0-7-3-7-1-10-5-2 0-15-9-8-7-8-2-5-4zM1096 554l1 10 6 11 0 2 5 9 0 2 10 21 0 2 6 13 1 5 2 3 1 5 18 0 7-21 24-53 0-7 1-2-3 0-2-2-4 0-2 1-2 3-8 3-11 10-7 4-3 0-4-2-13-11-8-4-2 0-1-2-3-2-4 0-2 2z"/>
<path fill="#c7ad67" d="M347 638l-5 6-7 13-7 20 0 3-3 9 0 4-1 1 0 4-1 1-1 13-1 1-1 25 1 1 79 0 2-4 2-9 6-13 0-9-1-1 0-5-1-1 0-4-1-1 0-4-1-1-2-11-6-17-6-12-4-6-4-3-7 7-2 4-9 8-3-1zM649 633l-4 6-7 15-3 3-3-1-7-7-9-12-8 11-5 10-7 20-3 17-1 1 0 5-1 1 0 6-1 1 0 7-1 2 3 9 2 12 77 0 0-5 1-1 1-10 2-6 0-5 2-6 0-10-1-1-1-9-9-28-11-19z"/>
<path fill="#bc965e" d="M377 645l-2 4-9 8-3-1-9-10-7 7-4 6-7 15-6 21 0 4-2 6 0 6-1 1 0 7-1 1-1 19 75 0 1-1 1-6 4-9 0-5-1-1 0-7-1-1 0-5-1-1-3-17-5-15-7-14zM644 644l-2 1-4 9-3 3-3-1-7-8-3-2-10 12-8 17-5 17-2 15-1 1 0 6-1 1 0 8-1 1 0 15 77 0 0-5 1-1 1-10 1-1 0-7-1-1 0-6-1-1 0-5-1-1-2-13-2-4-2-9-8-17-5-7z"/>
<path fill="#b88050" d="M625 660l-9 10-9 20 0 3-3 8-1 9-1 1-1 15-1 1 0 12 69 0 0-12-1-1 0-8-1-1 0-6-1-1-1-9-4-14-8-17-9-10-4-2-8-1zM358 659l-5 4-4 5-9 18-5 18 0 4-1 1-3 30 69 0 1-1 0-6-1-1 0-10-1-1-1-12-1-1-2-12-8-21-6-9-7-6-5-2-6 0z"/>
<path fill="#aa6d4c" d="M627 672l-9 10-5 10-3 9-2 12-1 1 0 5-1 1-1 19 59 0 0-10-1-1 0-8-1-1-1-10-5-17-5-10-9-10-4-2-7 0zM360 671l-7 6-8 14-6 21-3 27 60 0-1-16-1-1-1-11-1-1-3-14-7-15-8-9-4-2z"/>
<path fill="#a45a45" d="M630 687l-6 5-8 16 0 3-3 9 0 5-1 1-1 13 47 0-2-19-1-1-2-11-8-16-6-5-3-1zM360 688l-5 5-6 11-4 14-1 12-1 1 0 8 46 0-1-17-1-1-1-8-5-14-3-5-6-6-4-2-4 0z"/>
<path fill="#a84940" d="M630 706l-5 6-3 7-2 12-1 1 0 7 31 0-1-12-5-15-2-3-5-4-5 0zM362 706l-4 4-4 8-2 7 0 4-1 1-1 9 32 0-1-11-6-17-7-6z"/>
</g></g>
<line x1="307.5" y1="670.4" x2="307.5" y2="1038.2" stroke="#c4c4c4" stroke-width="1.1" stroke-dasharray="7 4" opacity="0.85"/>
<line x1="374.6" y1="670.4" x2="374.6" y2="1038.2" stroke="#c4c4c4" stroke-width="1.1" stroke-dasharray="7 4" opacity="0.85"/>
<line x1="441.8" y1="670.4" x2="441.8" y2="1038.2" stroke="#c4c4c4" stroke-width="1.1" stroke-dasharray="7 4" opacity="0.85"/>
<line x1="508.8" y1="670.4" x2="508.8" y2="1038.2" stroke="#c4c4c4" stroke-width="1.1" stroke-dasharray="7 4" opacity="0.85"/>
<line x1="643.5" y1="670.4" x2="643.5" y2="1038.2" stroke="#c4c4c4" stroke-width="1.1" stroke-dasharray="7 4" opacity="0.85"/>
<line x1="760.1" y1="670.4" x2="760.1" y2="1038.2" stroke="#c4c4c4" stroke-width="1.1" stroke-dasharray="7 4" opacity="0.85"/>
<rect x="898.9" y="668.4" width="19.6" height="369.8" fill="url(#cbg)" stroke="#5a5048" stroke-width="0.8"/>
<path d="M918.5 675.6h-3.5M918.5 775.9h-3.5M918.5 877.6h-3.5M918.5 977.9h-3.5" stroke="#4a3a30" stroke-width="1" fill="none" opacity="0.8"/>
<text x="157.6" y="679.1" font-size="38.6" textLength="21.3" lengthAdjust="spacingAndGlyphs">2</text>
<text x="129.7" y="754.5" font-size="38.6" textLength="48.6" lengthAdjust="spacingAndGlyphs">1.6</text>
<text x="132.1" y="829.2" font-size="38.6" textLength="46.5" lengthAdjust="spacingAndGlyphs">1.2</text>
<text x="128.2" y="904.6" font-size="38.6" textLength="50.2" lengthAdjust="spacingAndGlyphs">0.8</text>
<text x="127.8" y="979.8" font-size="38.6" textLength="50.2" lengthAdjust="spacingAndGlyphs">0.4</text>
<text x="157.4" y="1054.3" font-size="38.6" textLength="20.9" lengthAdjust="spacingAndGlyphs">0</text>
<text x="183.5" y="1085.8" font-size="39.0" textLength="24.9" lengthAdjust="spacingAndGlyphs">Γ</text>
<text x="288.7" y="1085.8" font-size="39.0" textLength="36.7" lengthAdjust="spacingAndGlyphs">M</text>
<text x="362.6" y="1085.8" font-size="39.0" textLength="23.3" lengthAdjust="spacingAndGlyphs">K</text>
<text x="422.6" y="1085.8" font-size="39.0" textLength="36.3" lengthAdjust="spacingAndGlyphs">M</text>
<text x="495.6" y="1085.8" font-size="39.0" textLength="21.9" lengthAdjust="spacingAndGlyphs">K</text>
<text x="631.1" y="1085.8" font-size="39.0" textLength="24.9" lengthAdjust="spacingAndGlyphs">Γ</text>
<text x="740.5" y="1085.8" font-size="39.0" textLength="36.3" lengthAdjust="spacingAndGlyphs">M</text>
<text x="862.5" y="1085.8" font-size="39.0" textLength="24.9" lengthAdjust="spacingAndGlyphs">Γ</text>
<text x="922.5" y="689.4" font-size="33.0" textLength="20.8" lengthAdjust="spacingAndGlyphs">e</text>
<text x="942.6" y="678.9" font-size="21.4" textLength="12.8" lengthAdjust="spacingAndGlyphs">4</text>
<text x="922.5" y="790.7" font-size="33.0" textLength="20.8" lengthAdjust="spacingAndGlyphs">e</text>
<text x="941.8" y="780.2" font-size="21.4" textLength="14.2" lengthAdjust="spacingAndGlyphs">2</text>
<text x="922.5" y="893.0" font-size="33.0" textLength="20.8" lengthAdjust="spacingAndGlyphs">e</text>
<text x="942.1" y="882.5" font-size="21.4" textLength="13.4" lengthAdjust="spacingAndGlyphs">0</text>
<text x="922.5" y="993.4" font-size="33.0" textLength="20.8" lengthAdjust="spacingAndGlyphs">e</text>
<text x="942.0" y="982.9" font-size="21.4" textLength="22.3" lengthAdjust="spacingAndGlyphs">-2</text>
<text x="357.9" y="640.3" font-size="43.4" textLength="25.7" lengthAdjust="spacingAndGlyphs">Δ</text>
<text x="389.9" y="640.3" font-size="43.4" textLength="10.7" lengthAdjust="spacingAndGlyphs">/</text>
<text x="403.4" y="640.3" font-size="43.4" font-style="italic" textLength="17.7" lengthAdjust="spacingAndGlyphs">J</text>
<text x="422.2" y="648.0" font-size="26.0" textLength="7.4" lengthAdjust="spacingAndGlyphs">1</text>
<text x="432.1" y="640.3" font-size="43.4" textLength="28.8" lengthAdjust="spacingAndGlyphs">=</text>
<text x="460.7" y="640.3" font-size="43.4" textLength="72.8" lengthAdjust="spacingAndGlyphs">0.54</text>
<text x="532.7" y="640.3" font-size="43.4" textLength="12.1" lengthAdjust="spacingAndGlyphs">,</text>
<text x="553.5" y="640.3" font-size="43.4" font-style="italic" textLength="18.6" lengthAdjust="spacingAndGlyphs">T</text>
<text x="573.6" y="640.3" font-size="43.4" textLength="28.3" lengthAdjust="spacingAndGlyphs">=</text>
<text x="603.4" y="640.3" font-size="43.4" textLength="70.3" lengthAdjust="spacingAndGlyphs">1.45</text>
<text x="686.6" y="640.3" font-size="43.4" textLength="22.9" lengthAdjust="spacingAndGlyphs">K</text>
<text x="73.1" y="635.7" font-size="32.0" textLength="41.3" lengthAdjust="spacingAndGlyphs">(c)</text>
<text transform="translate(103.4,971.4) rotate(-90)" font-size="41.7" textLength="223.2" lengthAdjust="spacingAndGlyphs">Energy (meV)</text>
<rect x="1132.6" y="667.6" width="679.0" height="364.1" fill="none" stroke="#1a1a1a" stroke-width="5.2"/>
<path d="M1216.1 667.6v9.2M1216.1 1031.7v-9.2M1308.9 667.6v9.2M1308.9 1031.7v-9.2M1401.7 667.6v9.2M1401.7 1031.7v-9.2M1494.5 667.6v9.2M1494.5 1031.7v-9.2M1587.3 667.6v9.2M1587.3 1031.7v-9.2M1680.1 667.6v9.2M1680.1 1031.7v-9.2M1772.9 667.6v9.2M1772.9 1031.7v-9.2M1132.6 971.1h9.2M1811.6 971.1h-9.2M1132.6 910.4h9.2M1811.6 910.4h-9.2M1132.6 849.8h9.2M1811.6 849.8h-9.2M1132.6 789.1h9.2M1811.6 789.1h-9.2M1132.6 728.5h9.2M1811.6 728.5h-9.2" stroke="#1a1a1a" stroke-width="4.7" fill="none"/>
<clipPath id="cpd"><rect x="1131.4" y="661.6" width="682.7" height="375.1"/></clipPath>
<g clip-path="url(#cpd)">
<polyline fill="none" stroke="#8d2b37" stroke-width="3.6" stroke-linejoin="round" points="1134.1,986.7 1138.7,985.8 1143.3,985.0 1148.0,984.2 1152.6,983.5 1157.3,982.7 1161.9,982.0 1166.5,981.3 1171.2,980.7 1175.8,980.0 1180.5,979.4 1185.1,978.9 1189.7,978.3 1194.4,977.8 1199.0,977.4 1203.7,976.9 1208.3,976.4 1212.9,976.0 1217.6,975.5 1222.2,975.1 1226.9,974.7 1231.5,974.4 1236.1,974.0 1240.8,973.7 1245.4,973.4 1250.1,973.2 1254.7,972.9 1259.3,972.8 1264.0,972.6 1268.6,972.4 1273.3,972.3 1277.9,972.1 1282.5,972.0 1287.2,972.0 1291.8,972.0 1296.5,972.0 1301.1,972.0 1305.7,972.1 1310.4,972.2 1315.0,972.3 1319.7,972.5 1324.3,972.6 1328.9,972.8 1333.6,973.0 1338.2,973.2 1342.9,973.5 1347.5,973.9 1352.1,974.2 1356.8,974.5 1361.4,974.8 1366.1,975.1 1370.7,975.5 1375.3,975.8 1380.0,976.2 1384.6,976.5 1389.3,976.9 1393.9,977.2 1398.5,977.5 1403.2,977.8 1407.8,978.2 1412.5,978.5 1417.1,978.8 1421.7,979.2 1426.4,979.5 1431.0,979.9 1435.7,980.3 1440.3,980.6 1444.9,981.0 1449.6,981.4 1454.2,981.8 1458.9,982.2 1463.5,982.6 1468.1,983.0 1472.8,983.4 1477.4,983.9 1482.1,984.4 1486.7,984.9 1491.3,985.4 1496.0,985.9 1500.6,986.4 1505.3,986.9 1509.9,987.5 1514.5,988.0 1519.2,988.5 1523.8,989.1 1528.5,989.6 1533.1,990.1 1537.7,990.6 1542.4,991.1 1547.0,991.6 1551.7,992.1 1556.3,992.6 1560.9,993.1 1565.6,993.6 1570.2,994.2 1574.9,994.7 1579.5,995.2 1584.1,995.6 1588.8,996.1 1593.4,996.6 1598.1,997.1 1602.7,997.6 1607.3,998.1 1612.0,998.6 1616.6,999.0 1621.3,999.5 1625.9,1000.0 1630.5,1000.5 1635.2,1000.9 1639.8,1001.4 1644.5,1001.8 1649.1,1002.3 1653.7,1002.8 1658.4,1003.2 1663.0,1003.7 1667.7,1004.1 1672.3,1004.5 1676.9,1005.0 1681.6,1005.4 1686.2,1005.9 1690.9,1006.3 1695.5,1006.7 1700.1,1007.1 1704.8,1007.6 1709.4,1008.0 1714.1,1008.4 1718.7,1008.8 1723.3,1009.2 1728.0,1009.6 1732.6,1010.0 1737.3,1010.4 1741.9,1010.8 1746.5,1011.2 1751.2,1011.6 1755.8,1012.0 1760.5,1012.4 1765.1,1012.8 1769.7,1013.2 1774.4,1013.6 1779.0,1014.0 1783.7,1014.4 1788.3,1014.8 1792.9,1015.2 1797.6,1015.5 1802.2,1015.9 1806.9,1016.3"/>
<path fill="#8d2b37" d="M1129.9 982.5h8.3v8.3h-8.3zM1134.6 981.7h8.3v8.3h-8.3zM1139.2 980.9h8.3v8.3h-8.3zM1143.8 980.1h8.3v8.3h-8.3zM1148.5 979.3h8.3v8.3h-8.3zM1153.1 978.6h8.3v8.3h-8.3zM1157.8 977.9h8.3v8.3h-8.3zM1162.4 977.2h8.3v8.3h-8.3zM1167.0 976.5h8.3v8.3h-8.3zM1171.7 975.9h8.3v8.3h-8.3zM1176.3 975.3h8.3v8.3h-8.3zM1181.0 974.7h8.3v8.3h-8.3zM1185.6 974.2h8.3v8.3h-8.3zM1190.2 973.7h8.3v8.3h-8.3zM1194.9 973.2h8.3v8.3h-8.3zM1199.5 972.7h8.3v8.3h-8.3zM1204.2 972.3h8.3v8.3h-8.3zM1208.8 971.8h8.3v8.3h-8.3zM1213.4 971.4h8.3v8.3h-8.3zM1218.1 971.0h8.3v8.3h-8.3zM1222.7 970.6h8.3v8.3h-8.3zM1227.4 970.2h8.3v8.3h-8.3zM1232.0 969.9h8.3v8.3h-8.3zM1236.6 969.5h8.3v8.3h-8.3zM1241.3 969.3h8.3v8.3h-8.3zM1245.9 969.0h8.3v8.3h-8.3zM1250.6 968.8h8.3v8.3h-8.3zM1255.2 968.6h8.3v8.3h-8.3zM1259.8 968.4h8.3v8.3h-8.3zM1264.5 968.3h8.3v8.3h-8.3zM1269.1 968.1h8.3v8.3h-8.3zM1273.8 968.0h8.3v8.3h-8.3zM1278.4 967.9h8.3v8.3h-8.3zM1283.0 967.8h8.3v8.3h-8.3zM1287.7 967.8h8.3v8.3h-8.3zM1292.3 967.8h8.3v8.3h-8.3zM1297.0 967.9h8.3v8.3h-8.3zM1301.6 968.0h8.3v8.3h-8.3zM1306.2 968.1h8.3v8.3h-8.3zM1310.9 968.2h8.3v8.3h-8.3zM1315.5 968.3h8.3v8.3h-8.3zM1320.2 968.4h8.3v8.3h-8.3zM1324.8 968.6h8.3v8.3h-8.3zM1329.4 968.8h8.3v8.3h-8.3zM1334.1 969.1h8.3v8.3h-8.3zM1338.7 969.4h8.3v8.3h-8.3zM1343.4 969.7h8.3v8.3h-8.3zM1348.0 970.0h8.3v8.3h-8.3zM1352.6 970.4h8.3v8.3h-8.3zM1357.3 970.7h8.3v8.3h-8.3zM1361.9 971.0h8.3v8.3h-8.3zM1366.6 971.3h8.3v8.3h-8.3zM1371.2 971.7h8.3v8.3h-8.3zM1375.8 972.0h8.3v8.3h-8.3zM1380.5 972.4h8.3v8.3h-8.3zM1385.1 972.7h8.3v8.3h-8.3zM1389.8 973.0h8.3v8.3h-8.3zM1394.4 973.4h8.3v8.3h-8.3zM1399.0 973.7h8.3v8.3h-8.3zM1403.7 974.0h8.3v8.3h-8.3zM1408.3 974.4h8.3v8.3h-8.3zM1413.0 974.7h8.3v8.3h-8.3zM1417.6 975.0h8.3v8.3h-8.3zM1422.2 975.4h8.3v8.3h-8.3zM1426.9 975.7h8.3v8.3h-8.3zM1431.5 976.1h8.3v8.3h-8.3zM1436.2 976.5h8.3v8.3h-8.3zM1440.8 976.8h8.3v8.3h-8.3zM1445.4 977.2h8.3v8.3h-8.3zM1450.1 977.6h8.3v8.3h-8.3zM1454.7 978.0h8.3v8.3h-8.3zM1459.4 978.4h8.3v8.3h-8.3zM1464.0 978.9h8.3v8.3h-8.3zM1468.6 979.3h8.3v8.3h-8.3zM1473.3 979.8h8.3v8.3h-8.3zM1477.9 980.2h8.3v8.3h-8.3zM1482.6 980.7h8.3v8.3h-8.3zM1487.2 981.2h8.3v8.3h-8.3zM1491.8 981.7h8.3v8.3h-8.3zM1496.5 982.3h8.3v8.3h-8.3zM1501.1 982.8h8.3v8.3h-8.3zM1505.8 983.3h8.3v8.3h-8.3zM1510.4 983.9h8.3v8.3h-8.3zM1515.0 984.4h8.3v8.3h-8.3zM1519.7 984.9h8.3v8.3h-8.3zM1524.3 985.4h8.3v8.3h-8.3zM1529.0 986.0h8.3v8.3h-8.3zM1533.6 986.5h8.3v8.3h-8.3zM1538.2 987.0h8.3v8.3h-8.3zM1542.9 987.5h8.3v8.3h-8.3zM1547.5 988.0h8.3v8.3h-8.3zM1552.2 988.5h8.3v8.3h-8.3zM1556.8 989.0h8.3v8.3h-8.3zM1561.4 989.5h8.3v8.3h-8.3zM1566.1 990.0h8.3v8.3h-8.3zM1570.7 990.5h8.3v8.3h-8.3zM1575.4 991.0h8.3v8.3h-8.3zM1580.0 991.5h8.3v8.3h-8.3zM1584.6 992.0h8.3v8.3h-8.3zM1589.3 992.5h8.3v8.3h-8.3zM1593.9 993.0h8.3v8.3h-8.3zM1598.6 993.5h8.3v8.3h-8.3zM1603.2 993.9h8.3v8.3h-8.3zM1607.8 994.4h8.3v8.3h-8.3zM1612.5 994.9h8.3v8.3h-8.3zM1617.1 995.4h8.3v8.3h-8.3zM1621.8 995.8h8.3v8.3h-8.3zM1626.4 996.3h8.3v8.3h-8.3zM1631.0 996.8h8.3v8.3h-8.3zM1635.7 997.2h8.3v8.3h-8.3zM1640.3 997.7h8.3v8.3h-8.3zM1645.0 998.2h8.3v8.3h-8.3zM1649.6 998.6h8.3v8.3h-8.3zM1654.2 999.1h8.3v8.3h-8.3zM1658.9 999.5h8.3v8.3h-8.3zM1663.5 1000.0h8.3v8.3h-8.3zM1668.2 1000.4h8.3v8.3h-8.3zM1672.8 1000.8h8.3v8.3h-8.3zM1677.4 1001.3h8.3v8.3h-8.3zM1682.1 1001.7h8.3v8.3h-8.3zM1686.7 1002.1h8.3v8.3h-8.3zM1691.4 1002.6h8.3v8.3h-8.3zM1696.0 1003.0h8.3v8.3h-8.3zM1700.6 1003.4h8.3v8.3h-8.3zM1705.3 1003.8h8.3v8.3h-8.3zM1709.9 1004.2h8.3v8.3h-8.3zM1714.6 1004.7h8.3v8.3h-8.3zM1719.2 1005.1h8.3v8.3h-8.3zM1723.8 1005.5h8.3v8.3h-8.3zM1728.5 1005.9h8.3v8.3h-8.3zM1733.1 1006.3h8.3v8.3h-8.3zM1737.8 1006.7h8.3v8.3h-8.3zM1742.4 1007.1h8.3v8.3h-8.3zM1747.0 1007.5h8.3v8.3h-8.3zM1751.7 1007.9h8.3v8.3h-8.3zM1756.3 1008.3h8.3v8.3h-8.3zM1761.0 1008.7h8.3v8.3h-8.3zM1765.6 1009.1h8.3v8.3h-8.3zM1770.2 1009.5h8.3v8.3h-8.3zM1774.9 1009.9h8.3v8.3h-8.3zM1779.5 1010.2h8.3v8.3h-8.3zM1784.2 1010.6h8.3v8.3h-8.3zM1788.8 1011.0h8.3v8.3h-8.3zM1793.4 1011.4h8.3v8.3h-8.3zM1798.1 1011.8h8.3v8.3h-8.3zM1802.7 1012.1h8.3v8.3h-8.3z"/>
<polyline fill="none" stroke="#e9ad45" stroke-width="3.6" stroke-linejoin="round" points="1134.1,1012.2 1138.7,1011.4 1143.3,1010.6 1148.0,1009.7 1152.6,1008.7 1157.3,1007.6 1161.9,1006.5 1166.5,1005.4 1171.2,1004.2 1175.8,1002.9 1180.5,1001.6 1185.1,1000.2 1189.7,998.9 1194.4,997.4 1199.0,995.9 1203.7,994.3 1208.3,992.5 1212.9,990.5 1217.6,988.5 1222.2,986.4 1226.9,984.2 1231.5,982.1 1236.1,979.9 1240.8,977.7 1245.4,975.7 1250.1,973.6 1254.7,971.7 1259.3,970.0 1264.0,968.2 1268.6,966.6 1273.3,965.0 1277.9,963.3 1282.5,961.7 1287.2,960.1 1291.8,958.4 1296.5,956.6 1301.1,954.7 1305.7,952.9 1310.4,951.0 1315.0,949.2 1319.7,947.5 1324.3,946.0 1328.9,944.6 1333.6,943.2 1338.2,941.9 1342.9,940.6 1347.5,939.4 1352.1,938.2 1356.8,937.1 1361.4,936.0 1366.1,934.9 1370.7,933.8 1375.3,932.8 1380.0,931.8 1384.6,931.0 1389.3,930.2 1393.9,929.7 1398.5,929.2 1403.2,928.7 1407.8,928.3 1412.5,927.9 1417.1,927.6 1421.7,927.5 1426.4,927.4 1431.0,927.4 1435.7,927.4 1440.3,927.4 1444.9,927.4 1449.6,927.4 1454.2,927.7 1458.9,928.2 1463.5,928.8 1468.1,929.5 1472.8,930.2 1477.4,930.9 1482.1,931.7 1486.7,932.6 1491.3,933.6 1496.0,934.6 1500.6,935.7 1505.3,936.9 1509.9,938.2 1514.5,939.7 1519.2,941.3 1523.8,943.1 1528.5,944.9 1533.1,946.7 1537.7,948.6 1542.4,950.6 1547.0,952.6 1551.7,954.8 1556.3,957.0 1560.9,959.2 1565.6,961.4 1570.2,963.6 1574.9,965.8 1579.5,968.0 1584.1,970.2 1588.8,972.4 1593.4,974.6 1598.1,976.8 1602.7,979.0 1607.3,981.1 1612.0,983.2 1616.6,985.2 1621.3,987.3 1625.9,989.3 1630.5,991.3 1635.2,993.2 1639.8,995.1 1644.5,996.9 1649.1,998.7 1653.7,1000.4 1658.4,1002.1 1663.0,1003.7 1667.7,1005.3 1672.3,1006.7 1676.9,1008.0 1681.6,1009.3 1686.2,1010.6 1690.9,1011.7 1695.5,1012.8 1700.1,1013.9 1704.8,1014.8 1709.4,1015.7 1714.1,1016.6 1718.7,1017.4 1723.3,1018.2 1728.0,1018.9 1732.6,1019.6 1737.3,1020.1 1741.9,1020.6 1746.5,1021.1 1751.2,1021.6 1755.8,1022.1 1760.5,1022.5 1765.1,1023.0 1769.7,1023.4 1774.4,1023.8 1779.0,1024.2 1783.7,1024.5 1788.3,1024.8 1792.9,1025.0 1797.6,1025.3 1802.2,1025.4 1806.9,1025.6"/>
<path fill="#e9ad45" d="M1129.9 1008.0h8.3v8.3h-8.3zM1134.6 1007.2h8.3v8.3h-8.3zM1139.2 1006.4h8.3v8.3h-8.3zM1143.8 1005.5h8.3v8.3h-8.3zM1148.5 1004.5h8.3v8.3h-8.3zM1153.1 1003.5h8.3v8.3h-8.3zM1157.8 1002.4h8.3v8.3h-8.3zM1162.4 1001.2h8.3v8.3h-8.3zM1167.0 1000.0h8.3v8.3h-8.3zM1171.7 998.8h8.3v8.3h-8.3zM1176.3 997.4h8.3v8.3h-8.3zM1181.0 996.1h8.3v8.3h-8.3zM1185.6 994.7h8.3v8.3h-8.3zM1190.2 993.3h8.3v8.3h-8.3zM1194.9 991.8h8.3v8.3h-8.3zM1199.5 990.1h8.3v8.3h-8.3zM1204.2 988.3h8.3v8.3h-8.3zM1208.8 986.4h8.3v8.3h-8.3zM1213.4 984.3h8.3v8.3h-8.3zM1218.1 982.2h8.3v8.3h-8.3zM1222.7 980.1h8.3v8.3h-8.3zM1227.4 977.9h8.3v8.3h-8.3zM1232.0 975.7h8.3v8.3h-8.3zM1236.6 973.6h8.3v8.3h-8.3zM1241.3 971.5h8.3v8.3h-8.3zM1245.9 969.5h8.3v8.3h-8.3zM1250.6 967.6h8.3v8.3h-8.3zM1255.2 965.8h8.3v8.3h-8.3zM1259.8 964.1h8.3v8.3h-8.3zM1264.5 962.4h8.3v8.3h-8.3zM1269.1 960.8h8.3v8.3h-8.3zM1273.8 959.2h8.3v8.3h-8.3zM1278.4 957.6h8.3v8.3h-8.3zM1283.0 955.9h8.3v8.3h-8.3zM1287.7 954.2h8.3v8.3h-8.3zM1292.3 952.4h8.3v8.3h-8.3zM1297.0 950.6h8.3v8.3h-8.3zM1301.6 948.7h8.3v8.3h-8.3zM1306.2 946.9h8.3v8.3h-8.3zM1310.9 945.1h8.3v8.3h-8.3zM1315.5 943.4h8.3v8.3h-8.3zM1320.2 941.9h8.3v8.3h-8.3zM1324.8 940.4h8.3v8.3h-8.3zM1329.4 939.0h8.3v8.3h-8.3zM1334.1 937.7h8.3v8.3h-8.3zM1338.7 936.4h8.3v8.3h-8.3zM1343.4 935.2h8.3v8.3h-8.3zM1348.0 934.1h8.3v8.3h-8.3zM1352.6 932.9h8.3v8.3h-8.3zM1357.3 931.9h8.3v8.3h-8.3zM1361.9 930.8h8.3v8.3h-8.3zM1366.6 929.7h8.3v8.3h-8.3zM1371.2 928.6h8.3v8.3h-8.3zM1375.8 927.7h8.3v8.3h-8.3zM1380.5 926.8h8.3v8.3h-8.3zM1385.1 926.1h8.3v8.3h-8.3zM1389.8 925.5h8.3v8.3h-8.3zM1394.4 925.1h8.3v8.3h-8.3zM1399.0 924.6h8.3v8.3h-8.3zM1403.7 924.2h8.3v8.3h-8.3zM1408.3 923.8h8.3v8.3h-8.3zM1413.0 923.5h8.3v8.3h-8.3zM1417.6 923.3h8.3v8.3h-8.3zM1422.2 923.2h8.3v8.3h-8.3zM1426.9 923.2h8.3v8.3h-8.3zM1431.5 923.2h8.3v8.3h-8.3zM1436.2 923.2h8.3v8.3h-8.3zM1440.8 923.2h8.3v8.3h-8.3zM1445.4 923.3h8.3v8.3h-8.3zM1450.1 923.5h8.3v8.3h-8.3zM1454.7 924.0h8.3v8.3h-8.3zM1459.4 924.7h8.3v8.3h-8.3zM1464.0 925.4h8.3v8.3h-8.3zM1468.6 926.1h8.3v8.3h-8.3zM1473.3 926.8h8.3v8.3h-8.3zM1477.9 927.6h8.3v8.3h-8.3zM1482.6 928.5h8.3v8.3h-8.3zM1487.2 929.4h8.3v8.3h-8.3zM1491.8 930.4h8.3v8.3h-8.3zM1496.5 931.5h8.3v8.3h-8.3zM1501.1 932.7h8.3v8.3h-8.3zM1505.8 934.1h8.3v8.3h-8.3zM1510.4 935.6h8.3v8.3h-8.3zM1515.0 937.2h8.3v8.3h-8.3zM1519.7 938.9h8.3v8.3h-8.3zM1524.3 940.7h8.3v8.3h-8.3zM1529.0 942.6h8.3v8.3h-8.3zM1533.6 944.5h8.3v8.3h-8.3zM1538.2 946.4h8.3v8.3h-8.3zM1542.9 948.5h8.3v8.3h-8.3zM1547.5 950.6h8.3v8.3h-8.3zM1552.2 952.8h8.3v8.3h-8.3zM1556.8 955.0h8.3v8.3h-8.3zM1561.4 957.3h8.3v8.3h-8.3zM1566.1 959.4h8.3v8.3h-8.3zM1570.7 961.6h8.3v8.3h-8.3zM1575.4 963.8h8.3v8.3h-8.3zM1580.0 966.0h8.3v8.3h-8.3zM1584.6 968.3h8.3v8.3h-8.3zM1589.3 970.5h8.3v8.3h-8.3zM1593.9 972.7h8.3v8.3h-8.3zM1598.6 974.8h8.3v8.3h-8.3zM1603.2 976.9h8.3v8.3h-8.3zM1607.8 979.0h8.3v8.3h-8.3zM1612.5 981.1h8.3v8.3h-8.3zM1617.1 983.2h8.3v8.3h-8.3zM1621.8 985.2h8.3v8.3h-8.3zM1626.4 987.1h8.3v8.3h-8.3zM1631.0 989.1h8.3v8.3h-8.3zM1635.7 990.9h8.3v8.3h-8.3zM1640.3 992.7h8.3v8.3h-8.3zM1645.0 994.5h8.3v8.3h-8.3zM1649.6 996.3h8.3v8.3h-8.3zM1654.2 998.0h8.3v8.3h-8.3zM1658.9 999.6h8.3v8.3h-8.3zM1663.5 1001.1h8.3v8.3h-8.3zM1668.2 1002.5h8.3v8.3h-8.3zM1672.8 1003.9h8.3v8.3h-8.3zM1677.4 1005.2h8.3v8.3h-8.3zM1682.1 1006.4h8.3v8.3h-8.3zM1686.7 1007.6h8.3v8.3h-8.3zM1691.4 1008.7h8.3v8.3h-8.3zM1696.0 1009.7h8.3v8.3h-8.3zM1700.6 1010.7h8.3v8.3h-8.3zM1705.3 1011.6h8.3v8.3h-8.3zM1709.9 1012.5h8.3v8.3h-8.3zM1714.6 1013.3h8.3v8.3h-8.3zM1719.2 1014.1h8.3v8.3h-8.3zM1723.8 1014.8h8.3v8.3h-8.3zM1728.5 1015.4h8.3v8.3h-8.3zM1733.1 1016.0h8.3v8.3h-8.3zM1737.8 1016.5h8.3v8.3h-8.3zM1742.4 1017.0h8.3v8.3h-8.3zM1747.0 1017.5h8.3v8.3h-8.3zM1751.7 1017.9h8.3v8.3h-8.3zM1756.3 1018.4h8.3v8.3h-8.3zM1761.0 1018.8h8.3v8.3h-8.3zM1765.6 1019.2h8.3v8.3h-8.3zM1770.2 1019.6h8.3v8.3h-8.3zM1774.9 1020.0h8.3v8.3h-8.3zM1779.5 1020.3h8.3v8.3h-8.3zM1784.2 1020.6h8.3v8.3h-8.3zM1788.8 1020.9h8.3v8.3h-8.3zM1793.4 1021.1h8.3v8.3h-8.3zM1798.1 1021.3h8.3v8.3h-8.3zM1802.7 1021.4h8.3v8.3h-8.3z"/>
<polyline fill="none" stroke="#79b24a" stroke-width="3.6" stroke-linejoin="round" points="1134.1,1023.8 1138.7,1023.7 1143.3,1023.5 1148.0,1023.2 1152.6,1022.7 1157.3,1022.2 1161.9,1021.5 1166.5,1020.8 1171.2,1020.1 1175.8,1019.2 1180.5,1018.3 1185.1,1017.4 1189.7,1016.5 1194.4,1015.5 1199.0,1014.5 1203.7,1013.2 1208.3,1011.7 1212.9,1010.0 1217.6,1008.1 1222.2,1006.1 1226.9,1003.9 1231.5,1001.7 1236.1,999.4 1240.8,997.1 1245.4,994.7 1250.1,992.4 1254.7,990.1 1259.3,987.8 1264.0,985.5 1268.6,983.2 1273.3,980.7 1277.9,978.2 1282.5,975.6 1287.2,972.9 1291.8,970.1 1296.5,967.2 1301.1,964.0 1305.7,960.7 1310.4,957.4 1315.0,954.1 1319.7,950.8 1324.3,947.6 1328.9,944.5 1333.6,941.4 1338.2,938.2 1342.9,935.1 1347.5,932.1 1352.1,929.2 1356.8,926.4 1361.4,923.8 1366.1,921.2 1370.7,918.7 1375.3,916.2 1380.0,913.9 1384.6,911.8 1389.3,909.9 1393.9,908.2 1398.5,906.7 1403.2,905.3 1407.8,904.0 1412.5,902.7 1417.1,901.7 1421.7,900.8 1426.4,900.1 1431.0,899.5 1435.7,899.0 1440.3,898.6 1444.9,898.3 1449.6,898.3 1454.2,898.5 1458.9,898.8 1463.5,899.3 1468.1,899.9 1472.8,900.5 1477.4,901.6 1482.1,903.0 1486.7,904.6 1491.3,906.5 1496.0,908.6 1500.6,910.7 1505.3,913.0 1509.9,915.6 1514.5,918.6 1519.2,921.9 1523.8,925.4 1528.5,928.9 1533.1,932.4 1537.7,935.7 1542.4,939.0 1547.0,942.3 1551.7,945.6 1556.3,948.9 1560.9,952.2 1565.6,955.5 1570.2,958.7 1574.9,961.8 1579.5,964.9 1584.1,968.1 1588.8,971.1 1593.4,974.1 1598.1,977.1 1602.7,980.0 1607.3,982.8 1612.0,985.6 1616.6,988.3 1621.3,991.0 1625.9,993.7 1630.5,996.2 1635.2,998.5 1639.8,1000.7 1644.5,1002.8 1649.1,1004.8 1653.7,1006.7 1658.4,1008.6 1663.0,1010.3 1667.7,1011.9 1672.3,1013.4 1676.9,1014.8 1681.6,1016.1 1686.2,1017.4 1690.9,1018.6 1695.5,1019.7 1700.1,1020.6 1704.8,1021.5 1709.4,1022.3 1714.1,1023.0 1718.7,1023.7 1723.3,1024.3 1728.0,1024.8 1732.6,1025.3 1737.3,1025.6 1741.9,1025.9 1746.5,1026.1 1751.2,1026.4 1755.8,1026.6 1760.5,1026.8 1765.1,1027.0 1769.7,1027.2 1774.4,1027.4 1779.0,1027.5 1783.7,1027.7 1788.3,1027.8 1792.9,1027.9 1797.6,1028.0 1802.2,1028.0 1806.9,1028.1"/>
<path fill="#79b24a" d="M1129.9 1019.7h8.3v8.3h-8.3zM1134.6 1019.6h8.3v8.3h-8.3zM1139.2 1019.3h8.3v8.3h-8.3zM1143.8 1019.0h8.3v8.3h-8.3zM1148.5 1018.6h8.3v8.3h-8.3zM1153.1 1018.0h8.3v8.3h-8.3zM1157.8 1017.4h8.3v8.3h-8.3zM1162.4 1016.7h8.3v8.3h-8.3zM1167.0 1015.9h8.3v8.3h-8.3zM1171.7 1015.1h8.3v8.3h-8.3zM1176.3 1014.2h8.3v8.3h-8.3zM1181.0 1013.3h8.3v8.3h-8.3zM1185.6 1012.3h8.3v8.3h-8.3zM1190.2 1011.4h8.3v8.3h-8.3zM1194.9 1010.3h8.3v8.3h-8.3zM1199.5 1009.1h8.3v8.3h-8.3zM1204.2 1007.5h8.3v8.3h-8.3zM1208.8 1005.8h8.3v8.3h-8.3zM1213.4 1004.0h8.3v8.3h-8.3zM1218.1 1001.9h8.3v8.3h-8.3zM1222.7 999.8h8.3v8.3h-8.3zM1227.4 997.6h8.3v8.3h-8.3zM1232.0 995.3h8.3v8.3h-8.3zM1236.6 992.9h8.3v8.3h-8.3zM1241.3 990.6h8.3v8.3h-8.3zM1245.9 988.2h8.3v8.3h-8.3zM1250.6 985.9h8.3v8.3h-8.3zM1255.2 983.7h8.3v8.3h-8.3zM1259.8 981.4h8.3v8.3h-8.3zM1264.5 979.0h8.3v8.3h-8.3zM1269.1 976.6h8.3v8.3h-8.3zM1273.8 974.1h8.3v8.3h-8.3zM1278.4 971.5h8.3v8.3h-8.3zM1283.0 968.8h8.3v8.3h-8.3zM1287.7 966.0h8.3v8.3h-8.3zM1292.3 963.0h8.3v8.3h-8.3zM1297.0 959.8h8.3v8.3h-8.3zM1301.6 956.6h8.3v8.3h-8.3zM1306.2 953.2h8.3v8.3h-8.3zM1310.9 949.9h8.3v8.3h-8.3zM1315.5 946.6h8.3v8.3h-8.3zM1320.2 943.5h8.3v8.3h-8.3zM1324.8 940.4h8.3v8.3h-8.3zM1329.4 937.2h8.3v8.3h-8.3zM1334.1 934.1h8.3v8.3h-8.3zM1338.7 931.0h8.3v8.3h-8.3zM1343.4 928.0h8.3v8.3h-8.3zM1348.0 925.0h8.3v8.3h-8.3zM1352.6 922.3h8.3v8.3h-8.3zM1357.3 919.7h8.3v8.3h-8.3zM1361.9 917.1h8.3v8.3h-8.3zM1366.6 914.5h8.3v8.3h-8.3zM1371.2 912.1h8.3v8.3h-8.3zM1375.8 909.8h8.3v8.3h-8.3zM1380.5 907.6h8.3v8.3h-8.3zM1385.1 905.7h8.3v8.3h-8.3zM1389.8 904.1h8.3v8.3h-8.3zM1394.4 902.6h8.3v8.3h-8.3zM1399.0 901.1h8.3v8.3h-8.3zM1403.7 899.8h8.3v8.3h-8.3zM1408.3 898.6h8.3v8.3h-8.3zM1413.0 897.5h8.3v8.3h-8.3zM1417.6 896.6h8.3v8.3h-8.3zM1422.2 896.0h8.3v8.3h-8.3zM1426.9 895.4h8.3v8.3h-8.3zM1431.5 894.9h8.3v8.3h-8.3zM1436.2 894.4h8.3v8.3h-8.3zM1440.8 894.2h8.3v8.3h-8.3zM1445.4 894.1h8.3v8.3h-8.3zM1450.1 894.3h8.3v8.3h-8.3zM1454.7 894.7h8.3v8.3h-8.3zM1459.4 895.1h8.3v8.3h-8.3zM1464.0 895.7h8.3v8.3h-8.3zM1468.6 896.4h8.3v8.3h-8.3zM1473.3 897.4h8.3v8.3h-8.3zM1477.9 898.8h8.3v8.3h-8.3zM1482.6 900.5h8.3v8.3h-8.3zM1487.2 902.4h8.3v8.3h-8.3zM1491.8 904.4h8.3v8.3h-8.3zM1496.5 906.6h8.3v8.3h-8.3zM1501.1 908.8h8.3v8.3h-8.3zM1505.8 911.4h8.3v8.3h-8.3zM1510.4 914.4h8.3v8.3h-8.3zM1515.0 917.8h8.3v8.3h-8.3zM1519.7 921.2h8.3v8.3h-8.3zM1524.3 924.8h8.3v8.3h-8.3zM1529.0 928.3h8.3v8.3h-8.3zM1533.6 931.5h8.3v8.3h-8.3zM1538.2 934.8h8.3v8.3h-8.3zM1542.9 938.1h8.3v8.3h-8.3zM1547.5 941.5h8.3v8.3h-8.3zM1552.2 944.8h8.3v8.3h-8.3zM1556.8 948.1h8.3v8.3h-8.3zM1561.4 951.3h8.3v8.3h-8.3zM1566.1 954.5h8.3v8.3h-8.3zM1570.7 957.7h8.3v8.3h-8.3zM1575.4 960.8h8.3v8.3h-8.3zM1580.0 963.9h8.3v8.3h-8.3zM1584.6 967.0h8.3v8.3h-8.3zM1589.3 970.0h8.3v8.3h-8.3zM1593.9 972.9h8.3v8.3h-8.3zM1598.6 975.8h8.3v8.3h-8.3zM1603.2 978.6h8.3v8.3h-8.3zM1607.8 981.4h8.3v8.3h-8.3zM1612.5 984.2h8.3v8.3h-8.3zM1617.1 986.9h8.3v8.3h-8.3zM1621.8 989.5h8.3v8.3h-8.3zM1626.4 992.0h8.3v8.3h-8.3zM1631.0 994.3h8.3v8.3h-8.3zM1635.7 996.5h8.3v8.3h-8.3zM1640.3 998.6h8.3v8.3h-8.3zM1645.0 1000.6h8.3v8.3h-8.3zM1649.6 1002.6h8.3v8.3h-8.3zM1654.2 1004.4h8.3v8.3h-8.3zM1658.9 1006.1h8.3v8.3h-8.3zM1663.5 1007.7h8.3v8.3h-8.3zM1668.2 1009.2h8.3v8.3h-8.3zM1672.8 1010.6h8.3v8.3h-8.3zM1677.4 1012.0h8.3v8.3h-8.3zM1682.1 1013.2h8.3v8.3h-8.3zM1686.7 1014.4h8.3v8.3h-8.3zM1691.4 1015.5h8.3v8.3h-8.3zM1696.0 1016.5h8.3v8.3h-8.3zM1700.6 1017.3h8.3v8.3h-8.3zM1705.3 1018.1h8.3v8.3h-8.3zM1709.9 1018.8h8.3v8.3h-8.3zM1714.6 1019.5h8.3v8.3h-8.3zM1719.2 1020.1h8.3v8.3h-8.3zM1723.8 1020.7h8.3v8.3h-8.3zM1728.5 1021.1h8.3v8.3h-8.3zM1733.1 1021.5h8.3v8.3h-8.3zM1737.8 1021.7h8.3v8.3h-8.3zM1742.4 1022.0h8.3v8.3h-8.3zM1747.0 1022.2h8.3v8.3h-8.3zM1751.7 1022.5h8.3v8.3h-8.3zM1756.3 1022.7h8.3v8.3h-8.3zM1761.0 1022.9h8.3v8.3h-8.3zM1765.6 1023.1h8.3v8.3h-8.3zM1770.2 1023.2h8.3v8.3h-8.3zM1774.9 1023.4h8.3v8.3h-8.3zM1779.5 1023.5h8.3v8.3h-8.3zM1784.2 1023.6h8.3v8.3h-8.3zM1788.8 1023.7h8.3v8.3h-8.3zM1793.4 1023.8h8.3v8.3h-8.3zM1798.1 1023.9h8.3v8.3h-8.3zM1802.7 1023.9h8.3v8.3h-8.3z"/>
<polyline fill="none" stroke="#3c82c2" stroke-width="3.6" stroke-linejoin="round" points="1134.1,1031.7 1138.7,1031.7 1143.3,1031.7 1148.0,1031.7 1152.6,1031.7 1157.3,1031.7 1161.9,1031.7 1166.5,1031.7 1171.2,1031.7 1175.8,1031.7 1180.5,1031.7 1185.1,1031.7 1189.7,1031.6 1194.4,1031.4 1199.0,1031.3 1203.7,1031.1 1208.3,1030.9 1212.9,1030.6 1217.6,1030.4 1222.2,1030.1 1226.9,1029.8 1231.5,1029.4 1236.1,1028.9 1240.8,1028.3 1245.4,1027.6 1250.1,1026.9 1254.7,1026.0 1259.3,1024.9 1264.0,1023.1 1268.6,1020.7 1273.3,1017.7 1277.9,1014.4 1282.5,1010.8 1287.2,1007.0 1291.8,1003.1 1296.5,998.7 1301.1,993.6 1305.7,988.0 1310.4,982.2 1315.0,976.1 1319.7,970.1 1324.3,964.3 1328.9,958.5 1333.6,952.4 1338.2,946.3 1342.9,940.2 1347.5,934.1 1352.1,928.0 1356.8,922.1 1361.4,916.4 1366.1,910.5 1370.7,904.5 1375.3,898.6 1380.0,892.9 1384.6,887.6 1389.3,882.8 1393.9,878.6 1398.5,874.8 1403.2,871.3 1407.8,868.1 1412.5,865.3 1417.1,862.8 1421.7,860.4 1426.4,858.0 1431.0,855.8 1435.7,854.0 1440.3,853.0 1444.9,852.9 1449.6,853.6 1454.2,854.8 1458.9,856.4 1463.5,858.8 1468.1,861.8 1472.8,865.0 1477.4,868.5 1482.1,872.2 1486.7,876.2 1491.3,880.4 1496.0,884.7 1500.6,889.1 1505.3,893.7 1509.9,898.6 1514.5,903.8 1519.2,909.2 1523.8,914.7 1528.5,920.1 1533.1,925.2 1537.7,930.1 1542.4,934.8 1547.0,939.4 1551.7,943.9 1556.3,948.3 1560.9,952.7 1565.6,956.9 1570.2,961.0 1574.9,965.1 1579.5,969.2 1584.1,973.2 1588.8,977.1 1593.4,980.8 1598.1,984.4 1602.7,987.7 1607.3,990.9 1612.0,993.9 1616.6,996.9 1621.3,999.7 1625.9,1002.3 1630.5,1004.8 1635.2,1007.1 1639.8,1009.1 1644.5,1011.0 1649.1,1012.8 1653.7,1014.4 1658.4,1016.0 1663.0,1017.4 1667.7,1018.7 1672.3,1019.9 1676.9,1021.1 1681.6,1022.2 1686.2,1023.2 1690.9,1024.2 1695.5,1025.0 1700.1,1025.7 1704.8,1026.3 1709.4,1026.8 1714.1,1027.2 1718.7,1027.6 1723.3,1028.0 1728.0,1028.2 1732.6,1028.5 1737.3,1028.7 1741.9,1028.8 1746.5,1028.9 1751.2,1029.0 1755.8,1029.2 1760.5,1029.3 1765.1,1029.4 1769.7,1029.5 1774.4,1029.6 1779.0,1029.6 1783.7,1029.7 1788.3,1029.8 1792.9,1029.8 1797.6,1029.8 1802.2,1029.9 1806.9,1029.9"/>
<path fill="#3c82c2" d="M1129.9 1027.5h8.3v8.3h-8.3zM1134.6 1027.5h8.3v8.3h-8.3zM1139.2 1027.5h8.3v8.3h-8.3zM1143.8 1027.5h8.3v8.3h-8.3zM1148.5 1027.5h8.3v8.3h-8.3zM1153.1 1027.5h8.3v8.3h-8.3zM1157.8 1027.5h8.3v8.3h-8.3zM1162.4 1027.5h8.3v8.3h-8.3zM1167.0 1027.5h8.3v8.3h-8.3zM1171.7 1027.5h8.3v8.3h-8.3zM1176.3 1027.5h8.3v8.3h-8.3zM1181.0 1027.5h8.3v8.3h-8.3zM1185.6 1027.4h8.3v8.3h-8.3zM1190.2 1027.3h8.3v8.3h-8.3zM1194.9 1027.1h8.3v8.3h-8.3zM1199.5 1026.9h8.3v8.3h-8.3zM1204.2 1026.7h8.3v8.3h-8.3zM1208.8 1026.5h8.3v8.3h-8.3zM1213.4 1026.3h8.3v8.3h-8.3zM1218.1 1026.0h8.3v8.3h-8.3zM1222.7 1025.6h8.3v8.3h-8.3zM1227.4 1025.2h8.3v8.3h-8.3zM1232.0 1024.7h8.3v8.3h-8.3zM1236.6 1024.1h8.3v8.3h-8.3zM1241.3 1023.5h8.3v8.3h-8.3zM1245.9 1022.7h8.3v8.3h-8.3zM1250.6 1021.8h8.3v8.3h-8.3zM1255.2 1020.7h8.3v8.3h-8.3zM1259.8 1018.9h8.3v8.3h-8.3zM1264.5 1016.5h8.3v8.3h-8.3zM1269.1 1013.6h8.3v8.3h-8.3zM1273.8 1010.2h8.3v8.3h-8.3zM1278.4 1006.6h8.3v8.3h-8.3zM1283.0 1002.8h8.3v8.3h-8.3zM1287.7 999.0h8.3v8.3h-8.3zM1292.3 994.6h8.3v8.3h-8.3zM1297.0 989.5h8.3v8.3h-8.3zM1301.6 983.9h8.3v8.3h-8.3zM1306.2 978.0h8.3v8.3h-8.3zM1310.9 972.0h8.3v8.3h-8.3zM1315.5 966.0h8.3v8.3h-8.3zM1320.2 960.1h8.3v8.3h-8.3zM1324.8 954.3h8.3v8.3h-8.3zM1329.4 948.3h8.3v8.3h-8.3zM1334.1 942.2h8.3v8.3h-8.3zM1338.7 936.1h8.3v8.3h-8.3zM1343.4 929.9h8.3v8.3h-8.3zM1348.0 923.9h8.3v8.3h-8.3zM1352.6 918.0h8.3v8.3h-8.3zM1357.3 912.2h8.3v8.3h-8.3zM1361.9 906.3h8.3v8.3h-8.3zM1366.6 900.3h8.3v8.3h-8.3zM1371.2 894.5h8.3v8.3h-8.3zM1375.8 888.8h8.3v8.3h-8.3zM1380.5 883.5h8.3v8.3h-8.3zM1385.1 878.6h8.3v8.3h-8.3zM1389.8 874.4h8.3v8.3h-8.3zM1394.4 870.7h8.3v8.3h-8.3zM1399.0 867.2h8.3v8.3h-8.3zM1403.7 864.0h8.3v8.3h-8.3zM1408.3 861.1h8.3v8.3h-8.3zM1413.0 858.7h8.3v8.3h-8.3zM1417.6 856.2h8.3v8.3h-8.3zM1422.2 853.8h8.3v8.3h-8.3zM1426.9 851.6h8.3v8.3h-8.3zM1431.5 849.9h8.3v8.3h-8.3zM1436.2 848.8h8.3v8.3h-8.3zM1440.8 848.7h8.3v8.3h-8.3zM1445.4 849.4h8.3v8.3h-8.3zM1450.1 850.7h8.3v8.3h-8.3zM1454.7 852.2h8.3v8.3h-8.3zM1459.4 854.6h8.3v8.3h-8.3zM1464.0 857.7h8.3v8.3h-8.3zM1468.6 860.9h8.3v8.3h-8.3zM1473.3 864.3h8.3v8.3h-8.3zM1477.9 868.1h8.3v8.3h-8.3zM1482.6 872.1h8.3v8.3h-8.3zM1487.2 876.2h8.3v8.3h-8.3zM1491.8 880.6h8.3v8.3h-8.3zM1496.5 885.0h8.3v8.3h-8.3zM1501.1 889.5h8.3v8.3h-8.3zM1505.8 894.4h8.3v8.3h-8.3zM1510.4 899.6h8.3v8.3h-8.3zM1515.0 905.0h8.3v8.3h-8.3zM1519.7 910.5h8.3v8.3h-8.3zM1524.3 915.9h8.3v8.3h-8.3zM1529.0 921.1h8.3v8.3h-8.3zM1533.6 926.0h8.3v8.3h-8.3zM1538.2 930.7h8.3v8.3h-8.3zM1542.9 935.3h8.3v8.3h-8.3zM1547.5 939.8h8.3v8.3h-8.3zM1552.2 944.2h8.3v8.3h-8.3zM1556.8 948.5h8.3v8.3h-8.3zM1561.4 952.7h8.3v8.3h-8.3zM1566.1 956.9h8.3v8.3h-8.3zM1570.7 961.0h8.3v8.3h-8.3zM1575.4 965.0h8.3v8.3h-8.3zM1580.0 969.0h8.3v8.3h-8.3zM1584.6 972.9h8.3v8.3h-8.3zM1589.3 976.7h8.3v8.3h-8.3zM1593.9 980.2h8.3v8.3h-8.3zM1598.6 983.6h8.3v8.3h-8.3zM1603.2 986.7h8.3v8.3h-8.3zM1607.8 989.8h8.3v8.3h-8.3zM1612.5 992.7h8.3v8.3h-8.3zM1617.1 995.5h8.3v8.3h-8.3zM1621.8 998.2h8.3v8.3h-8.3zM1626.4 1000.7h8.3v8.3h-8.3zM1631.0 1002.9h8.3v8.3h-8.3zM1635.7 1004.9h8.3v8.3h-8.3zM1640.3 1006.8h8.3v8.3h-8.3zM1645.0 1008.6h8.3v8.3h-8.3zM1649.6 1010.3h8.3v8.3h-8.3zM1654.2 1011.8h8.3v8.3h-8.3zM1658.9 1013.3h8.3v8.3h-8.3zM1663.5 1014.6h8.3v8.3h-8.3zM1668.2 1015.8h8.3v8.3h-8.3zM1672.8 1016.9h8.3v8.3h-8.3zM1677.4 1018.1h8.3v8.3h-8.3zM1682.1 1019.1h8.3v8.3h-8.3zM1686.7 1020.0h8.3v8.3h-8.3zM1691.4 1020.9h8.3v8.3h-8.3zM1696.0 1021.6h8.3v8.3h-8.3zM1700.6 1022.2h8.3v8.3h-8.3zM1705.3 1022.6h8.3v8.3h-8.3zM1709.9 1023.1h8.3v8.3h-8.3zM1714.6 1023.5h8.3v8.3h-8.3zM1719.2 1023.8h8.3v8.3h-8.3zM1723.8 1024.1h8.3v8.3h-8.3zM1728.5 1024.3h8.3v8.3h-8.3zM1733.1 1024.5h8.3v8.3h-8.3zM1737.8 1024.6h8.3v8.3h-8.3zM1742.4 1024.8h8.3v8.3h-8.3zM1747.0 1024.9h8.3v8.3h-8.3zM1751.7 1025.0h8.3v8.3h-8.3zM1756.3 1025.1h8.3v8.3h-8.3zM1761.0 1025.2h8.3v8.3h-8.3zM1765.6 1025.3h8.3v8.3h-8.3zM1770.2 1025.4h8.3v8.3h-8.3zM1774.9 1025.5h8.3v8.3h-8.3zM1779.5 1025.5h8.3v8.3h-8.3zM1784.2 1025.6h8.3v8.3h-8.3zM1788.8 1025.7h8.3v8.3h-8.3zM1793.4 1025.7h8.3v8.3h-8.3zM1798.1 1025.7h8.3v8.3h-8.3zM1802.7 1025.7h8.3v8.3h-8.3z"/>
<polyline fill="none" stroke="#2b398b" stroke-width="3.6" stroke-linejoin="round" points="1134.1,1031.7 1138.7,1031.7 1143.3,1031.7 1148.0,1031.7 1152.6,1031.7 1157.3,1031.7 1161.9,1031.7 1166.5,1031.7 1171.2,1031.7 1175.8,1031.7 1180.5,1031.7 1185.1,1031.7 1189.7,1031.7 1194.4,1031.7 1199.0,1031.7 1203.7,1031.7 1208.3,1031.7 1212.9,1031.7 1217.6,1031.7 1222.2,1031.7 1226.9,1031.7 1231.5,1031.7 1236.1,1031.7 1240.8,1031.7 1245.4,1031.7 1250.1,1031.7 1254.7,1031.7 1259.3,1031.7 1264.0,1031.7 1268.6,1031.7 1273.3,1031.7 1277.9,1031.7 1282.5,1031.7 1287.2,1031.7 1291.8,1031.7 1296.5,1031.7 1301.1,1031.7 1305.7,1031.7 1310.4,1031.7 1315.0,1031.7 1319.7,1031.7 1324.3,1031.7 1328.9,1031.7 1333.6,1031.7 1338.2,1031.7 1342.9,1031.7 1347.5,1031.7 1352.1,1031.4 1356.8,1030.9 1361.4,1029.9 1366.1,1026.8 1370.7,1022.1 1375.3,1016.3 1380.0,1007.5 1384.6,996.0 1389.3,982.5 1393.9,964.8 1398.5,941.7 1403.2,917.2 1407.8,892.1 1412.5,865.1 1417.1,836.3 1421.7,806.3 1426.4,777.4 1431.0,749.5 1435.7,725.3 1440.3,703.8 1444.9,689.2 1449.6,679.7 1454.2,674.9 1458.9,674.5 1463.5,678.7 1468.1,687.5 1472.8,700.1 1477.4,717.0 1482.1,735.7 1486.7,756.7 1491.3,777.4 1496.0,797.8 1500.6,816.7 1505.3,833.8 1509.9,849.7 1514.5,864.6 1519.2,878.8 1523.8,892.8 1528.5,906.3 1533.1,918.4 1537.7,929.5 1542.4,940.1 1547.0,950.1 1551.7,959.3 1556.3,967.8 1560.9,975.6 1565.6,982.9 1570.2,989.4 1574.9,994.7 1579.5,999.5 1584.1,1003.7 1588.8,1007.3 1593.4,1010.5 1598.1,1013.4 1602.7,1015.9 1607.3,1018.1 1612.0,1020.2 1616.6,1022.0 1621.3,1023.3 1625.9,1024.4 1630.5,1025.2 1635.2,1025.9 1639.8,1026.5 1644.5,1027.1 1649.1,1027.6 1653.7,1028.1 1658.4,1028.5 1663.0,1028.9 1667.7,1029.1 1672.3,1029.3 1676.9,1029.5 1681.6,1029.6 1686.2,1029.8 1690.9,1029.9 1695.5,1030.0 1700.1,1030.1 1704.8,1030.2 1709.4,1030.3 1714.1,1030.3 1718.7,1030.4 1723.3,1030.5 1728.0,1030.5 1732.6,1030.6 1737.3,1030.6 1741.9,1030.7 1746.5,1030.7 1751.2,1030.8 1755.8,1030.8 1760.5,1030.8 1765.1,1030.9 1769.7,1030.9 1774.4,1031.0 1779.0,1031.0 1783.7,1031.0 1788.3,1031.0 1792.9,1031.1 1797.6,1031.1 1802.2,1031.1 1806.9,1031.1"/>
<path fill="#2b398b" d="M1129.9 1027.5h8.3v8.3h-8.3zM1134.6 1027.5h8.3v8.3h-8.3zM1139.2 1027.5h8.3v8.3h-8.3zM1143.8 1027.5h8.3v8.3h-8.3zM1148.5 1027.5h8.3v8.3h-8.3zM1153.1 1027.5h8.3v8.3h-8.3zM1157.8 1027.5h8.3v8.3h-8.3zM1162.4 1027.5h8.3v8.3h-8.3zM1167.0 1027.5h8.3v8.3h-8.3zM1171.7 1027.5h8.3v8.3h-8.3zM1176.3 1027.5h8.3v8.3h-8.3zM1181.0 1027.5h8.3v8.3h-8.3zM1185.6 1027.5h8.3v8.3h-8.3zM1190.2 1027.5h8.3v8.3h-8.3zM1194.9 1027.5h8.3v8.3h-8.3zM1199.5 1027.5h8.3v8.3h-8.3zM1204.2 1027.5h8.3v8.3h-8.3zM1208.8 1027.5h8.3v8.3h-8.3zM1213.4 1027.5h8.3v8.3h-8.3zM1218.1 1027.5h8.3v8.3h-8.3zM1222.7 1027.5h8.3v8.3h-8.3zM1227.4 1027.5h8.3v8.3h-8.3zM1232.0 1027.5h8.3v8.3h-8.3zM1236.6 1027.5h8.3v8.3h-8.3zM1241.3 1027.5h8.3v8.3h-8.3zM1245.9 1027.5h8.3v8.3h-8.3zM1250.6 1027.5h8.3v8.3h-8.3zM1255.2 1027.5h8.3v8.3h-8.3zM1259.8 1027.5h8.3v8.3h-8.3zM1264.5 1027.5h8.3v8.3h-8.3zM1269.1 1027.5h8.3v8.3h-8.3zM1273.8 1027.5h8.3v8.3h-8.3zM1278.4 1027.5h8.3v8.3h-8.3zM1283.0 1027.5h8.3v8.3h-8.3zM1287.7 1027.5h8.3v8.3h-8.3zM1292.3 1027.5h8.3v8.3h-8.3zM1297.0 1027.5h8.3v8.3h-8.3zM1301.6 1027.5h8.3v8.3h-8.3zM1306.2 1027.5h8.3v8.3h-8.3zM1310.9 1027.5h8.3v8.3h-8.3zM1315.5 1027.5h8.3v8.3h-8.3zM1320.2 1027.5h8.3v8.3h-8.3zM1324.8 1027.5h8.3v8.3h-8.3zM1329.4 1027.5h8.3v8.3h-8.3zM1334.1 1027.5h8.3v8.3h-8.3zM1338.7 1027.5h8.3v8.3h-8.3zM1343.4 1027.5h8.3v8.3h-8.3zM1348.0 1027.3h8.3v8.3h-8.3zM1352.6 1026.7h8.3v8.3h-8.3zM1357.3 1025.7h8.3v8.3h-8.3zM1361.9 1022.7h8.3v8.3h-8.3zM1366.6 1018.0h8.3v8.3h-8.3zM1371.2 1012.1h8.3v8.3h-8.3zM1375.8 1003.4h8.3v8.3h-8.3zM1380.5 991.9h8.3v8.3h-8.3zM1385.1 978.4h8.3v8.3h-8.3zM1389.8 960.6h8.3v8.3h-8.3zM1394.4 937.5h8.3v8.3h-8.3zM1399.0 913.0h8.3v8.3h-8.3zM1403.7 887.9h8.3v8.3h-8.3zM1408.3 861.0h8.3v8.3h-8.3zM1413.0 832.1h8.3v8.3h-8.3zM1417.6 802.1h8.3v8.3h-8.3zM1422.2 773.2h8.3v8.3h-8.3zM1426.9 745.3h8.3v8.3h-8.3zM1431.5 721.2h8.3v8.3h-8.3zM1436.2 699.6h8.3v8.3h-8.3zM1440.8 685.1h8.3v8.3h-8.3zM1445.4 675.6h8.3v8.3h-8.3zM1450.1 670.7h8.3v8.3h-8.3zM1454.7 670.4h8.3v8.3h-8.3zM1459.4 674.6h8.3v8.3h-8.3zM1464.0 683.4h8.3v8.3h-8.3zM1468.6 696.0h8.3v8.3h-8.3zM1473.3 712.9h8.3v8.3h-8.3zM1477.9 731.5h8.3v8.3h-8.3zM1482.6 752.5h8.3v8.3h-8.3zM1487.2 773.3h8.3v8.3h-8.3zM1491.8 793.6h8.3v8.3h-8.3zM1496.5 812.6h8.3v8.3h-8.3zM1501.1 829.7h8.3v8.3h-8.3zM1505.8 845.6h8.3v8.3h-8.3zM1510.4 860.5h8.3v8.3h-8.3zM1515.0 874.6h8.3v8.3h-8.3zM1519.7 888.6h8.3v8.3h-8.3zM1524.3 902.1h8.3v8.3h-8.3zM1529.0 914.2h8.3v8.3h-8.3zM1533.6 925.4h8.3v8.3h-8.3zM1538.2 936.0h8.3v8.3h-8.3zM1542.9 946.0h8.3v8.3h-8.3zM1547.5 955.2h8.3v8.3h-8.3zM1552.2 963.7h8.3v8.3h-8.3zM1556.8 971.4h8.3v8.3h-8.3zM1561.4 978.8h8.3v8.3h-8.3zM1566.1 985.2h8.3v8.3h-8.3zM1570.7 990.6h8.3v8.3h-8.3zM1575.4 995.4h8.3v8.3h-8.3zM1580.0 999.6h8.3v8.3h-8.3zM1584.6 1003.2h8.3v8.3h-8.3zM1589.3 1006.4h8.3v8.3h-8.3zM1593.9 1009.2h8.3v8.3h-8.3zM1598.6 1011.7h8.3v8.3h-8.3zM1603.2 1014.0h8.3v8.3h-8.3zM1607.8 1016.1h8.3v8.3h-8.3zM1612.5 1017.8h8.3v8.3h-8.3zM1617.1 1019.2h8.3v8.3h-8.3zM1621.8 1020.2h8.3v8.3h-8.3zM1626.4 1021.1h8.3v8.3h-8.3zM1631.0 1021.8h8.3v8.3h-8.3zM1635.7 1022.4h8.3v8.3h-8.3zM1640.3 1022.9h8.3v8.3h-8.3zM1645.0 1023.5h8.3v8.3h-8.3zM1649.6 1023.9h8.3v8.3h-8.3zM1654.2 1024.4h8.3v8.3h-8.3zM1658.9 1024.7h8.3v8.3h-8.3zM1663.5 1025.0h8.3v8.3h-8.3zM1668.2 1025.2h8.3v8.3h-8.3zM1672.8 1025.3h8.3v8.3h-8.3zM1677.4 1025.5h8.3v8.3h-8.3zM1682.1 1025.6h8.3v8.3h-8.3zM1686.7 1025.7h8.3v8.3h-8.3zM1691.4 1025.8h8.3v8.3h-8.3zM1696.0 1025.9h8.3v8.3h-8.3zM1700.6 1026.0h8.3v8.3h-8.3zM1705.3 1026.1h8.3v8.3h-8.3zM1709.9 1026.2h8.3v8.3h-8.3zM1714.6 1026.2h8.3v8.3h-8.3zM1719.2 1026.3h8.3v8.3h-8.3zM1723.8 1026.4h8.3v8.3h-8.3zM1728.5 1026.4h8.3v8.3h-8.3zM1733.1 1026.5h8.3v8.3h-8.3zM1737.8 1026.5h8.3v8.3h-8.3zM1742.4 1026.6h8.3v8.3h-8.3zM1747.0 1026.6h8.3v8.3h-8.3zM1751.7 1026.6h8.3v8.3h-8.3zM1756.3 1026.7h8.3v8.3h-8.3zM1761.0 1026.7h8.3v8.3h-8.3zM1765.6 1026.8h8.3v8.3h-8.3zM1770.2 1026.8h8.3v8.3h-8.3zM1774.9 1026.8h8.3v8.3h-8.3zM1779.5 1026.9h8.3v8.3h-8.3zM1784.2 1026.9h8.3v8.3h-8.3zM1788.8 1026.9h8.3v8.3h-8.3zM1793.4 1026.9h8.3v8.3h-8.3zM1798.1 1026.9h8.3v8.3h-8.3zM1802.7 1026.9h8.3v8.3h-8.3z"/>
</g>
<text x="1093.4" y="683.5" font-size="38.6" textLength="21.3" lengthAdjust="spacingAndGlyphs">6</text>
<text x="1094.7" y="743.8" font-size="38.6" textLength="19.9" lengthAdjust="spacingAndGlyphs">5</text>
<text x="1093.3" y="804.3" font-size="38.6" textLength="20.9" lengthAdjust="spacingAndGlyphs">4</text>
<text x="1094.7" y="864.9" font-size="38.6" textLength="19.9" lengthAdjust="spacingAndGlyphs">3</text>
<text x="1093.8" y="925.6" font-size="38.6" textLength="21.3" lengthAdjust="spacingAndGlyphs">2</text>
<text x="1101.4" y="986.2" font-size="38.6" textLength="12.8" lengthAdjust="spacingAndGlyphs">1</text>
<text x="1093.6" y="1046.2" font-size="38.6" textLength="20.9" lengthAdjust="spacingAndGlyphs">0</text>
<text x="1190.9" y="1077.0" font-size="38.6" textLength="45.2" lengthAdjust="spacingAndGlyphs">0.1</text>
<text x="1284.3" y="1077.0" font-size="38.6" textLength="47.6" lengthAdjust="spacingAndGlyphs">0.2</text>
<text x="1377.0" y="1077.0" font-size="38.6" textLength="47.2" lengthAdjust="spacingAndGlyphs">0.3</text>
<text x="1469.3" y="1077.0" font-size="38.6" textLength="49.1" lengthAdjust="spacingAndGlyphs">0.4</text>
<text x="1562.9" y="1077.0" font-size="38.6" textLength="47.2" lengthAdjust="spacingAndGlyphs">0.5</text>
<text x="1655.6" y="1077.0" font-size="38.6" textLength="48.1" lengthAdjust="spacingAndGlyphs">0.6</text>
<text x="1748.8" y="1077.0" font-size="38.6" textLength="47.1" lengthAdjust="spacingAndGlyphs">0.7</text>
<text x="1453.3" y="1112.0" font-size="37.5" font-style="italic" textLength="34.0" lengthAdjust="spacingAndGlyphs" font-family="'Liberation Serif', serif">ω</text>
<text transform="translate(1062.6,972.0) rotate(-90)" font-size="41.7" textLength="229.9" lengthAdjust="spacingAndGlyphs">Intensity (a.u.)</text>
<text x="1278.6" y="639.7" font-size="43.4" textLength="25.6" lengthAdjust="spacingAndGlyphs">Δ</text>
<text x="1310.9" y="639.7" font-size="43.4" textLength="10.7" lengthAdjust="spacingAndGlyphs">/</text>
<text x="1324.4" y="639.7" font-size="43.4" font-style="italic" textLength="17.9" lengthAdjust="spacingAndGlyphs">J</text>
<text x="1343.9" y="647.4" font-size="26.0" textLength="6.6" lengthAdjust="spacingAndGlyphs">1</text>
<text x="1353.5" y="639.7" font-size="43.4" textLength="29.1" lengthAdjust="spacingAndGlyphs">=</text>
<text x="1381.6" y="639.7" font-size="43.4" textLength="72.9" lengthAdjust="spacingAndGlyphs">0.54</text>
<text x="1454.4" y="639.7" font-size="43.4" textLength="12.1" lengthAdjust="spacingAndGlyphs">,</text>
<text x="1472.9" y="639.7" font-size="43.4" textLength="38.3" lengthAdjust="spacingAndGlyphs">M</text>
<text x="1518.6" y="639.7" font-size="43.4" textLength="96.3" lengthAdjust="spacingAndGlyphs">point</text>
<text x="986.0" y="634.7" font-size="32.0" textLength="45.7" lengthAdjust="spacingAndGlyphs">(d)</text>
<path d="M1594 721.0h28.5" stroke="#2b398b" stroke-width="3.4" fill="none"/><rect x="1603.9" y="716.9" width="8.3" height="8.3" fill="#2b398b"/>
<text x="1625.1" y="734.3" font-size="38.6" font-style="italic" textLength="16.3" lengthAdjust="spacingAndGlyphs">T</text>
<text x="1642.9" y="734.3" font-size="38.6" textLength="24.7" lengthAdjust="spacingAndGlyphs">=</text>
<text x="1667.2" y="734.3" font-size="38.6" textLength="64.5" lengthAdjust="spacingAndGlyphs">0.50</text>
<text x="1746.2" y="734.3" font-size="38.6" textLength="20.5" lengthAdjust="spacingAndGlyphs">K</text>
<path d="M1594 766.2h28.5" stroke="#3c82c2" stroke-width="3.4" fill="none"/><rect x="1603.9" y="762.1" width="8.3" height="8.3" fill="#3c82c2"/>
<text x="1625.1" y="779.5" font-size="38.6" font-style="italic" textLength="16.3" lengthAdjust="spacingAndGlyphs">T</text>
<text x="1642.9" y="779.5" font-size="38.6" textLength="24.7" lengthAdjust="spacingAndGlyphs">=</text>
<text x="1667.2" y="779.5" font-size="38.6" textLength="65.1" lengthAdjust="spacingAndGlyphs">0.97</text>
<text x="1746.2" y="779.5" font-size="38.6" textLength="20.5" lengthAdjust="spacingAndGlyphs">K</text>
<path d="M1594 811.4h28.5" stroke="#79b24a" stroke-width="3.4" fill="none"/><rect x="1603.9" y="807.2" width="8.3" height="8.3" fill="#79b24a"/>
<text x="1625.1" y="824.7" font-size="38.6" font-style="italic" textLength="16.3" lengthAdjust="spacingAndGlyphs">T</text>
<text x="1642.9" y="824.7" font-size="38.6" textLength="24.7" lengthAdjust="spacingAndGlyphs">=</text>
<text x="1666.0" y="824.7" font-size="38.6" textLength="65.9" lengthAdjust="spacingAndGlyphs">1.45</text>
<text x="1746.2" y="824.7" font-size="38.6" textLength="20.5" lengthAdjust="spacingAndGlyphs">K</text>
<path d="M1594 856.6h28.5" stroke="#e9ad45" stroke-width="3.4" fill="none"/><rect x="1603.9" y="852.5" width="8.3" height="8.3" fill="#e9ad45"/>
<text x="1625.1" y="869.9" font-size="38.6" font-style="italic" textLength="16.3" lengthAdjust="spacingAndGlyphs">T</text>
<text x="1642.9" y="869.9" font-size="38.6" textLength="24.7" lengthAdjust="spacingAndGlyphs">=</text>
<text x="1666.0" y="869.9" font-size="38.6" textLength="66.1" lengthAdjust="spacingAndGlyphs">1.81</text>
<text x="1746.2" y="869.9" font-size="38.6" textLength="20.5" lengthAdjust="spacingAndGlyphs">K</text>
<path d="M1594 901.8h28.5" stroke="#8d2b37" stroke-width="3.4" fill="none"/><rect x="1603.9" y="897.6" width="8.3" height="8.3" fill="#8d2b37"/>
<text x="1625.1" y="915.1" font-size="38.6" font-style="italic" textLength="16.3" lengthAdjust="spacingAndGlyphs">T</text>
<text x="1642.9" y="915.1" font-size="38.6" textLength="24.7" lengthAdjust="spacingAndGlyphs">=</text>
<text x="1667.2" y="915.1" font-size="38.6" textLength="64.7" lengthAdjust="spacingAndGlyphs">3.63</text>
<text x="1746.2" y="915.1" font-size="38.6" textLength="20.5" lengthAdjust="spacingAndGlyphs">K</text>
<!--END-->
</svg></body></html>
